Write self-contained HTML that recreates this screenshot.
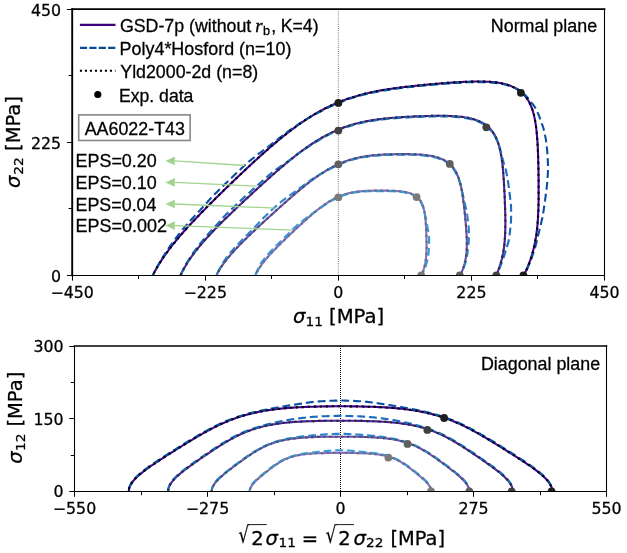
<!DOCTYPE html><html><head><meta charset="utf-8"><style>html,body{margin:0;padding:0;background:#fff}body{width:627px;height:553px;overflow:hidden}svg{display:block}</style></head><body><svg width="627" height="553" viewBox="0 0 627 553"><style>text{stroke:#000;stroke-width:0.28px;fill:#000}</style><defs><clipPath id="ct"><rect x="72.20" y="9.20" width="532.30" height="266.10"/></clipPath><clipPath id="cb"><rect x="74.50" y="346.00" width="532.00" height="145.50"/></clipPath></defs><rect width="627" height="553" fill="#fff"/><path d="M338.35 9.20V275.30" stroke="#333" stroke-width="0.8" stroke-dasharray="0.8 1.3" fill="none"/><g clip-path="url(#ct)"><path d="M521.0 280.8L521.5 280.0L521.9 279.1L522.4 278.3L522.8 277.5L523.2 276.6L523.7 275.8L524.1 274.9L524.5 274.1L524.9 273.2L525.3 272.3L525.7 271.5L526.1 270.6L526.5 269.7L526.9 268.9L527.3 268.0L527.6 267.1L528.0 266.2L528.4 265.3L528.7 264.4L529.1 263.5L529.4 262.6L529.7 261.7L530.0 260.8L530.4 259.9L530.7 259.0L531.0 258.1L531.3 257.2L531.6 256.3L531.8 255.3L532.1 254.4L532.4 253.5L532.6 252.6L532.9 251.6L533.1 250.7L533.4 249.7L533.6 248.8L533.8 247.9L534.1 246.9L534.3 246.0L534.5 245.0L534.7 244.1L534.9 243.1L535.1 242.2L535.3 241.2L535.4 240.2L535.6 239.3L535.8 238.3L535.9 237.3L536.1 236.4L536.2 235.4L536.4 234.4L536.5 233.5L536.6 232.5L536.7 231.5L536.9 230.5L537.0 229.5L537.1 228.6L537.2 227.6L537.3 226.6L537.4 225.6L537.5 224.6L537.6 223.6L537.6 222.6L537.7 221.6L537.8 220.6L537.9 219.6L537.9 218.6L538.0 217.6L538.0 216.6L538.1 215.6L538.1 214.6L538.2 213.5L538.2 212.5L538.3 211.5L538.3 210.5L538.4 209.5L538.4 208.4L538.4 207.4L538.5 206.4L538.5 205.3L538.5 204.3L538.5 203.2L538.5 202.2L538.6 201.2L538.6 200.1L538.6 199.0L538.6 198.0L538.6 196.9L538.6 195.9L538.6 194.8L538.6 193.7L538.6 192.7L538.6 191.6L538.6 190.5L538.6 189.4L538.6 188.3L538.6 187.2L538.6 186.1L538.6 185.0L538.6 183.9L538.6 182.8L538.6 181.7L538.6 180.6L538.6 179.5L538.6 178.4L538.6 177.2L538.5 176.1L538.5 175.0L538.5 173.8L538.5 172.7L538.5 171.5L538.5 170.4L538.4 169.2L538.4 168.1L538.4 166.9L538.4 165.7L538.3 164.5L538.3 163.3L538.3 162.2L538.2 161.0L538.2 159.8L538.2 158.6L538.1 157.4L538.1 156.1L538.1 154.9L538.0 153.7L538.0 152.5L537.9 151.2L537.9 150.0L537.8 148.8L537.8 147.5L537.7 146.3L537.6 145.0L537.6 143.7L537.5 142.5L537.4 141.2L537.3 139.9L537.2 138.7L537.1 137.4L537.0 136.1L536.9 134.8L536.8 133.5L536.7 132.2L536.6 130.9L536.4 129.7L536.3 128.4L536.1 127.1L535.9 125.8L535.7 124.5L535.5 123.2L535.3 121.9L535.1 120.7L534.9 119.4L534.6 118.1L534.3 116.9L534.1 115.6L533.8 114.4L533.4 113.1L533.1 111.9L532.7 110.7L532.3 109.5L531.9 108.3L531.5 107.1L531.0 106.0L530.5 104.8L530.0 103.7L529.4 102.6L528.9 101.6L528.3 100.5L527.6 99.5L527.0 98.5L526.3 97.5L525.5 96.6L524.8 95.6L524.0 94.8L523.2 93.9L522.3 93.1L521.5 92.3L520.5 91.5L519.6 90.8L518.6 90.1L517.6 89.4L516.6 88.8L515.5 88.2L514.5 87.6L513.3 87.1L512.2 86.6L511.1 86.1L509.9 85.6L508.7 85.2L507.5 84.8L506.2 84.5L505.0 84.1L503.7 83.8L502.4 83.5L501.1 83.3L499.8 83.0L498.5 82.8L497.2 82.6L495.9 82.4L494.5 82.3L493.2 82.1L491.8 82.0L490.5 81.9L489.1 81.8L487.8 81.7L486.4 81.7L485.0 81.6L483.7 81.6L482.3 81.5L481.0 81.5L479.6 81.5L478.3 81.5L476.9 81.5L475.6 81.5L474.2 81.5L472.9 81.6L471.5 81.6L470.2 81.6L468.9 81.7L467.6 81.7L466.3 81.8L465.0 81.8L463.7 81.9L462.4 82.0L461.1 82.0L459.8 82.1L458.5 82.2L457.2 82.3L456.0 82.3L454.7 82.4L453.5 82.5L452.2 82.6L451.0 82.7L449.8 82.8L448.5 82.8L447.3 82.9L446.1 83.0L444.9 83.1L443.7 83.2L442.5 83.3L441.3 83.4L440.1 83.5L439.0 83.6L437.8 83.7L436.6 83.8L435.5 83.9L434.3 84.0L433.2 84.1L432.0 84.2L430.9 84.3L429.8 84.4L428.7 84.5L427.5 84.6L426.4 84.7L425.3 84.8L424.2 84.9L423.1 85.0L422.0 85.1L421.0 85.2L419.9 85.3L418.8 85.4L417.7 85.6L416.7 85.7L415.6 85.8L414.6 85.9L413.5 86.0L412.5 86.1L411.4 86.2L410.4 86.3L409.3 86.5L408.3 86.6L407.3 86.7L406.3 86.8L405.3 86.9L404.2 87.0L403.2 87.2L402.2 87.3L401.2 87.4L400.2 87.5L399.2 87.7L398.3 87.8L397.3 87.9L396.3 88.1L395.3 88.2L394.3 88.3L393.4 88.5L392.4 88.6L391.4 88.7L390.5 88.9L389.5 89.0L388.5 89.2L387.6 89.3L386.6 89.5L385.7 89.6L384.8 89.8L383.8 89.9L382.9 90.1L381.9 90.3L381.0 90.4L380.1 90.6L379.2 90.8L378.2 90.9L377.3 91.1L376.4 91.3L375.5 91.5L374.6 91.6L373.7 91.8L372.8 92.0L371.8 92.2L370.9 92.4L370.1 92.6L369.2 92.8L368.3 93.0L367.4 93.2L366.5 93.4L365.6 93.6L364.7 93.8L363.8 94.0L363.0 94.3L362.1 94.5L361.2 94.7L360.4 95.0L359.5 95.2L358.6 95.4L357.8 95.7L356.9 95.9L356.1 96.2L355.2 96.4L354.4 96.7L353.5 96.9L352.7 97.2L351.8 97.5L351.0 97.7L350.1 98.0L349.3 98.3L348.5 98.6L347.7 98.8L346.8 99.1L346.0 99.4L345.2 99.7L344.4 100.0L343.6 100.3L342.8 100.6L341.9 100.9L341.1 101.2L340.3 101.5L339.5 101.9L338.7 102.2L338.0 102.5L337.2 102.8L336.4 103.2L335.6 103.5L334.8 103.8L334.0 104.2L333.3 104.5L332.5 104.9L331.7 105.2L331.0 105.6L330.2 105.9L329.4 106.3L328.7 106.7L327.9 107.0L327.2 107.4L326.4 107.8L325.7 108.1L325.0 108.5L324.2 108.9L323.5 109.3L322.7 109.7L322.0 110.1L321.3 110.4L320.6 110.8L319.9 111.2L319.1 111.6L318.4 112.0L317.7 112.4L317.0 112.8L316.3 113.2L315.6 113.6L314.9 114.1L314.2 114.5L313.5 114.9L312.8 115.3L312.2 115.7L311.5 116.1L310.8 116.5L310.1 117.0L309.5 117.4L308.8 117.8L308.1 118.2L307.5 118.7L306.8 119.1L306.1 119.5L305.5 120.0L304.8 120.4L304.2 120.8L303.5 121.3L302.9 121.7L302.3 122.1L301.6 122.6L301.0 123.0L300.4 123.4L299.7 123.9L299.1 124.3L298.5 124.8L297.9 125.2L297.3 125.6L296.6 126.1L296.0 126.5L295.4 127.0L294.8 127.4L294.2 127.9L293.6 128.3L293.0 128.8L292.4 129.2L291.8 129.7L291.2 130.1L290.6 130.5L290.1 131.0L289.5 131.4L288.9 131.9L288.3 132.3L287.7 132.8L287.2 133.2L286.6 133.7L286.0 134.1L285.4 134.6L284.9 135.0L284.3 135.5L283.8 135.9L283.2 136.4L282.6 136.8L282.1 137.3L281.5 137.7L281.0 138.2L280.4 138.6L279.9 139.1L279.3 139.5L278.8 140.0L278.3 140.4L277.7 140.9L277.2 141.3L276.6 141.8L276.1 142.2L275.6 142.7L275.0 143.1L274.5 143.6L274.0 144.0L273.5 144.5L272.9 144.9L272.4 145.4L271.9 145.8L271.4 146.2L270.9 146.7L270.3 147.1L269.8 147.6L269.3 148.0L268.8 148.5L268.3 148.9L267.8 149.4L267.3 149.8L266.8 150.3L266.3 150.7L265.8 151.1L265.3 151.6L264.8 152.0L264.3 152.5L263.8 152.9L263.3 153.4L262.8 153.8L262.3 154.3L261.8 154.7L261.3 155.1L260.8 155.6L260.3 156.0L259.8 156.5L259.3 156.9L258.8 157.4L258.3 157.8L257.8 158.2L257.4 158.7L256.9 159.1L256.4 159.6L255.9 160.0L255.4 160.4L254.9 160.9L254.5 161.3L254.0 161.8L253.5 162.2L253.0 162.6L252.5 163.1L252.1 163.5L251.6 164.0L251.1 164.4L250.6 164.8L250.2 165.3L249.7 165.7L249.2 166.2L248.7 166.6L248.3 167.0L247.8 167.5L247.3 167.9L246.9 168.4L246.4 168.8L245.9 169.2L245.4 169.7L245.0 170.1L244.5 170.6L244.0 171.0L243.6 171.5L243.1 171.9L242.6 172.3L242.2 172.8L241.7 173.2L241.2 173.7L240.8 174.1L240.3 174.5L239.8 175.0L239.4 175.4L238.9 175.9L238.4 176.3L237.9 176.8L237.5 177.2L237.0 177.7L236.5 178.1L236.1 178.5L235.6 179.0L235.1 179.4L234.7 179.9L234.2 180.3L233.7 180.8L233.3 181.2L232.8 181.7L232.3 182.1L231.9 182.6L231.4 183.0L230.9 183.5L230.5 183.9L230.0 184.4L229.5 184.8L229.1 185.3L228.6 185.7L228.1 186.2L227.6 186.6L227.2 187.1L226.7 187.6L226.2 188.0L225.8 188.5L225.3 188.9L224.8 189.4L224.3 189.8L223.9 190.3L223.4 190.8L222.9 191.2L222.4 191.7L222.0 192.2L221.5 192.6L221.0 193.1L220.5 193.6L220.1 194.0L219.6 194.5L219.1 195.0L218.6 195.4L218.1 195.9L217.7 196.4L217.2 196.9L216.7 197.3L216.2 197.8L215.7 198.3L215.2 198.8L214.8 199.3L214.3 199.7L213.8 200.2L213.3 200.7L212.8 201.2L212.3 201.7L211.8 202.2L211.3 202.7L210.9 203.1L210.4 203.6L209.9 204.1L209.4 204.6L208.9 205.1L208.4 205.6L207.9 206.1L207.4 206.6L206.9 207.1L206.4 207.6L205.9 208.1L205.4 208.7L204.9 209.2L204.4 209.7L203.9 210.2L203.4 210.7L202.9 211.2L202.3 211.8L201.8 212.3L201.3 212.8L200.8 213.3L200.3 213.9L199.8 214.4L199.3 214.9L198.8 215.5L198.2 216.0L197.7 216.5L197.2 217.1L196.7 217.6L196.2 218.2L195.7 218.7L195.1 219.3L194.6 219.8L194.1 220.4L193.6 220.9L193.0 221.5L192.5 222.0L192.0 222.6L191.4 223.2L190.9 223.7L190.4 224.3L189.9 224.9L189.3 225.5L188.8 226.1L188.3 226.6L187.7 227.2L187.2 227.8L186.6 228.4L186.1 229.0L185.6 229.6L185.0 230.2L184.5 230.8L183.9 231.4L183.4 232.0L182.9 232.7L182.3 233.3L181.8 233.9L181.2 234.5L180.7 235.2L180.1 235.8L179.6 236.4L179.1 237.1L178.5 237.7L178.0 238.3L177.4 239.0L176.9 239.7L176.3 240.3L175.8 241.0L175.2 241.6L174.7 242.3L174.2 243.0L173.6 243.6L173.1 244.3L172.5 245.0L172.0 245.7L171.4 246.4L170.9 247.1L170.4 247.8L169.8 248.5L169.3 249.2L168.8 249.9L168.2 250.6L167.7 251.3L167.2 252.1L166.6 252.8L166.1 253.5L165.6 254.3L165.0 255.0L164.5 255.8L164.0 256.5L163.5 257.3L163.0 258.0L162.5 258.8L162.0 259.5L161.4 260.3L160.9 261.1L160.4 261.9L159.9 262.7L159.5 263.4L159.0 264.2L158.5 265.0L158.0 265.8L157.5 266.6L157.0 267.4L156.6 268.3L156.1 269.1L155.7 269.9L155.2 270.7L154.7 271.6L154.3 272.4L153.9 273.2L153.4 274.1L153.0 274.9L152.6 275.8L152.2 276.6L151.7 277.5L151.3 278.3L150.9 279.2L150.5 280.1L150.1 280.9" stroke="#3f0090" stroke-width="2.1" fill="none"/><path d="M521.0 280.8L521.5 280.0L521.9 279.1L522.4 278.3L522.8 277.5L523.2 276.6L523.7 275.8L524.1 274.9L524.5 274.1L525.0 273.2L525.4 272.4L525.8 271.5L526.2 270.7L526.6 269.8L527.0 268.9L527.5 268.1L527.8 267.2L528.2 266.3L528.6 265.4L529.0 264.5L529.4 263.7L529.7 262.8L530.1 261.9L530.5 261.0L530.8 260.1L531.2 259.2L531.5 258.3L531.8 257.4L532.2 256.4L532.5 255.5L532.8 254.6L533.1 253.7L533.4 252.8L533.7 251.8L534.0 250.9L534.3 250.0L534.6 249.0L534.9 248.1L535.2 247.2L535.4 246.2L535.7 245.3L535.9 244.3L536.2 243.4L536.4 242.4L536.7 241.5L536.9 240.5L537.1 239.5L537.4 238.6L537.6 237.6L537.8 236.6L538.0 235.7L538.3 234.7L538.5 233.7L538.8 232.8L539.0 231.8L539.3 230.8L539.5 229.8L539.8 228.8L540.0 227.9L540.3 226.9L540.5 225.9L540.7 224.9L541.0 223.9L541.2 222.9L541.4 221.9L541.6 220.9L541.8 219.9L542.1 218.9L542.3 217.8L542.5 216.8L542.7 215.8L542.9 214.8L543.0 213.8L543.2 212.7L543.4 211.7L543.6 210.7L543.7 209.6L543.9 208.6L544.0 207.6L544.2 206.5L544.3 205.5L544.5 204.4L544.6 203.4L544.8 202.3L544.9 201.3L545.1 200.2L545.2 199.1L545.4 198.1L545.5 197.0L545.6 195.9L545.8 194.8L545.9 193.8L546.1 192.7L546.2 191.6L546.3 190.5L546.5 189.4L546.6 188.3L546.7 187.2L546.9 186.1L547.0 185.0L547.1 183.9L547.2 182.8L547.3 181.7L547.4 180.5L547.5 179.4L547.6 178.3L547.6 177.1L547.7 176.0L547.8 174.8L547.8 173.7L547.9 172.5L547.9 171.4L548.0 170.2L548.0 169.0L548.0 167.9L548.0 166.7L548.0 165.5L547.9 164.3L547.9 163.1L547.9 161.9L547.8 160.7L547.7 159.5L547.7 158.3L547.6 157.1L547.5 155.8L547.5 154.6L547.4 153.4L547.3 152.1L547.2 150.9L547.1 149.6L547.0 148.3L546.8 147.1L546.7 145.8L546.6 144.5L546.4 143.2L546.2 141.9L546.1 140.6L545.9 139.3L545.6 138.0L545.4 136.7L545.1 135.4L544.9 134.1L544.6 132.8L544.3 131.5L543.9 130.2L543.6 128.8L543.2 127.5L542.7 126.2L542.3 124.9L541.8 123.6L541.4 122.3L540.9 121.0L540.4 119.7L540.0 118.4L539.5 117.1L539.0 115.8L538.5 114.5L538.0 113.3L537.5 112.0L536.9 110.8L536.3 109.6L535.6 108.4L534.9 107.2L534.2 106.1L533.4 105.0L532.6 103.9L531.7 102.9L530.9 101.9L530.1 100.9L529.4 99.9L528.6 98.9L527.8 97.9L527.0 97.0L526.1 96.1L525.3 95.2L524.4 94.4L523.5 93.6L522.6 92.8L521.6 92.1L520.6 91.4L519.7 90.7L518.6 90.0L517.6 89.4L516.6 88.8L515.5 88.3L514.4 87.7L513.3 87.2L512.1 86.8L511.0 86.3L509.8 85.9L508.6 85.5L507.4 85.2L506.1 84.8L504.9 84.5L503.6 84.2L502.3 84.0L501.0 83.8L499.7 83.5L498.4 83.3L497.1 83.2L495.8 83.0L494.5 82.9L493.1 82.7L491.8 82.6L490.4 82.5L489.1 82.4L487.7 82.3L486.4 82.3L485.0 82.2L483.7 82.2L482.3 82.1L481.0 82.1L479.6 82.1L478.3 82.1L476.9 82.1L475.6 82.1L474.2 82.1L472.9 82.2L471.6 82.2L470.2 82.2L468.9 82.3L467.6 82.3L466.3 82.4L465.0 82.4L463.7 82.5L462.4 82.6L461.1 82.6L459.8 82.7L458.5 82.8L457.3 82.9L456.0 82.9L454.8 83.0L453.5 83.1L452.3 83.2L451.0 83.3L449.8 83.4L448.6 83.4L447.4 83.5L446.1 83.6L444.9 83.7L443.7 83.8L442.5 83.9L441.4 84.0L440.2 84.1L439.0 84.2L437.8 84.3L436.7 84.4L435.5 84.5L434.4 84.6L433.2 84.7L432.1 84.8L431.0 84.9L429.8 85.0L428.7 85.1L427.6 85.2L426.5 85.3L425.4 85.4L424.3 85.5L423.2 85.6L422.1 85.7L421.0 85.8L419.9 85.9L418.9 86.0L417.8 86.2L416.7 86.3L415.7 86.4L414.6 86.5L413.6 86.6L412.5 86.7L411.5 86.8L410.4 86.9L409.4 87.0L408.4 87.2L407.4 87.3L406.3 87.4L405.3 87.5L404.3 87.6L403.3 87.8L402.3 87.9L401.3 88.0L400.3 88.1L399.3 88.3L398.3 88.4L397.3 88.5L396.4 88.7L395.4 88.8L394.4 88.9L393.4 89.1L392.5 89.2L391.5 89.3L390.5 89.5L389.6 89.6L388.6 89.8L387.7 89.9L386.7 90.1L385.8 90.2L384.8 90.4L383.9 90.5L383.0 90.7L382.0 90.8L381.1 91.0L380.2 91.2L379.3 91.3L378.3 91.5L377.4 91.7L376.5 91.9L375.6 92.0L374.7 92.2L373.8 92.4L372.9 92.6L372.0 92.8L371.1 93.0L370.2 93.2L369.3 93.4L368.4 93.6L367.5 93.8L366.6 94.0L365.7 94.2L364.9 94.4L364.0 94.6L363.1 94.8L362.2 95.1L361.4 95.3L360.5 95.5L359.6 95.8L358.8 96.0L357.9 96.2L357.1 96.5L356.2 96.7L355.4 97.0L354.5 97.2L353.7 97.5L352.8 97.8L352.0 98.0L351.2 98.3L350.3 98.6L349.5 98.8L348.7 99.1L347.9 99.4L347.0 99.7L346.2 100.0L345.4 100.3L344.6 100.6L343.8 100.9L343.0 101.2L342.2 101.5L341.4 101.8L340.6 102.1L339.8 102.4L339.0 102.7L338.2 103.1L337.4 103.4L336.6 103.7L335.8 104.1L335.1 104.4L334.3 104.7L333.5 105.1L332.7 105.4L332.0 105.8L331.2 106.1L330.5 106.5L329.7 106.8L328.9 107.2L328.2 107.6L327.4 107.9L326.7 108.3L326.0 108.7L325.2 109.1L324.5 109.4L323.8 109.8L323.0 110.2L322.3 110.6L321.6 110.9L320.8 111.3L320.1 111.7L319.4 112.0L318.7 112.4L317.9 112.8L317.2 113.2L316.5 113.5L315.8 113.9L315.0 114.3L314.3 114.6L313.6 115.0L312.9 115.4L312.2 115.8L311.5 116.2L310.8 116.6L310.1 117.0L309.4 117.4L308.8 117.8L308.1 118.2L307.4 118.6L306.7 119.0L306.0 119.4L305.4 119.8L304.7 120.2L304.0 120.6L303.4 121.0L302.7 121.4L302.1 121.8L301.4 122.3L300.8 122.7L300.1 123.1L299.5 123.5L298.8 123.9L298.2 124.4L297.6 124.8L296.9 125.2L296.3 125.6L295.7 126.1L295.1 126.5L294.4 126.9L293.8 127.3L293.2 127.8L292.6 128.2L292.0 128.6L291.4 129.1L290.8 129.5L290.2 129.9L289.6 130.4L289.0 130.8L288.4 131.2L287.8 131.7L287.2 132.1L286.6 132.5L286.0 133.0L285.4 133.4L284.8 133.8L284.3 134.3L283.7 134.7L283.1 135.1L282.5 135.6L282.0 136.0L281.4 136.5L280.8 136.9L280.3 137.3L279.7 137.8L279.2 138.2L278.6 138.6L278.1 139.1L277.5 139.5L276.9 140.0L276.4 140.4L275.8 140.8L275.3 141.3L274.7 141.7L274.2 142.1L273.7 142.5L273.1 143.0L272.6 143.4L272.0 143.8L271.4 144.2L270.9 144.6L270.3 145.1L269.8 145.5L269.2 145.9L268.7 146.3L268.1 146.7L267.6 147.1L267.1 147.5L266.5 147.9L266.0 148.3L265.4 148.7L264.9 149.1L264.3 149.6L263.8 150.0L263.3 150.4L262.7 150.8L262.2 151.2L261.7 151.6L261.1 152.0L260.6 152.4L260.1 152.8L259.5 153.2L259.0 153.6L258.5 154.0L257.9 154.4L257.4 154.8L256.9 155.2L256.4 155.6L255.8 156.0L255.3 156.4L254.8 156.8L254.3 157.3L253.8 157.7L253.3 158.1L252.7 158.5L252.2 158.9L251.7 159.3L251.2 159.7L250.7 160.1L250.2 160.5L249.7 160.9L249.2 161.3L248.7 161.7L248.2 162.2L247.7 162.6L247.2 163.0L246.7 163.5L246.2 163.9L245.8 164.3L245.3 164.8L244.8 165.2L244.3 165.7L243.9 166.1L243.4 166.5L242.9 167.0L242.4 167.4L242.0 167.9L241.5 168.3L241.0 168.8L240.6 169.2L240.1 169.6L239.6 170.1L239.1 170.5L238.7 171.0L238.2 171.4L237.7 171.9L237.3 172.3L236.8 172.7L236.3 173.2L235.9 173.6L235.4 174.1L234.9 174.5L234.5 175.0L234.0 175.4L233.5 175.9L233.1 176.3L232.6 176.8L232.1 177.2L231.7 177.7L231.2 178.1L230.7 178.6L230.2 179.0L229.8 179.5L229.3 179.9L228.8 180.4L228.4 180.8L227.9 181.3L227.4 181.7L227.0 182.2L226.5 182.6L226.0 183.1L225.5 183.5L225.1 184.0L224.6 184.4L224.1 184.9L223.7 185.4L223.2 185.8L222.7 186.3L222.2 186.7L221.8 187.2L221.3 187.7L220.8 188.1L220.4 188.6L219.9 189.1L219.4 189.5L218.9 190.0L218.5 190.5L218.0 190.9L217.5 191.4L217.0 191.9L216.5 192.4L216.1 192.8L215.6 193.3L215.1 193.8L214.6 194.3L214.2 194.8L213.7 195.2L213.2 195.7L212.7 196.2L212.2 196.7L211.8 197.2L211.3 197.7L210.8 198.2L210.3 198.7L209.9 199.2L209.4 199.7L208.9 200.3L208.5 200.8L208.0 201.3L207.6 201.8L207.1 202.4L206.6 202.9L206.2 203.4L205.7 204.0L205.2 204.5L204.7 205.0L204.3 205.5L203.8 206.1L203.3 206.6L202.8 207.1L202.3 207.7L201.8 208.2L201.3 208.7L200.9 209.3L200.4 209.8L199.9 210.4L199.4 210.9L198.9 211.5L198.4 212.0L197.9 212.5L197.4 213.1L196.9 213.6L196.4 214.2L195.9 214.7L195.3 215.3L194.8 215.8L194.3 216.4L193.8 216.9L193.3 217.5L192.8 218.1L192.2 218.6L191.7 219.2L191.2 219.7L190.7 220.3L190.1 220.9L189.6 221.5L189.1 222.0L188.5 222.6L188.0 223.2L187.5 223.8L187.0 224.4L186.4 225.0L185.9 225.6L185.4 226.2L184.9 226.8L184.3 227.4L183.8 228.1L183.3 228.7L182.8 229.3L182.3 229.9L181.8 230.6L181.2 231.2L180.7 231.9L180.2 232.5L179.7 233.2L179.2 233.8L178.7 234.5L178.1 235.2L177.6 235.8L177.1 236.5L176.6 237.2L176.1 237.9L175.6 238.6L175.1 239.3L174.5 239.9L174.0 240.6L173.5 241.3L173.0 242.0L172.5 242.8L172.0 243.5L171.5 244.2L171.0 244.9L170.4 245.6L169.9 246.3L169.4 247.1L168.9 247.8L168.4 248.5L167.9 249.3L167.4 250.0L166.9 250.8L166.4 251.5L165.9 252.3L165.4 253.1L165.0 253.8L164.5 254.6L164.0 255.4L163.5 256.2L163.0 256.9L162.5 257.7L162.1 258.5L161.6 259.3L161.1 260.1L160.6 260.9L160.2 261.7L159.7 262.5L159.2 263.3L158.7 264.1L158.3 264.9L157.8 265.7L157.4 266.5L156.9 267.4L156.5 268.2L156.0 269.0L155.6 269.9L155.1 270.7L154.7 271.5L154.3 272.4L153.8 273.2L153.4 274.1L153.0 274.9L152.6 275.8L152.2 276.6L151.7 277.5L151.3 278.3L150.9 279.2L150.5 280.1L150.1 280.9" stroke="#0a50a0" stroke-width="2.1" fill="none" stroke-dasharray="7.9 4.0"/><path d="M521.0 280.8L521.5 280.0L521.9 279.1L522.4 278.3L522.8 277.5L523.2 276.6L523.7 275.8L524.1 274.9L524.5 274.1L524.9 273.2L525.3 272.3L525.7 271.5L526.1 270.6L526.5 269.7L526.9 268.9L527.3 268.0L527.6 267.1L528.0 266.2L528.4 265.3L528.7 264.4L529.1 263.5L529.4 262.6L529.7 261.7L530.0 260.8L530.4 259.9L530.7 259.0L531.0 258.1L531.3 257.2L531.6 256.3L531.8 255.3L532.1 254.4L532.4 253.5L532.6 252.6L532.9 251.6L533.1 250.7L533.4 249.7L533.6 248.8L533.8 247.9L534.1 246.9L534.3 246.0L534.5 245.0L534.7 244.1L534.9 243.1L535.1 242.2L535.3 241.2L535.4 240.2L535.6 239.3L535.8 238.3L535.9 237.3L536.1 236.4L536.2 235.4L536.4 234.4L536.5 233.5L536.6 232.5L536.7 231.5L536.9 230.5L537.0 229.5L537.1 228.6L537.2 227.6L537.3 226.6L537.4 225.6L537.5 224.6L537.6 223.6L537.6 222.6L537.7 221.6L537.8 220.6L537.9 219.6L537.9 218.6L538.0 217.6L538.0 216.6L538.1 215.6L538.1 214.6L538.2 213.5L538.2 212.5L538.3 211.5L538.3 210.5L538.4 209.5L538.4 208.4L538.4 207.4L538.5 206.4L538.5 205.3L538.5 204.3L538.5 203.2L538.5 202.2L538.6 201.2L538.6 200.1L538.6 199.0L538.6 198.0L538.6 196.9L538.6 195.9L538.6 194.8L538.6 193.7L538.6 192.7L538.6 191.6L538.6 190.5L538.6 189.4L538.6 188.3L538.6 187.2L538.6 186.1L538.6 185.0L538.6 183.9L538.6 182.8L538.6 181.7L538.6 180.6L538.6 179.5L538.6 178.4L538.6 177.2L538.5 176.1L538.5 175.0L538.5 173.8L538.5 172.7L538.5 171.5L538.5 170.4L538.4 169.2L538.4 168.1L538.4 166.9L538.4 165.7L538.3 164.5L538.3 163.3L538.3 162.2L538.2 161.0L538.2 159.8L538.2 158.6L538.1 157.4L538.1 156.1L538.1 154.9L538.0 153.7L538.0 152.5L537.9 151.2L537.9 150.0L537.8 148.8L537.8 147.5L537.7 146.3L537.6 145.0L537.6 143.7L537.5 142.5L537.4 141.2L537.3 139.9L537.2 138.7L537.1 137.4L537.0 136.1L536.9 134.8L536.8 133.5L536.7 132.2L536.6 130.9L536.4 129.7L536.3 128.4L536.1 127.1L535.9 125.8L535.7 124.5L535.5 123.2L535.3 121.9L535.1 120.7L534.9 119.4L534.6 118.1L534.3 116.9L534.1 115.6L533.8 114.4L533.4 113.1L533.1 111.9L532.7 110.7L532.3 109.5L531.9 108.3L531.5 107.1L531.0 106.0L530.5 104.8L530.0 103.7L529.4 102.6L528.9 101.6L528.3 100.5L527.6 99.5L527.0 98.5L526.3 97.5L525.5 96.6L524.8 95.6L524.0 94.8L523.2 93.9L522.3 93.1L521.5 92.3L520.5 91.5L519.6 90.8L518.6 90.1L517.6 89.4L516.6 88.8L515.5 88.2L514.5 87.6L513.3 87.1L512.2 86.6L511.1 86.1L509.9 85.6L508.7 85.2L507.5 84.8L506.2 84.5L505.0 84.1L503.7 83.8L502.4 83.5L501.1 83.3L499.8 83.0L498.5 82.8L497.2 82.6L495.9 82.4L494.5 82.3L493.2 82.1L491.8 82.0L490.5 81.9L489.1 81.8L487.8 81.7L486.4 81.7L485.0 81.6L483.7 81.6L482.3 81.5L481.0 81.5L479.6 81.5L478.3 81.5L476.9 81.5L475.6 81.5L474.2 81.5L472.9 81.6L471.5 81.6L470.2 81.6L468.9 81.7L467.6 81.7L466.3 81.8L465.0 81.8L463.7 81.9L462.4 82.0L461.1 82.0L459.8 82.1L458.5 82.2L457.2 82.3L456.0 82.3L454.7 82.4L453.5 82.5L452.2 82.6L451.0 82.7L449.8 82.8L448.5 82.8L447.3 82.9L446.1 83.0L444.9 83.1L443.7 83.2L442.5 83.3L441.3 83.4L440.1 83.5L439.0 83.6L437.8 83.7L436.6 83.8L435.5 83.9L434.3 84.0L433.2 84.1L432.0 84.2L430.9 84.3L429.8 84.4L428.7 84.5L427.5 84.6L426.4 84.7L425.3 84.8L424.2 84.9L423.1 85.0L422.0 85.1L421.0 85.2L419.9 85.3L418.8 85.4L417.7 85.6L416.7 85.7L415.6 85.8L414.6 85.9L413.5 86.0L412.5 86.1L411.4 86.2L410.4 86.3L409.3 86.5L408.3 86.6L407.3 86.7L406.3 86.8L405.3 86.9L404.2 87.0L403.2 87.2L402.2 87.3L401.2 87.4L400.2 87.5L399.2 87.7L398.3 87.8L397.3 87.9L396.3 88.1L395.3 88.2L394.3 88.3L393.4 88.5L392.4 88.6L391.4 88.7L390.5 88.9L389.5 89.0L388.5 89.2L387.6 89.3L386.6 89.5L385.7 89.6L384.8 89.8L383.8 89.9L382.9 90.1L381.9 90.3L381.0 90.4L380.1 90.6L379.2 90.8L378.2 90.9L377.3 91.1L376.4 91.3L375.5 91.5L374.6 91.6L373.7 91.8L372.8 92.0L371.8 92.2L370.9 92.4L370.1 92.6L369.2 92.8L368.3 93.0L367.4 93.2L366.5 93.4L365.6 93.6L364.7 93.8L363.8 94.0L363.0 94.3L362.1 94.5L361.2 94.7L360.4 95.0L359.5 95.2L358.6 95.4L357.8 95.7L356.9 95.9L356.1 96.2L355.2 96.4L354.4 96.7L353.5 96.9L352.7 97.2L351.8 97.5L351.0 97.7L350.1 98.0L349.3 98.3L348.5 98.6L347.7 98.8L346.8 99.1L346.0 99.4L345.2 99.7L344.4 100.0L343.6 100.3L342.8 100.6L341.9 100.9L341.1 101.2L340.3 101.5L339.5 101.9L338.7 102.2L338.0 102.5L337.2 102.8L336.4 103.2L335.6 103.5L334.8 103.8L334.0 104.2L333.3 104.5L332.5 104.9L331.7 105.2L331.0 105.6L330.2 105.9L329.4 106.3L328.7 106.7L327.9 107.0L327.2 107.4L326.4 107.8L325.7 108.1L325.0 108.5L324.2 108.9L323.5 109.3L322.7 109.7L322.0 110.1L321.3 110.4L320.6 110.8L319.9 111.2L319.1 111.6L318.4 112.0L317.7 112.4L317.0 112.8L316.3 113.2L315.6 113.6L314.9 114.1L314.2 114.5L313.5 114.9L312.8 115.3L312.2 115.7L311.5 116.1L310.8 116.5L310.1 117.0L309.5 117.4L308.8 117.8L308.1 118.2L307.5 118.7L306.8 119.1L306.1 119.5L305.5 120.0L304.8 120.4L304.2 120.8L303.5 121.3L302.9 121.7L302.3 122.1L301.6 122.6L301.0 123.0L300.4 123.4L299.7 123.9L299.1 124.3L298.5 124.8L297.9 125.2L297.3 125.6L296.6 126.1L296.0 126.5L295.4 127.0L294.8 127.4L294.2 127.9L293.6 128.3L293.0 128.8L292.4 129.2L291.8 129.7L291.2 130.1L290.6 130.5L290.1 131.0L289.5 131.4L288.9 131.9L288.3 132.3L287.7 132.8L287.2 133.2L286.6 133.7L286.0 134.1L285.4 134.6L284.9 135.0L284.3 135.5L283.8 135.9L283.2 136.4L282.6 136.8L282.1 137.3L281.5 137.7L281.0 138.2L280.4 138.6L279.9 139.1L279.3 139.5L278.8 140.0L278.3 140.4L277.7 140.9L277.2 141.3L276.6 141.8L276.1 142.2L275.6 142.7L275.0 143.1L274.5 143.6L274.0 144.0L273.5 144.5L272.9 144.9L272.4 145.4L271.9 145.8L271.4 146.2L270.9 146.7L270.3 147.1L269.8 147.6L269.3 148.0L268.8 148.5L268.3 148.9L267.8 149.4L267.3 149.8L266.8 150.3L266.3 150.7L265.8 151.1L265.3 151.6L264.8 152.0L264.3 152.5L263.8 152.9L263.3 153.4L262.8 153.8L262.3 154.3L261.8 154.7L261.3 155.1L260.8 155.6L260.3 156.0L259.8 156.5L259.3 156.9L258.8 157.4L258.3 157.8L257.8 158.2L257.4 158.7L256.9 159.1L256.4 159.6L255.9 160.0L255.4 160.4L254.9 160.9L254.5 161.3L254.0 161.8L253.5 162.2L253.0 162.6L252.5 163.1L252.1 163.5L251.6 164.0L251.1 164.4L250.6 164.8L250.2 165.3L249.7 165.7L249.2 166.2L248.7 166.6L248.3 167.0L247.8 167.5L247.3 167.9L246.9 168.4L246.4 168.8L245.9 169.2L245.4 169.7L245.0 170.1L244.5 170.6L244.0 171.0L243.6 171.5L243.1 171.9L242.6 172.3L242.2 172.8L241.7 173.2L241.2 173.7L240.8 174.1L240.3 174.5L239.8 175.0L239.4 175.4L238.9 175.9L238.4 176.3L237.9 176.8L237.5 177.2L237.0 177.7L236.5 178.1L236.1 178.5L235.6 179.0L235.1 179.4L234.7 179.9L234.2 180.3L233.7 180.8L233.3 181.2L232.8 181.7L232.3 182.1L231.9 182.6L231.4 183.0L230.9 183.5L230.5 183.9L230.0 184.4L229.5 184.8L229.1 185.3L228.6 185.7L228.1 186.2L227.6 186.6L227.2 187.1L226.7 187.6L226.2 188.0L225.8 188.5L225.3 188.9L224.8 189.4L224.3 189.8L223.9 190.3L223.4 190.8L222.9 191.2L222.4 191.7L222.0 192.2L221.5 192.6L221.0 193.1L220.5 193.6L220.1 194.0L219.6 194.5L219.1 195.0L218.6 195.4L218.1 195.9L217.7 196.4L217.2 196.9L216.7 197.3L216.2 197.8L215.7 198.3L215.2 198.8L214.8 199.3L214.3 199.7L213.8 200.2L213.3 200.7L212.8 201.2L212.3 201.7L211.8 202.2L211.3 202.7L210.9 203.1L210.4 203.6L209.9 204.1L209.4 204.6L208.9 205.1L208.4 205.6L207.9 206.1L207.4 206.6L206.9 207.1L206.4 207.6L205.9 208.1L205.4 208.7L204.9 209.2L204.4 209.7L203.9 210.2L203.4 210.7L202.9 211.2L202.3 211.8L201.8 212.3L201.3 212.8L200.8 213.3L200.3 213.9L199.8 214.4L199.3 214.9L198.8 215.5L198.2 216.0L197.7 216.5L197.2 217.1L196.7 217.6L196.2 218.2L195.7 218.7L195.1 219.3L194.6 219.8L194.1 220.4L193.6 220.9L193.0 221.5L192.5 222.0L192.0 222.6L191.4 223.2L190.9 223.7L190.4 224.3L189.9 224.9L189.3 225.5L188.8 226.1L188.3 226.6L187.7 227.2L187.2 227.8L186.6 228.4L186.1 229.0L185.6 229.6L185.0 230.2L184.5 230.8L183.9 231.4L183.4 232.0L182.9 232.7L182.3 233.3L181.8 233.9L181.2 234.5L180.7 235.2L180.1 235.8L179.6 236.4L179.1 237.1L178.5 237.7L178.0 238.3L177.4 239.0L176.9 239.7L176.3 240.3L175.8 241.0L175.2 241.6L174.7 242.3L174.2 243.0L173.6 243.6L173.1 244.3L172.5 245.0L172.0 245.7L171.4 246.4L170.9 247.1L170.4 247.8L169.8 248.5L169.3 249.2L168.8 249.9L168.2 250.6L167.7 251.3L167.2 252.1L166.6 252.8L166.1 253.5L165.6 254.3L165.0 255.0L164.5 255.8L164.0 256.5L163.5 257.3L163.0 258.0L162.5 258.8L162.0 259.5L161.4 260.3L160.9 261.1L160.4 261.9L159.9 262.7L159.5 263.4L159.0 264.2L158.5 265.0L158.0 265.8L157.5 266.6L157.0 267.4L156.6 268.3L156.1 269.1L155.7 269.9L155.2 270.7L154.7 271.6L154.3 272.4L153.9 273.2L153.4 274.1L153.0 274.9L152.6 275.8L152.2 276.6L151.7 277.5L151.3 278.3L150.9 279.2L150.5 280.1L150.1 280.9" stroke="#000000" stroke-width="2.1" fill="none" stroke-dasharray="2.1 3.9"/><path d="M493.8 280.0L494.2 279.3L494.6 278.6L494.9 277.8L495.3 277.1L495.6 276.4L495.9 275.7L496.3 275.0L496.6 274.2L496.9 273.5L497.2 272.8L497.5 272.1L497.8 271.3L498.1 270.6L498.4 269.8L498.7 269.1L499.0 268.3L499.2 267.6L499.5 266.8L499.7 266.1L500.0 265.3L500.2 264.6L500.5 263.8L500.7 263.0L500.9 262.3L501.1 261.5L501.4 260.7L501.6 260.0L501.8 259.2L502.0 258.4L502.1 257.6L502.3 256.9L502.5 256.1L502.7 255.3L502.8 254.5L503.0 253.7L503.1 252.9L503.3 252.2L503.4 251.4L503.5 250.6L503.7 249.8L503.8 249.0L503.9 248.2L504.0 247.4L504.1 246.6L504.2 245.8L504.3 245.0L504.4 244.2L504.5 243.4L504.5 242.6L504.6 241.8L504.7 241.0L504.8 240.2L504.8 239.3L504.9 238.5L504.9 237.7L505.0 236.9L505.0 236.1L505.1 235.3L505.1 234.5L505.2 233.6L505.2 232.8L505.2 232.0L505.2 231.2L505.3 230.3L505.3 229.5L505.3 228.7L505.3 227.9L505.3 227.0L505.3 226.2L505.3 225.4L505.4 224.5L505.4 223.7L505.4 222.8L505.4 222.0L505.4 221.2L505.3 220.3L505.3 219.5L505.3 218.6L505.3 217.8L505.3 216.9L505.3 216.1L505.3 215.2L505.3 214.4L505.2 213.5L505.2 212.6L505.2 211.8L505.2 210.9L505.1 210.0L505.1 209.2L505.1 208.3L505.1 207.4L505.0 206.5L505.0 205.6L505.0 204.8L504.9 203.9L504.9 203.0L504.9 202.1L504.8 201.2L504.8 200.3L504.8 199.4L504.7 198.5L504.7 197.6L504.7 196.7L504.6 195.7L504.6 194.8L504.5 193.9L504.5 193.0L504.4 192.1L504.4 191.1L504.3 190.2L504.3 189.3L504.2 188.3L504.2 187.4L504.1 186.4L504.1 185.5L504.0 184.5L504.0 183.6L503.9 182.6L503.9 181.6L503.8 180.7L503.7 179.7L503.7 178.7L503.6 177.7L503.5 176.8L503.5 175.8L503.4 174.8L503.3 173.8L503.2 172.8L503.2 171.8L503.1 170.8L503.0 169.8L502.9 168.8L502.8 167.8L502.7 166.8L502.6 165.8L502.5 164.7L502.4 163.7L502.2 162.7L502.1 161.7L502.0 160.7L501.8 159.6L501.7 158.6L501.5 157.6L501.4 156.6L501.2 155.6L501.0 154.5L500.8 153.5L500.6 152.5L500.4 151.5L500.2 150.5L500.0 149.5L499.7 148.5L499.5 147.5L499.2 146.5L498.9 145.5L498.6 144.5L498.3 143.5L498.0 142.6L497.7 141.6L497.3 140.7L496.9 139.7L496.5 138.8L496.1 137.9L495.7 137.0L495.2 136.1L494.8 135.3L494.3 134.4L493.8 133.6L493.2 132.8L492.7 132.0L492.1 131.2L491.5 130.4L490.9 129.7L490.2 129.0L489.5 128.3L488.9 127.6L488.1 126.9L487.4 126.3L486.7 125.7L485.9 125.1L485.1 124.5L484.3 124.0L483.4 123.5L482.6 123.0L481.7 122.5L480.8 122.0L479.9 121.6L479.0 121.2L478.1 120.8L477.1 120.4L476.2 120.1L475.2 119.7L474.2 119.4L473.2 119.1L472.2 118.9L471.2 118.6L470.2 118.3L469.1 118.1L468.1 117.9L467.1 117.7L466.0 117.5L464.9 117.4L463.9 117.2L462.8 117.0L461.8 116.9L460.7 116.8L459.6 116.7L458.6 116.6L457.5 116.5L456.4 116.4L455.4 116.3L454.3 116.2L453.2 116.2L452.2 116.1L451.1 116.1L450.0 116.0L449.0 116.0L447.9 115.9L446.9 115.9L445.8 115.9L444.8 115.9L443.7 115.9L442.7 115.9L441.7 115.8L440.6 115.8L439.6 115.8L438.6 115.8L437.6 115.8L436.5 115.9L435.5 115.9L434.5 115.9L433.5 115.9L432.5 115.9L431.5 115.9L430.6 115.9L429.6 116.0L428.6 116.0L427.6 116.0L426.6 116.0L425.7 116.1L424.7 116.1L423.8 116.1L422.8 116.2L421.9 116.2L420.9 116.2L420.0 116.3L419.0 116.3L418.1 116.3L417.2 116.4L416.2 116.4L415.3 116.4L414.4 116.5L413.5 116.5L412.6 116.6L411.7 116.6L410.8 116.7L409.9 116.7L409.0 116.7L408.1 116.8L407.2 116.8L406.3 116.9L405.5 116.9L404.6 117.0L403.7 117.0L402.8 117.1L402.0 117.1L401.1 117.2L400.3 117.3L399.4 117.3L398.5 117.4L397.7 117.4L396.9 117.5L396.0 117.6L395.2 117.6L394.3 117.7L393.5 117.8L392.7 117.8L391.8 117.9L391.0 118.0L390.2 118.0L389.4 118.1L388.5 118.2L387.7 118.3L386.9 118.4L386.1 118.4L385.3 118.5L384.5 118.6L383.7 118.7L382.9 118.8L382.1 118.9L381.3 119.0L380.5 119.1L379.7 119.2L378.9 119.3L378.1 119.4L377.3 119.5L376.5 119.6L375.8 119.7L375.0 119.8L374.2 119.9L373.4 120.0L372.7 120.2L371.9 120.3L371.1 120.4L370.3 120.5L369.6 120.7L368.8 120.8L368.1 121.0L367.3 121.1L366.5 121.2L365.8 121.4L365.0 121.5L364.3 121.7L363.5 121.8L362.8 122.0L362.0 122.2L361.3 122.3L360.6 122.5L359.8 122.7L359.1 122.9L358.3 123.0L357.6 123.2L356.9 123.4L356.2 123.6L355.4 123.8L354.7 124.0L354.0 124.2L353.3 124.4L352.5 124.6L351.8 124.8L351.1 125.0L350.4 125.2L349.7 125.5L349.0 125.7L348.3 125.9L347.6 126.1L346.9 126.4L346.2 126.6L345.5 126.9L344.8 127.1L344.1 127.3L343.4 127.6L342.7 127.9L342.1 128.1L341.4 128.4L340.7 128.6L340.0 128.9L339.4 129.2L338.7 129.4L338.0 129.7L337.4 130.0L336.7 130.3L336.0 130.6L335.4 130.9L334.7 131.2L334.1 131.5L333.4 131.8L332.8 132.1L332.1 132.4L331.5 132.7L330.8 133.0L330.2 133.3L329.6 133.6L328.9 133.9L328.3 134.2L327.7 134.6L327.1 134.9L326.4 135.2L325.8 135.5L325.2 135.9L324.6 136.2L324.0 136.5L323.4 136.9L322.8 137.2L322.2 137.5L321.6 137.9L321.0 138.2L320.4 138.6L319.8 138.9L319.2 139.3L318.6 139.6L318.1 140.0L317.5 140.3L316.9 140.7L316.3 141.0L315.7 141.4L315.2 141.7L314.6 142.1L314.0 142.5L313.5 142.8L312.9 143.2L312.4 143.6L311.8 143.9L311.3 144.3L310.7 144.7L310.2 145.0L309.6 145.4L309.1 145.8L308.5 146.1L308.0 146.5L307.5 146.9L306.9 147.2L306.4 147.6L305.9 148.0L305.4 148.4L304.8 148.7L304.3 149.1L303.8 149.5L303.3 149.9L302.8 150.2L302.3 150.6L301.8 151.0L301.2 151.4L300.7 151.7L300.2 152.1L299.7 152.5L299.2 152.9L298.7 153.2L298.2 153.6L297.8 154.0L297.3 154.4L296.8 154.7L296.3 155.1L295.8 155.5L295.3 155.9L294.8 156.3L294.4 156.6L293.9 157.0L293.4 157.4L292.9 157.8L292.5 158.1L292.0 158.5L291.5 158.9L291.0 159.3L290.6 159.6L290.1 160.0L289.7 160.4L289.2 160.8L288.7 161.2L288.3 161.5L287.8 161.9L287.4 162.3L286.9 162.7L286.5 163.0L286.0 163.4L285.6 163.8L285.1 164.2L284.7 164.5L284.2 164.9L283.8 165.3L283.3 165.6L282.9 166.0L282.5 166.4L282.0 166.8L281.6 167.1L281.1 167.5L280.7 167.9L280.3 168.2L279.8 168.6L279.4 169.0L279.0 169.4L278.6 169.7L278.1 170.1L277.7 170.5L277.3 170.8L276.8 171.2L276.4 171.6L276.0 171.9L275.6 172.3L275.2 172.7L274.7 173.1L274.3 173.4L273.9 173.8L273.5 174.2L273.1 174.5L272.6 174.9L272.2 175.3L271.8 175.6L271.4 176.0L271.0 176.4L270.6 176.7L270.2 177.1L269.7 177.5L269.3 177.8L268.9 178.2L268.5 178.6L268.1 178.9L267.7 179.3L267.3 179.7L266.9 180.0L266.5 180.4L266.1 180.8L265.7 181.1L265.2 181.5L264.8 181.8L264.4 182.2L264.0 182.6L263.6 182.9L263.2 183.3L262.8 183.7L262.4 184.0L262.0 184.4L261.6 184.8L261.2 185.1L260.8 185.5L260.4 185.9L260.0 186.2L259.6 186.6L259.2 187.0L258.8 187.3L258.4 187.7L258.0 188.1L257.6 188.4L257.2 188.8L256.8 189.2L256.4 189.5L256.0 189.9L255.6 190.3L255.2 190.6L254.8 191.0L254.4 191.4L254.0 191.7L253.6 192.1L253.2 192.5L252.8 192.8L252.4 193.2L252.0 193.6L251.6 194.0L251.2 194.3L250.8 194.7L250.4 195.1L250.0 195.4L249.6 195.8L249.2 196.2L248.8 196.6L248.4 196.9L248.0 197.3L247.6 197.7L247.2 198.1L246.8 198.4L246.3 198.8L245.9 199.2L245.5 199.6L245.1 199.9L244.7 200.3L244.3 200.7L243.9 201.1L243.5 201.5L243.1 201.8L242.7 202.2L242.3 202.6L241.9 203.0L241.5 203.4L241.1 203.8L240.7 204.1L240.2 204.5L239.8 204.9L239.4 205.3L239.0 205.7L238.6 206.1L238.2 206.5L237.8 206.9L237.4 207.3L236.9 207.7L236.5 208.1L236.1 208.4L235.7 208.8L235.3 209.2L234.9 209.6L234.4 210.0L234.0 210.4L233.6 210.8L233.2 211.2L232.7 211.6L232.3 212.1L231.9 212.5L231.5 212.9L231.1 213.3L230.6 213.7L230.2 214.1L229.8 214.5L229.3 214.9L228.9 215.3L228.5 215.8L228.1 216.2L227.6 216.6L227.2 217.0L226.8 217.4L226.3 217.9L225.9 218.3L225.4 218.7L225.0 219.1L224.6 219.6L224.1 220.0L223.7 220.4L223.2 220.9L222.8 221.3L222.4 221.8L221.9 222.2L221.5 222.6L221.0 223.1L220.6 223.5L220.1 224.0L219.7 224.4L219.2 224.9L218.8 225.3L218.3 225.8L217.9 226.2L217.4 226.7L217.0 227.2L216.5 227.6L216.1 228.1L215.6 228.6L215.1 229.0L214.7 229.5L214.2 230.0L213.8 230.5L213.3 230.9L212.8 231.4L212.4 231.9L211.9 232.4L211.5 232.9L211.0 233.4L210.5 233.9L210.1 234.4L209.6 234.9L209.1 235.4L208.7 235.9L208.2 236.4L207.7 236.9L207.2 237.4L206.8 237.9L206.3 238.4L205.8 239.0L205.4 239.5L204.9 240.0L204.4 240.5L204.0 241.1L203.5 241.6L203.0 242.2L202.5 242.7L202.1 243.2L201.6 243.8L201.1 244.3L200.7 244.9L200.2 245.5L199.7 246.0L199.2 246.6L198.8 247.2L198.3 247.7L197.8 248.3L197.4 248.9L196.9 249.5L196.4 250.1L196.0 250.6L195.5 251.2L195.1 251.8L194.6 252.4L194.1 253.0L193.7 253.6L193.2 254.3L192.8 254.9L192.3 255.5L191.9 256.1L191.4 256.7L191.0 257.4L190.5 258.0L190.1 258.6L189.7 259.3L189.2 259.9L188.8 260.6L188.4 261.2L188.0 261.9L187.5 262.5L187.1 263.2L186.7 263.9L186.3 264.5L185.9 265.2L185.5 265.9L185.1 266.6L184.7 267.2L184.3 267.9L183.9 268.6L183.6 269.3L183.2 270.0L182.8 270.7L182.5 271.4L182.1 272.1L181.8 272.8L181.4 273.5L181.1 274.3L180.7 275.0L180.4 275.7L180.1 276.4L179.8 277.2L179.4 277.9L179.1 278.6L178.8 279.4L178.6 280.1" stroke="#4b1ea0" stroke-width="2.1" fill="none"/><path d="M493.8 280.0L494.2 279.3L494.6 278.6L494.9 277.8L495.3 277.1L495.6 276.4L495.9 275.7L496.3 275.0L496.6 274.3L497.0 273.6L497.3 272.8L497.7 272.1L498.0 271.4L498.4 270.7L498.7 269.9L499.0 269.2L499.4 268.5L499.7 267.8L500.0 267.0L500.3 266.3L500.6 265.5L500.9 264.8L501.2 264.0L501.5 263.3L501.8 262.5L502.1 261.8L502.3 261.0L502.6 260.2L502.9 259.5L503.2 258.7L503.4 257.9L503.7 257.2L503.9 256.4L504.2 255.6L504.4 254.8L504.7 254.1L504.9 253.3L505.2 252.5L505.4 251.7L505.6 250.9L505.9 250.1L506.1 249.3L506.3 248.5L506.6 247.7L506.8 246.9L507.1 246.1L507.4 245.3L507.6 244.5L507.9 243.7L508.1 242.9L508.4 242.1L508.5 241.3L508.7 240.5L508.9 239.6L509.0 238.8L509.1 238.0L509.3 237.2L509.4 236.3L509.5 235.5L509.6 234.7L509.7 233.8L509.8 233.0L509.9 232.2L510.0 231.3L510.1 230.5L510.2 229.6L510.3 228.8L510.3 227.9L510.4 227.1L510.5 226.2L510.6 225.4L510.7 224.6L510.8 223.7L510.9 222.8L510.9 222.0L511.0 221.1L511.0 220.3L511.1 219.4L511.1 218.6L511.1 217.7L511.1 216.8L511.1 216.0L511.1 215.1L511.2 214.2L511.2 213.4L511.2 212.5L511.2 211.6L511.1 210.7L511.1 209.9L511.1 209.0L511.1 208.1L511.1 207.2L511.0 206.3L511.0 205.4L510.9 204.5L510.8 203.7L510.7 202.8L510.6 201.9L510.5 201.0L510.4 200.1L510.3 199.2L510.2 198.3L510.1 197.3L510.0 196.4L509.8 195.5L509.7 194.6L509.6 193.7L509.5 192.7L509.4 191.8L509.3 190.9L509.2 189.9L509.0 189.0L508.9 188.1L508.8 187.1L508.7 186.2L508.5 185.2L508.4 184.3L508.3 183.3L508.1 182.3L508.0 181.4L507.8 180.4L507.7 179.4L507.5 178.5L507.4 177.5L507.2 176.5L507.0 175.5L506.8 174.5L506.6 173.5L506.4 172.5L506.2 171.5L506.0 170.5L505.7 169.5L505.4 168.5L505.2 167.5L504.9 166.5L504.6 165.5L504.2 164.5L503.9 163.5L503.6 162.5L503.4 161.5L503.1 160.5L502.8 159.5L502.6 158.5L502.3 157.5L502.1 156.5L501.8 155.4L501.6 154.4L501.3 153.4L501.0 152.4L500.7 151.4L500.5 150.4L500.2 149.4L499.9 148.4L499.6 147.4L499.3 146.5L498.9 145.5L498.6 144.5L498.3 143.6L497.9 142.6L497.5 141.7L497.1 140.7L496.7 139.8L496.3 138.9L495.9 138.0L495.4 137.1L494.9 136.3L494.5 135.4L493.9 134.6L493.4 133.8L492.9 133.0L492.3 132.2L491.7 131.5L491.1 130.7L490.5 130.0L489.8 129.3L489.2 128.6L488.5 128.0L487.8 127.4L487.0 126.7L486.3 126.1L485.5 125.6L484.8 125.0L484.0 124.5L483.1 124.0L482.3 123.5L481.4 123.0L480.6 122.6L479.7 122.1L478.8 121.7L477.9 121.3L476.9 121.0L476.0 120.6L475.0 120.3L474.0 120.0L473.0 119.7L472.1 119.4L471.0 119.2L470.0 118.9L469.0 118.7L468.0 118.5L466.9 118.3L465.9 118.1L464.9 117.9L463.8 117.8L462.8 117.6L461.7 117.5L460.6 117.4L459.6 117.3L458.5 117.2L457.4 117.1L456.4 117.0L455.3 116.9L454.3 116.8L453.2 116.8L452.1 116.7L451.1 116.7L450.0 116.6L449.0 116.6L447.9 116.5L446.9 116.5L445.8 116.5L444.8 116.5L443.7 116.5L442.7 116.5L441.7 116.4L440.6 116.4L439.6 116.4L438.6 116.4L437.6 116.4L436.6 116.5L435.5 116.5L434.5 116.5L433.5 116.5L432.5 116.5L431.6 116.5L430.6 116.5L429.6 116.6L428.6 116.6L427.6 116.6L426.7 116.6L425.7 116.7L424.7 116.7L423.8 116.7L422.8 116.8L421.9 116.8L420.9 116.8L420.0 116.9L419.1 116.9L418.1 116.9L417.2 117.0L416.3 117.0L415.4 117.0L414.4 117.1L413.5 117.1L412.6 117.2L411.7 117.2L410.8 117.2L409.9 117.3L409.0 117.3L408.1 117.4L407.3 117.4L406.4 117.5L405.5 117.5L404.6 117.6L403.8 117.6L402.9 117.7L402.0 117.7L401.2 117.8L400.3 117.9L399.4 117.9L398.6 118.0L397.7 118.0L396.9 118.1L396.1 118.2L395.2 118.2L394.4 118.3L393.5 118.4L392.7 118.4L391.9 118.5L391.1 118.6L390.2 118.6L389.4 118.7L388.6 118.8L387.8 118.9L387.0 119.0L386.2 119.0L385.4 119.1L384.5 119.2L383.7 119.3L382.9 119.4L382.1 119.5L381.3 119.6L380.6 119.7L379.8 119.8L379.0 119.9L378.2 120.0L377.4 120.1L376.6 120.2L375.8 120.3L375.1 120.4L374.3 120.5L373.5 120.6L372.7 120.8L372.0 120.9L371.2 121.0L370.4 121.1L369.7 121.3L368.9 121.4L368.2 121.5L367.4 121.7L366.6 121.8L365.9 122.0L365.1 122.1L364.4 122.3L363.7 122.4L362.9 122.6L362.2 122.8L361.4 122.9L360.7 123.1L360.0 123.3L359.2 123.4L358.5 123.6L357.8 123.8L357.0 124.0L356.3 124.2L355.6 124.4L354.9 124.6L354.1 124.8L353.4 125.0L352.7 125.2L352.0 125.4L351.3 125.6L350.6 125.8L349.9 126.0L349.2 126.3L348.5 126.5L347.8 126.7L347.1 126.9L346.4 127.2L345.7 127.4L345.0 127.7L344.3 127.9L343.6 128.2L343.0 128.4L342.3 128.7L341.6 128.9L340.9 129.2L340.2 129.5L339.6 129.7L338.9 130.0L338.2 130.3L337.6 130.6L336.9 130.8L336.3 131.1L335.6 131.4L335.0 131.7L334.3 132.0L333.7 132.3L333.0 132.6L332.4 132.9L331.7 133.2L331.1 133.5L330.5 133.8L329.8 134.1L329.2 134.4L328.6 134.8L328.0 135.1L327.3 135.4L326.7 135.7L326.1 136.1L325.5 136.4L324.9 136.7L324.3 137.1L323.7 137.4L323.1 137.7L322.5 138.1L321.9 138.4L321.3 138.7L320.7 139.1L320.1 139.4L319.5 139.8L318.9 140.1L318.4 140.5L317.8 140.8L317.2 141.2L316.6 141.5L316.1 141.9L315.5 142.3L314.9 142.6L314.4 143.0L313.8 143.3L313.2 143.7L312.7 144.0L312.1 144.4L311.6 144.7L311.0 145.1L310.5 145.4L309.9 145.8L309.4 146.2L308.8 146.5L308.3 146.9L307.7 147.2L307.2 147.6L306.6 147.9L306.1 148.3L305.5 148.6L305.0 149.0L304.5 149.3L303.9 149.7L303.4 150.0L302.9 150.4L302.3 150.7L301.8 151.1L301.3 151.4L300.8 151.8L300.3 152.2L299.8 152.5L299.2 152.9L298.7 153.2L298.2 153.6L297.7 154.0L297.2 154.3L296.7 154.7L296.2 155.1L295.8 155.4L295.3 155.8L294.8 156.2L294.3 156.5L293.8 156.9L293.3 157.3L292.8 157.7L292.4 158.0L291.9 158.4L291.4 158.8L290.9 159.1L290.5 159.5L290.0 159.9L289.5 160.2L289.0 160.6L288.6 160.9L288.1 161.3L287.6 161.7L287.1 162.0L286.7 162.3L286.2 162.7L285.7 163.0L285.2 163.3L284.7 163.7L284.2 164.0L283.7 164.3L283.2 164.6L282.8 164.9L282.3 165.3L281.8 165.6L281.3 165.9L280.8 166.2L280.3 166.5L279.8 166.9L279.4 167.2L278.9 167.5L278.4 167.9L278.0 168.2L277.5 168.5L277.1 168.9L276.6 169.2L276.2 169.6L275.7 169.9L275.2 170.2L274.8 170.6L274.3 170.9L273.9 171.2L273.4 171.6L273.0 171.9L272.6 172.3L272.1 172.6L271.7 173.0L271.2 173.3L270.8 173.7L270.4 174.0L269.9 174.4L269.5 174.7L269.1 175.1L268.7 175.4L268.3 175.8L267.8 176.2L267.4 176.5L267.0 176.9L266.6 177.2L266.2 177.6L265.8 178.0L265.4 178.3L264.9 178.7L264.5 179.1L264.1 179.4L263.7 179.8L263.3 180.2L262.9 180.5L262.5 180.9L262.1 181.2L261.7 181.6L261.3 182.0L260.9 182.3L260.5 182.7L260.0 183.1L259.6 183.4L259.2 183.8L258.8 184.1L258.4 184.5L258.0 184.9L257.6 185.2L257.2 185.6L256.8 185.9L256.4 186.3L256.0 186.7L255.6 187.0L255.2 187.4L254.7 187.7L254.3 188.1L253.9 188.5L253.5 188.8L253.1 189.2L252.7 189.5L252.3 189.9L251.9 190.3L251.5 190.6L251.1 191.0L250.7 191.4L250.3 191.7L249.9 192.1L249.5 192.5L249.1 192.8L248.7 193.2L248.2 193.6L247.8 193.9L247.4 194.3L247.0 194.7L246.6 195.1L246.2 195.4L245.8 195.8L245.4 196.2L245.0 196.5L244.6 196.9L244.2 197.3L243.8 197.7L243.4 198.0L243.0 198.4L242.6 198.8L242.1 199.2L241.7 199.6L241.3 199.9L240.9 200.3L240.5 200.7L240.1 201.1L239.7 201.5L239.3 201.9L238.9 202.3L238.5 202.6L238.0 203.0L237.6 203.4L237.2 203.8L236.8 204.2L236.4 204.6L236.0 205.0L235.6 205.4L235.1 205.8L234.7 206.2L234.3 206.6L233.9 207.0L233.5 207.4L233.1 207.8L232.6 208.2L232.2 208.6L231.8 209.0L231.4 209.4L231.0 209.8L230.5 210.2L230.1 210.6L229.7 211.0L229.3 211.4L228.8 211.8L228.4 212.2L228.0 212.6L227.5 213.1L227.1 213.5L226.7 213.9L226.2 214.3L225.8 214.7L225.4 215.2L225.0 215.6L224.6 216.1L224.1 216.5L223.7 217.0L223.3 217.4L222.9 217.9L222.5 218.3L222.1 218.8L221.7 219.3L221.3 219.8L220.9 220.2L220.4 220.7L220.0 221.2L219.6 221.6L219.2 222.1L218.8 222.6L218.3 223.1L217.9 223.5L217.5 224.0L217.0 224.5L216.6 224.9L216.1 225.4L215.7 225.9L215.2 226.4L214.8 226.9L214.3 227.3L213.9 227.8L213.4 228.3L213.0 228.8L212.5 229.3L212.1 229.8L211.6 230.3L211.2 230.8L210.7 231.3L210.3 231.8L209.8 232.3L209.4 232.8L208.9 233.3L208.4 233.8L208.0 234.3L207.5 234.8L207.1 235.4L206.6 235.9L206.2 236.4L205.7 236.9L205.2 237.5L204.8 238.0L204.3 238.6L203.9 239.1L203.4 239.6L202.9 240.2L202.5 240.7L202.0 241.3L201.6 241.9L201.1 242.4L200.7 243.0L200.2 243.6L199.7 244.1L199.3 244.7L198.8 245.3L198.4 245.9L197.9 246.5L197.5 247.0L197.0 247.6L196.6 248.2L196.1 248.8L195.7 249.4L195.2 250.0L194.8 250.7L194.3 251.3L193.9 251.9L193.4 252.5L193.0 253.1L192.6 253.8L192.1 254.4L191.7 255.0L191.3 255.7L190.8 256.3L190.4 257.0L190.0 257.6L189.6 258.3L189.2 258.9L188.7 259.6L188.3 260.2L187.9 260.9L187.5 261.6L187.1 262.3L186.7 262.9L186.3 263.6L185.9 264.3L185.6 265.0L185.2 265.7L184.8 266.4L184.4 267.1L184.1 267.8L183.7 268.5L183.4 269.2L183.0 269.9L182.7 270.6L182.3 271.3L182.0 272.1L181.7 272.8L181.3 273.5L181.0 274.2L180.7 275.0L180.4 275.7L180.1 276.4L179.8 277.2L179.4 277.9L179.1 278.6L178.8 279.4L178.6 280.1" stroke="#1a6cbd" stroke-width="2.1" fill="none" stroke-dasharray="7.9 4.0"/><path d="M493.8 280.0L494.2 279.3L494.6 278.6L494.9 277.8L495.3 277.1L495.6 276.4L495.9 275.7L496.3 275.0L496.6 274.2L496.9 273.5L497.2 272.8L497.5 272.1L497.8 271.3L498.1 270.6L498.4 269.8L498.7 269.1L499.0 268.3L499.2 267.6L499.5 266.8L499.7 266.1L500.0 265.3L500.2 264.6L500.5 263.8L500.7 263.0L500.9 262.3L501.1 261.5L501.4 260.7L501.6 260.0L501.8 259.2L502.0 258.4L502.1 257.6L502.3 256.9L502.5 256.1L502.7 255.3L502.8 254.5L503.0 253.7L503.1 252.9L503.3 252.2L503.4 251.4L503.5 250.6L503.7 249.8L503.8 249.0L503.9 248.2L504.0 247.4L504.1 246.6L504.2 245.8L504.3 245.0L504.4 244.2L504.5 243.4L504.5 242.6L504.6 241.8L504.7 241.0L504.8 240.2L504.8 239.3L504.9 238.5L504.9 237.7L505.0 236.9L505.0 236.1L505.1 235.3L505.1 234.5L505.2 233.6L505.2 232.8L505.2 232.0L505.2 231.2L505.3 230.3L505.3 229.5L505.3 228.7L505.3 227.9L505.3 227.0L505.3 226.2L505.3 225.4L505.4 224.5L505.4 223.7L505.4 222.8L505.4 222.0L505.4 221.2L505.3 220.3L505.3 219.5L505.3 218.6L505.3 217.8L505.3 216.9L505.3 216.1L505.3 215.2L505.3 214.4L505.2 213.5L505.2 212.6L505.2 211.8L505.2 210.9L505.1 210.0L505.1 209.2L505.1 208.3L505.1 207.4L505.0 206.5L505.0 205.6L505.0 204.8L504.9 203.9L504.9 203.0L504.9 202.1L504.8 201.2L504.8 200.3L504.8 199.4L504.7 198.5L504.7 197.6L504.7 196.7L504.6 195.7L504.6 194.8L504.5 193.9L504.5 193.0L504.4 192.1L504.4 191.1L504.3 190.2L504.3 189.3L504.2 188.3L504.2 187.4L504.1 186.4L504.1 185.5L504.0 184.5L504.0 183.6L503.9 182.6L503.9 181.6L503.8 180.7L503.7 179.7L503.7 178.7L503.6 177.7L503.5 176.8L503.5 175.8L503.4 174.8L503.3 173.8L503.2 172.8L503.2 171.8L503.1 170.8L503.0 169.8L502.9 168.8L502.8 167.8L502.7 166.8L502.6 165.8L502.5 164.7L502.4 163.7L502.2 162.7L502.1 161.7L502.0 160.7L501.8 159.6L501.7 158.6L501.5 157.6L501.4 156.6L501.2 155.6L501.0 154.5L500.8 153.5L500.6 152.5L500.4 151.5L500.2 150.5L500.0 149.5L499.7 148.5L499.5 147.5L499.2 146.5L498.9 145.5L498.6 144.5L498.3 143.5L498.0 142.6L497.7 141.6L497.3 140.7L496.9 139.7L496.5 138.8L496.1 137.9L495.7 137.0L495.2 136.1L494.8 135.3L494.3 134.4L493.8 133.6L493.2 132.8L492.7 132.0L492.1 131.2L491.5 130.4L490.9 129.7L490.2 129.0L489.5 128.3L488.9 127.6L488.1 126.9L487.4 126.3L486.7 125.7L485.9 125.1L485.1 124.5L484.3 124.0L483.4 123.5L482.6 123.0L481.7 122.5L480.8 122.0L479.9 121.6L479.0 121.2L478.1 120.8L477.1 120.4L476.2 120.1L475.2 119.7L474.2 119.4L473.2 119.1L472.2 118.9L471.2 118.6L470.2 118.3L469.1 118.1L468.1 117.9L467.1 117.7L466.0 117.5L464.9 117.4L463.9 117.2L462.8 117.0L461.8 116.9L460.7 116.8L459.6 116.7L458.6 116.6L457.5 116.5L456.4 116.4L455.4 116.3L454.3 116.2L453.2 116.2L452.2 116.1L451.1 116.1L450.0 116.0L449.0 116.0L447.9 115.9L446.9 115.9L445.8 115.9L444.8 115.9L443.7 115.9L442.7 115.9L441.7 115.8L440.6 115.8L439.6 115.8L438.6 115.8L437.6 115.8L436.5 115.9L435.5 115.9L434.5 115.9L433.5 115.9L432.5 115.9L431.5 115.9L430.6 115.9L429.6 116.0L428.6 116.0L427.6 116.0L426.6 116.0L425.7 116.1L424.7 116.1L423.8 116.1L422.8 116.2L421.9 116.2L420.9 116.2L420.0 116.3L419.0 116.3L418.1 116.3L417.2 116.4L416.2 116.4L415.3 116.4L414.4 116.5L413.5 116.5L412.6 116.6L411.7 116.6L410.8 116.7L409.9 116.7L409.0 116.7L408.1 116.8L407.2 116.8L406.3 116.9L405.5 116.9L404.6 117.0L403.7 117.0L402.8 117.1L402.0 117.1L401.1 117.2L400.3 117.3L399.4 117.3L398.5 117.4L397.7 117.4L396.9 117.5L396.0 117.6L395.2 117.6L394.3 117.7L393.5 117.8L392.7 117.8L391.8 117.9L391.0 118.0L390.2 118.0L389.4 118.1L388.5 118.2L387.7 118.3L386.9 118.4L386.1 118.4L385.3 118.5L384.5 118.6L383.7 118.7L382.9 118.8L382.1 118.9L381.3 119.0L380.5 119.1L379.7 119.2L378.9 119.3L378.1 119.4L377.3 119.5L376.5 119.6L375.8 119.7L375.0 119.8L374.2 119.9L373.4 120.0L372.7 120.2L371.9 120.3L371.1 120.4L370.3 120.5L369.6 120.7L368.8 120.8L368.1 121.0L367.3 121.1L366.5 121.2L365.8 121.4L365.0 121.5L364.3 121.7L363.5 121.8L362.8 122.0L362.0 122.2L361.3 122.3L360.6 122.5L359.8 122.7L359.1 122.9L358.3 123.0L357.6 123.2L356.9 123.4L356.2 123.6L355.4 123.8L354.7 124.0L354.0 124.2L353.3 124.4L352.5 124.6L351.8 124.8L351.1 125.0L350.4 125.2L349.7 125.5L349.0 125.7L348.3 125.9L347.6 126.1L346.9 126.4L346.2 126.6L345.5 126.9L344.8 127.1L344.1 127.3L343.4 127.6L342.7 127.9L342.1 128.1L341.4 128.4L340.7 128.6L340.0 128.9L339.4 129.2L338.7 129.4L338.0 129.7L337.4 130.0L336.7 130.3L336.0 130.6L335.4 130.9L334.7 131.2L334.1 131.5L333.4 131.8L332.8 132.1L332.1 132.4L331.5 132.7L330.8 133.0L330.2 133.3L329.6 133.6L328.9 133.9L328.3 134.2L327.7 134.6L327.1 134.9L326.4 135.2L325.8 135.5L325.2 135.9L324.6 136.2L324.0 136.5L323.4 136.9L322.8 137.2L322.2 137.5L321.6 137.9L321.0 138.2L320.4 138.6L319.8 138.9L319.2 139.3L318.6 139.6L318.1 140.0L317.5 140.3L316.9 140.7L316.3 141.0L315.7 141.4L315.2 141.7L314.6 142.1L314.0 142.5L313.5 142.8L312.9 143.2L312.4 143.6L311.8 143.9L311.3 144.3L310.7 144.7L310.2 145.0L309.6 145.4L309.1 145.8L308.5 146.1L308.0 146.5L307.5 146.9L306.9 147.2L306.4 147.6L305.9 148.0L305.4 148.4L304.8 148.7L304.3 149.1L303.8 149.5L303.3 149.9L302.8 150.2L302.3 150.6L301.8 151.0L301.2 151.4L300.7 151.7L300.2 152.1L299.7 152.5L299.2 152.9L298.7 153.2L298.2 153.6L297.8 154.0L297.3 154.4L296.8 154.7L296.3 155.1L295.8 155.5L295.3 155.9L294.8 156.3L294.4 156.6L293.9 157.0L293.4 157.4L292.9 157.8L292.5 158.1L292.0 158.5L291.5 158.9L291.0 159.3L290.6 159.6L290.1 160.0L289.7 160.4L289.2 160.8L288.7 161.2L288.3 161.5L287.8 161.9L287.4 162.3L286.9 162.7L286.5 163.0L286.0 163.4L285.6 163.8L285.1 164.2L284.7 164.5L284.2 164.9L283.8 165.3L283.3 165.6L282.9 166.0L282.5 166.4L282.0 166.8L281.6 167.1L281.1 167.5L280.7 167.9L280.3 168.2L279.8 168.6L279.4 169.0L279.0 169.4L278.6 169.7L278.1 170.1L277.7 170.5L277.3 170.8L276.8 171.2L276.4 171.6L276.0 171.9L275.6 172.3L275.2 172.7L274.7 173.1L274.3 173.4L273.9 173.8L273.5 174.2L273.1 174.5L272.6 174.9L272.2 175.3L271.8 175.6L271.4 176.0L271.0 176.4L270.6 176.7L270.2 177.1L269.7 177.5L269.3 177.8L268.9 178.2L268.5 178.6L268.1 178.9L267.7 179.3L267.3 179.7L266.9 180.0L266.5 180.4L266.1 180.8L265.7 181.1L265.2 181.5L264.8 181.8L264.4 182.2L264.0 182.6L263.6 182.9L263.2 183.3L262.8 183.7L262.4 184.0L262.0 184.4L261.6 184.8L261.2 185.1L260.8 185.5L260.4 185.9L260.0 186.2L259.6 186.6L259.2 187.0L258.8 187.3L258.4 187.7L258.0 188.1L257.6 188.4L257.2 188.8L256.8 189.2L256.4 189.5L256.0 189.9L255.6 190.3L255.2 190.6L254.8 191.0L254.4 191.4L254.0 191.7L253.6 192.1L253.2 192.5L252.8 192.8L252.4 193.2L252.0 193.6L251.6 194.0L251.2 194.3L250.8 194.7L250.4 195.1L250.0 195.4L249.6 195.8L249.2 196.2L248.8 196.6L248.4 196.9L248.0 197.3L247.6 197.7L247.2 198.1L246.8 198.4L246.3 198.8L245.9 199.2L245.5 199.6L245.1 199.9L244.7 200.3L244.3 200.7L243.9 201.1L243.5 201.5L243.1 201.8L242.7 202.2L242.3 202.6L241.9 203.0L241.5 203.4L241.1 203.8L240.7 204.1L240.2 204.5L239.8 204.9L239.4 205.3L239.0 205.7L238.6 206.1L238.2 206.5L237.8 206.9L237.4 207.3L236.9 207.7L236.5 208.1L236.1 208.4L235.7 208.8L235.3 209.2L234.9 209.6L234.4 210.0L234.0 210.4L233.6 210.8L233.2 211.2L232.7 211.6L232.3 212.1L231.9 212.5L231.5 212.9L231.1 213.3L230.6 213.7L230.2 214.1L229.8 214.5L229.3 214.9L228.9 215.3L228.5 215.8L228.1 216.2L227.6 216.6L227.2 217.0L226.8 217.4L226.3 217.9L225.9 218.3L225.4 218.7L225.0 219.1L224.6 219.6L224.1 220.0L223.7 220.4L223.2 220.9L222.8 221.3L222.4 221.8L221.9 222.2L221.5 222.6L221.0 223.1L220.6 223.5L220.1 224.0L219.7 224.4L219.2 224.9L218.8 225.3L218.3 225.8L217.9 226.2L217.4 226.7L217.0 227.2L216.5 227.6L216.1 228.1L215.6 228.6L215.1 229.0L214.7 229.5L214.2 230.0L213.8 230.5L213.3 230.9L212.8 231.4L212.4 231.9L211.9 232.4L211.5 232.9L211.0 233.4L210.5 233.9L210.1 234.4L209.6 234.9L209.1 235.4L208.7 235.9L208.2 236.4L207.7 236.9L207.2 237.4L206.8 237.9L206.3 238.4L205.8 239.0L205.4 239.5L204.9 240.0L204.4 240.5L204.0 241.1L203.5 241.6L203.0 242.2L202.5 242.7L202.1 243.2L201.6 243.8L201.1 244.3L200.7 244.9L200.2 245.5L199.7 246.0L199.2 246.6L198.8 247.2L198.3 247.7L197.8 248.3L197.4 248.9L196.9 249.5L196.4 250.1L196.0 250.6L195.5 251.2L195.1 251.8L194.6 252.4L194.1 253.0L193.7 253.6L193.2 254.3L192.8 254.9L192.3 255.5L191.9 256.1L191.4 256.7L191.0 257.4L190.5 258.0L190.1 258.6L189.7 259.3L189.2 259.9L188.8 260.6L188.4 261.2L188.0 261.9L187.5 262.5L187.1 263.2L186.7 263.9L186.3 264.5L185.9 265.2L185.5 265.9L185.1 266.6L184.7 267.2L184.3 267.9L183.9 268.6L183.6 269.3L183.2 270.0L182.8 270.7L182.5 271.4L182.1 272.1L181.8 272.8L181.4 273.5L181.1 274.3L180.7 275.0L180.4 275.7L180.1 276.4L179.8 277.2L179.4 277.9L179.1 278.6L178.8 279.4L178.6 280.1" stroke="#2a2a2a" stroke-width="2.1" fill="none" stroke-dasharray="2.1 3.9"/><path d="M458.3 278.9L458.6 278.4L458.9 277.8L459.2 277.3L459.5 276.7L459.8 276.2L460.1 275.6L460.4 275.0L460.6 274.5L460.9 273.9L461.1 273.4L461.4 272.8L461.6 272.2L461.9 271.7L462.1 271.1L462.3 270.5L462.6 269.9L462.8 269.3L463.0 268.8L463.2 268.2L463.4 267.6L463.6 267.0L463.8 266.4L464.0 265.8L464.1 265.2L464.3 264.6L464.5 264.0L464.6 263.4L464.8 262.8L464.9 262.2L465.0 261.6L465.2 261.0L465.3 260.4L465.4 259.8L465.5 259.2L465.7 258.6L465.8 258.0L465.9 257.4L465.9 256.8L466.0 256.2L466.1 255.6L466.2 255.0L466.3 254.3L466.3 253.7L466.4 253.1L466.5 252.5L466.5 251.9L466.6 251.3L466.6 250.7L466.6 250.0L466.7 249.4L466.7 248.8L466.7 248.2L466.8 247.6L466.8 246.9L466.8 246.3L466.8 245.7L466.8 245.1L466.8 244.5L466.8 243.8L466.8 243.2L466.8 242.6L466.8 242.0L466.8 241.3L466.8 240.7L466.8 240.1L466.8 239.4L466.8 238.8L466.7 238.2L466.7 237.6L466.7 236.9L466.7 236.3L466.6 235.7L466.6 235.0L466.6 234.4L466.5 233.8L466.5 233.1L466.4 232.5L466.4 231.8L466.4 231.2L466.3 230.6L466.3 229.9L466.2 229.3L466.2 228.6L466.1 228.0L466.1 227.3L466.0 226.7L466.0 226.0L465.9 225.4L465.9 224.7L465.8 224.1L465.8 223.4L465.7 222.8L465.6 222.1L465.6 221.4L465.5 220.8L465.5 220.1L465.4 219.4L465.3 218.8L465.3 218.1L465.2 217.4L465.1 216.8L465.1 216.1L465.0 215.4L464.9 214.7L464.9 214.0L464.8 213.4L464.7 212.7L464.7 212.0L464.6 211.3L464.5 210.6L464.4 209.9L464.4 209.2L464.3 208.5L464.2 207.8L464.1 207.1L464.1 206.4L464.0 205.7L463.9 205.0L463.8 204.3L463.7 203.6L463.6 202.9L463.5 202.2L463.4 201.5L463.4 200.7L463.3 200.0L463.2 199.3L463.1 198.6L463.0 197.8L462.9 197.1L462.7 196.4L462.6 195.7L462.5 194.9L462.4 194.2L462.3 193.5L462.2 192.7L462.0 192.0L461.9 191.2L461.8 190.5L461.6 189.8L461.5 189.0L461.3 188.3L461.2 187.5L461.0 186.8L460.9 186.1L460.7 185.3L460.5 184.6L460.3 183.9L460.1 183.1L460.0 182.4L459.7 181.7L459.5 180.9L459.3 180.2L459.1 179.5L458.9 178.8L458.6 178.1L458.4 177.4L458.1 176.7L457.8 176.0L457.5 175.3L457.2 174.6L456.9 173.9L456.6 173.3L456.3 172.6L455.9 172.0L455.6 171.3L455.2 170.7L454.8 170.1L454.4 169.4L454.0 168.8L453.6 168.3L453.2 167.7L452.7 167.1L452.2 166.6L451.8 166.0L451.3 165.5L450.8 165.0L450.2 164.5L449.7 164.0L449.2 163.5L448.6 163.1L448.0 162.6L447.4 162.2L446.8 161.8L446.2 161.4L445.6 161.0L445.0 160.6L444.3 160.3L443.7 159.9L443.0 159.6L442.3 159.3L441.6 159.0L440.9 158.7L440.2 158.4L439.5 158.1L438.8 157.9L438.1 157.6L437.4 157.4L436.6 157.2L435.9 157.0L435.1 156.8L434.4 156.6L433.6 156.4L432.9 156.3L432.1 156.1L431.3 156.0L430.6 155.8L429.8 155.7L429.0 155.6L428.2 155.5L427.5 155.4L426.7 155.3L425.9 155.2L425.1 155.1L424.4 155.0L423.6 154.9L422.8 154.8L422.0 154.8L421.3 154.7L420.5 154.6L419.7 154.6L419.0 154.5L418.2 154.5L417.4 154.5L416.7 154.4L415.9 154.4L415.2 154.3L414.4 154.3L413.6 154.3L412.9 154.3L412.1 154.2L411.4 154.2L410.7 154.2L409.9 154.2L409.2 154.2L408.4 154.1L407.7 154.1L407.0 154.1L406.3 154.1L405.5 154.1L404.8 154.1L404.1 154.1L403.4 154.1L402.7 154.1L402.0 154.1L401.2 154.1L400.5 154.1L399.8 154.1L399.1 154.1L398.4 154.1L397.8 154.1L397.1 154.1L396.4 154.2L395.7 154.2L395.0 154.2L394.3 154.2L393.6 154.2L393.0 154.2L392.3 154.2L391.6 154.3L391.0 154.3L390.3 154.3L389.6 154.3L389.0 154.3L388.3 154.4L387.6 154.4L387.0 154.4L386.3 154.4L385.7 154.5L385.0 154.5L384.4 154.5L383.7 154.6L383.1 154.6L382.5 154.6L381.8 154.7L381.2 154.7L380.5 154.8L379.9 154.8L379.3 154.8L378.7 154.9L378.0 154.9L377.4 155.0L376.8 155.0L376.2 155.1L375.5 155.1L374.9 155.2L374.3 155.2L373.7 155.3L373.1 155.4L372.5 155.4L371.8 155.5L371.2 155.6L370.6 155.6L370.0 155.7L369.4 155.8L368.8 155.9L368.2 155.9L367.6 156.0L367.0 156.1L366.4 156.2L365.8 156.3L365.2 156.4L364.6 156.5L364.0 156.5L363.4 156.6L362.9 156.7L362.3 156.8L361.7 157.0L361.1 157.1L360.5 157.2L359.9 157.3L359.4 157.4L358.8 157.5L358.2 157.7L357.6 157.8L357.1 157.9L356.5 158.0L355.9 158.2L355.4 158.3L354.8 158.5L354.2 158.6L353.7 158.7L353.1 158.9L352.5 159.0L352.0 159.2L351.4 159.4L350.9 159.5L350.3 159.7L349.8 159.9L349.2 160.0L348.7 160.2L348.1 160.4L347.6 160.6L347.0 160.7L346.5 160.9L345.9 161.1L345.4 161.3L344.9 161.5L344.3 161.7L343.8 161.9L343.3 162.1L342.8 162.3L342.2 162.5L341.7 162.7L341.2 162.9L340.7 163.1L340.1 163.4L339.6 163.6L339.1 163.8L338.6 164.0L338.1 164.3L337.6 164.5L337.1 164.7L336.6 165.0L336.1 165.2L335.6 165.4L335.1 165.7L334.6 165.9L334.1 166.2L333.6 166.4L333.1 166.7L332.6 166.9L332.2 167.2L331.7 167.4L331.2 167.7L330.7 167.9L330.2 168.2L329.8 168.5L329.3 168.7L328.8 169.0L328.4 169.3L327.9 169.5L327.4 169.8L327.0 170.1L326.5 170.3L326.1 170.6L325.6 170.9L325.2 171.2L324.7 171.4L324.3 171.7L323.8 172.0L323.4 172.3L322.9 172.6L322.5 172.8L322.1 173.1L321.6 173.4L321.2 173.7L320.8 174.0L320.3 174.3L319.9 174.5L319.5 174.8L319.1 175.1L318.6 175.4L318.2 175.7L317.8 176.0L317.4 176.3L317.0 176.5L316.6 176.8L316.2 177.1L315.8 177.4L315.4 177.7L315.0 178.0L314.6 178.3L314.2 178.6L313.8 178.9L313.4 179.2L313.0 179.4L312.6 179.7L312.2 180.0L311.8 180.3L311.4 180.6L311.0 180.9L310.6 181.2L310.3 181.5L309.9 181.8L309.5 182.1L309.1 182.4L308.7 182.6L308.4 182.9L308.0 183.2L307.6 183.5L307.3 183.8L306.9 184.1L306.5 184.4L306.2 184.7L305.8 185.0L305.4 185.3L305.1 185.5L304.7 185.8L304.4 186.1L304.0 186.4L303.6 186.7L303.3 187.0L302.9 187.3L302.6 187.6L302.2 187.8L301.9 188.1L301.5 188.4L301.2 188.7L300.8 189.0L300.5 189.3L300.1 189.6L299.8 189.8L299.5 190.1L299.1 190.4L298.8 190.7L298.4 191.0L298.1 191.3L297.8 191.6L297.4 191.8L297.1 192.1L296.8 192.4L296.4 192.7L296.1 193.0L295.8 193.3L295.4 193.5L295.1 193.8L294.8 194.1L294.5 194.4L294.1 194.7L293.8 194.9L293.5 195.2L293.1 195.5L292.8 195.8L292.5 196.1L292.2 196.3L291.9 196.6L291.5 196.9L291.2 197.2L290.9 197.5L290.6 197.7L290.3 198.0L289.9 198.3L289.6 198.6L289.3 198.8L289.0 199.1L288.7 199.4L288.4 199.7L288.0 199.9L287.7 200.2L287.4 200.5L287.1 200.8L286.8 201.1L286.5 201.3L286.2 201.6L285.9 201.9L285.5 202.2L285.2 202.4L284.9 202.7L284.6 203.0L284.3 203.3L284.0 203.5L283.7 203.8L283.4 204.1L283.1 204.4L282.8 204.6L282.5 204.9L282.1 205.2L281.8 205.5L281.5 205.7L281.2 206.0L280.9 206.3L280.6 206.5L280.3 206.8L280.0 207.1L279.7 207.4L279.4 207.6L279.1 207.9L278.8 208.2L278.5 208.5L278.2 208.7L277.9 209.0L277.6 209.3L277.2 209.6L276.9 209.8L276.6 210.1L276.3 210.4L276.0 210.7L275.7 211.0L275.4 211.2L275.1 211.5L274.8 211.8L274.5 212.1L274.2 212.3L273.9 212.6L273.6 212.9L273.3 213.2L273.0 213.4L272.7 213.7L272.4 214.0L272.1 214.3L271.7 214.6L271.4 214.8L271.1 215.1L270.8 215.4L270.5 215.7L270.2 216.0L269.9 216.2L269.6 216.5L269.3 216.8L269.0 217.1L268.7 217.4L268.4 217.6L268.0 217.9L267.7 218.2L267.4 218.5L267.1 218.8L266.8 219.1L266.5 219.4L266.2 219.6L265.9 219.9L265.6 220.2L265.2 220.5L264.9 220.8L264.6 221.1L264.3 221.4L264.0 221.7L263.7 221.9L263.4 222.2L263.0 222.5L262.7 222.8L262.4 223.1L262.1 223.4L261.8 223.7L261.4 224.0L261.1 224.3L260.8 224.6L260.5 224.9L260.2 225.2L259.8 225.5L259.5 225.8L259.2 226.1L258.9 226.4L258.5 226.7L258.2 227.0L257.9 227.3L257.6 227.6L257.2 227.9L256.9 228.2L256.6 228.5L256.2 228.8L255.9 229.1L255.6 229.5L255.2 229.8L254.9 230.1L254.6 230.4L254.2 230.7L253.9 231.0L253.6 231.3L253.2 231.7L252.9 232.0L252.6 232.3L252.2 232.6L251.9 232.9L251.5 233.3L251.2 233.6L250.9 233.9L250.5 234.3L250.2 234.6L249.8 234.9L249.5 235.2L249.1 235.6L248.8 235.9L248.4 236.3L248.1 236.6L247.7 236.9L247.4 237.3L247.0 237.6L246.7 238.0L246.3 238.3L245.9 238.7L245.6 239.0L245.2 239.4L244.9 239.7L244.5 240.1L244.2 240.4L243.8 240.8L243.4 241.1L243.1 241.5L242.7 241.9L242.3 242.2L242.0 242.6L241.6 243.0L241.2 243.3L240.9 243.7L240.5 244.1L240.1 244.5L239.8 244.8L239.4 245.2L239.0 245.6L238.6 246.0L238.3 246.4L237.9 246.8L237.5 247.1L237.1 247.5L236.8 247.9L236.4 248.3L236.0 248.7L235.6 249.1L235.2 249.5L234.9 250.0L234.5 250.4L234.1 250.8L233.7 251.2L233.4 251.6L233.0 252.0L232.6 252.5L232.2 252.9L231.8 253.3L231.5 253.7L231.1 254.2L230.7 254.6L230.3 255.1L229.9 255.5L229.6 255.9L229.2 256.4L228.8 256.8L228.4 257.3L228.1 257.8L227.7 258.2L227.3 258.7L226.9 259.1L226.6 259.6L226.2 260.1L225.8 260.6L225.5 261.0L225.1 261.5L224.7 262.0L224.4 262.5L224.0 263.0L223.6 263.5L223.3 264.0L222.9 264.5L222.6 265.0L222.2 265.5L221.9 266.0L221.6 266.5L221.2 267.0L220.9 267.5L220.5 268.0L220.2 268.6L219.9 269.1L219.6 269.6L219.3 270.1L218.9 270.7L218.6 271.2L218.3 271.8L218.0 272.3L217.7 272.8L217.4 273.4L217.2 273.9L216.9 274.5L216.6 275.0L216.3 275.6L216.1 276.2L215.8 276.7L215.5 277.3L215.3 277.9L215.0 278.4L214.8 279.0" stroke="#6a4cb8" stroke-width="2.1" fill="none"/><path d="M458.3 278.9L458.6 278.4L458.9 277.8L459.2 277.3L459.5 276.7L459.8 276.2L460.1 275.6L460.4 275.1L460.7 274.5L461.0 274.0L461.2 273.4L461.5 272.8L461.8 272.3L462.1 271.7L462.3 271.2L462.6 270.6L462.8 270.0L463.1 269.5L463.3 268.9L463.6 268.3L463.8 267.7L464.0 267.1L464.2 266.6L464.4 266.0L464.6 265.4L464.8 264.8L465.0 264.2L465.2 263.6L465.4 263.0L465.6 262.4L465.7 261.8L465.9 261.2L466.1 260.6L466.2 260.0L466.3 259.4L466.5 258.8L466.6 258.2L466.7 257.5L466.9 256.9L467.0 256.3L467.1 255.7L467.2 255.1L467.3 254.5L467.4 253.8L467.5 253.2L467.5 252.6L467.6 252.0L467.7 251.4L467.8 250.7L467.8 250.1L467.9 249.5L468.0 248.9L468.0 248.2L468.1 247.6L468.2 247.0L468.2 246.4L468.3 245.7L468.4 245.1L468.4 244.5L468.5 243.8L468.6 243.2L468.6 242.6L468.7 241.9L468.7 241.3L468.8 240.7L468.8 240.0L468.8 239.4L468.9 238.7L468.9 238.1L468.9 237.5L468.9 236.8L468.9 236.2L468.9 235.5L468.9 234.9L468.9 234.3L468.9 233.6L468.9 233.0L468.9 232.3L468.9 231.7L468.9 231.0L468.8 230.4L468.8 229.7L468.8 229.1L468.8 228.4L468.7 227.8L468.7 227.1L468.6 226.5L468.6 225.8L468.5 225.2L468.5 224.5L468.4 223.8L468.3 223.2L468.2 222.5L468.2 221.9L468.1 221.2L468.0 220.5L467.9 219.9L467.8 219.2L467.7 218.5L467.6 217.9L467.5 217.2L467.5 216.5L467.4 215.9L467.3 215.2L467.2 214.5L467.0 213.8L466.9 213.1L466.8 212.5L466.7 211.8L466.6 211.1L466.4 210.4L466.3 209.7L466.1 209.0L466.0 208.3L465.8 207.7L465.6 207.0L465.5 206.3L465.3 205.6L465.1 204.9L465.0 204.2L464.8 203.5L464.7 202.8L464.5 202.0L464.3 201.3L464.2 200.6L464.0 199.9L463.9 199.2L463.7 198.5L463.6 197.7L463.4 197.0L463.3 196.3L463.1 195.6L463.0 194.9L462.8 194.1L462.6 193.4L462.5 192.7L462.3 191.9L462.1 191.2L462.0 190.5L461.8 189.7L461.6 189.0L461.4 188.3L461.2 187.5L461.1 186.8L460.9 186.1L460.7 185.3L460.5 184.6L460.3 183.9L460.0 183.2L459.8 182.4L459.6 181.7L459.3 181.0L459.1 180.3L458.8 179.6L458.6 178.9L458.3 178.2L458.0 177.5L457.8 176.8L457.5 176.1L457.2 175.5L456.8 174.8L456.5 174.1L456.2 173.5L455.8 172.8L455.5 172.2L455.1 171.6L454.7 171.0L454.4 170.4L454.0 169.8L453.5 169.2L453.1 168.6L452.7 168.0L452.2 167.5L451.8 166.9L451.3 166.4L450.8 165.9L450.3 165.4L449.8 164.9L449.3 164.4L448.8 164.0L448.2 163.5L447.7 163.1L447.1 162.7L446.5 162.3L445.9 161.9L445.3 161.5L444.7 161.1L444.0 160.8L443.4 160.4L442.7 160.1L442.1 159.8L441.4 159.5L440.7 159.2L440.0 159.0L439.3 158.7L438.6 158.5L437.9 158.2L437.2 158.0L436.5 157.8L435.7 157.6L435.0 157.4L434.2 157.2L433.5 157.0L432.7 156.9L432.0 156.7L431.2 156.6L430.5 156.4L429.7 156.3L428.9 156.2L428.2 156.1L427.4 156.0L426.6 155.9L425.8 155.8L425.1 155.7L424.3 155.6L423.5 155.5L422.8 155.4L422.0 155.4L421.2 155.3L420.5 155.2L419.7 155.2L418.9 155.1L418.2 155.1L417.4 155.1L416.6 155.0L415.9 155.0L415.1 154.9L414.4 154.9L413.6 154.9L412.9 154.9L412.1 154.8L411.4 154.8L410.6 154.8L409.9 154.8L409.2 154.8L408.4 154.7L407.7 154.7L407.0 154.7L406.3 154.7L405.5 154.7L404.8 154.7L404.1 154.7L403.4 154.7L402.7 154.7L402.0 154.7L401.2 154.7L400.5 154.7L399.8 154.7L399.1 154.7L398.5 154.7L397.8 154.7L397.1 154.7L396.4 154.8L395.7 154.8L395.0 154.8L394.3 154.8L393.7 154.8L393.0 154.8L392.3 154.8L391.6 154.9L391.0 154.9L390.3 154.9L389.6 154.9L389.0 154.9L388.3 155.0L387.7 155.0L387.0 155.0L386.4 155.0L385.7 155.1L385.1 155.1L384.4 155.1L383.8 155.2L383.1 155.2L382.5 155.2L381.9 155.3L381.2 155.3L380.6 155.4L380.0 155.4L379.3 155.4L378.7 155.5L378.1 155.5L377.4 155.6L376.8 155.6L376.2 155.7L375.6 155.7L375.0 155.8L374.3 155.8L373.7 155.9L373.1 156.0L372.5 156.0L371.9 156.1L371.3 156.2L370.7 156.2L370.1 156.3L369.5 156.4L368.9 156.4L368.3 156.5L367.7 156.6L367.1 156.7L366.5 156.8L365.9 156.9L365.3 157.0L364.7 157.0L364.1 157.1L363.5 157.2L363.0 157.3L362.4 157.4L361.8 157.5L361.2 157.7L360.6 157.8L360.1 157.9L359.5 158.0L358.9 158.1L358.3 158.2L357.8 158.4L357.2 158.5L356.6 158.6L356.1 158.8L355.5 158.9L354.9 159.0L354.4 159.2L353.8 159.3L353.2 159.5L352.7 159.6L352.1 159.8L351.6 159.9L351.0 160.1L350.5 160.3L349.9 160.4L349.4 160.6L348.8 160.8L348.3 160.9L347.8 161.1L347.2 161.3L346.7 161.5L346.1 161.7L345.6 161.9L345.1 162.1L344.6 162.3L344.0 162.5L343.5 162.7L343.0 162.9L342.4 163.1L341.9 163.3L341.4 163.5L340.9 163.7L340.4 163.9L339.9 164.1L339.4 164.4L338.8 164.6L338.3 164.8L337.8 165.0L337.3 165.3L336.8 165.5L336.3 165.7L335.8 166.0L335.3 166.2L334.9 166.5L334.4 166.7L333.9 167.0L333.4 167.2L332.9 167.5L332.4 167.7L332.0 168.0L331.5 168.2L331.0 168.5L330.5 168.7L330.1 169.0L329.6 169.2L329.1 169.5L328.6 169.7L328.2 170.0L327.7 170.2L327.2 170.5L326.8 170.7L326.3 171.0L325.8 171.2L325.3 171.5L324.9 171.7L324.4 172.0L324.0 172.2L323.5 172.5L323.0 172.7L322.6 173.0L322.1 173.2L321.7 173.5L321.2 173.7L320.8 174.0L320.3 174.2L319.9 174.5L319.4 174.8L319.0 175.0L318.6 175.3L318.1 175.5L317.7 175.8L317.3 176.1L316.8 176.3L316.4 176.6L316.0 176.8L315.5 177.1L315.1 177.3L314.7 177.6L314.3 177.9L313.8 178.1L313.4 178.4L313.0 178.7L312.6 178.9L312.2 179.2L311.8 179.4L311.3 179.7L310.9 180.0L310.5 180.2L310.1 180.5L309.7 180.8L309.3 181.1L308.9 181.3L308.6 181.6L308.2 181.9L307.8 182.2L307.4 182.4L307.0 182.7L306.6 183.0L306.2 183.3L305.9 183.6L305.5 183.8L305.1 184.1L304.7 184.4L304.4 184.7L304.0 184.9L303.6 185.2L303.3 185.5L302.9 185.8L302.5 186.1L302.2 186.3L301.8 186.6L301.4 186.9L301.1 187.2L300.7 187.4L300.3 187.7L300.0 188.0L299.6 188.2L299.3 188.5L298.9 188.8L298.5 189.0L298.2 189.3L297.8 189.5L297.5 189.8L297.1 190.1L296.7 190.3L296.4 190.6L296.0 190.8L295.7 191.1L295.3 191.4L294.9 191.6L294.6 191.9L294.2 192.1L293.9 192.4L293.5 192.6L293.2 192.9L292.8 193.1L292.5 193.4L292.1 193.6L291.8 193.9L291.4 194.2L291.1 194.4L290.7 194.7L290.4 194.9L290.0 195.2L289.7 195.4L289.3 195.7L289.0 195.9L288.7 196.2L288.3 196.4L288.0 196.7L287.6 196.9L287.3 197.2L286.9 197.4L286.6 197.6L286.2 197.9L285.9 198.1L285.6 198.4L285.2 198.6L284.9 198.9L284.5 199.1L284.2 199.4L283.9 199.6L283.5 199.9L283.2 200.1L282.9 200.4L282.5 200.6L282.2 200.9L281.9 201.2L281.6 201.4L281.3 201.7L280.9 202.0L280.6 202.2L280.3 202.5L280.0 202.8L279.7 203.0L279.4 203.3L279.0 203.6L278.7 203.8L278.4 204.1L278.1 204.4L277.8 204.6L277.5 204.9L277.2 205.2L276.8 205.4L276.5 205.7L276.2 206.0L275.9 206.3L275.6 206.5L275.3 206.8L275.0 207.1L274.7 207.3L274.4 207.6L274.1 207.9L273.7 208.2L273.4 208.4L273.1 208.7L272.8 209.0L272.5 209.3L272.2 209.5L271.9 209.8L271.6 210.1L271.3 210.4L271.0 210.7L270.7 210.9L270.4 211.2L270.1 211.5L269.8 211.8L269.5 212.1L269.2 212.4L268.9 212.6L268.6 212.9L268.3 213.2L268.0 213.5L267.7 213.8L267.4 214.1L267.1 214.4L266.8 214.7L266.5 215.0L266.2 215.3L265.9 215.6L265.6 215.9L265.3 216.2L265.0 216.5L264.7 216.7L264.4 217.0L264.1 217.3L263.8 217.6L263.5 217.9L263.2 218.2L262.9 218.6L262.6 218.9L262.3 219.2L262.0 219.5L261.7 219.8L261.4 220.1L261.1 220.4L260.8 220.7L260.5 221.1L260.2 221.4L259.9 221.7L259.6 222.0L259.3 222.3L259.0 222.7L258.7 223.0L258.4 223.3L258.1 223.6L257.8 224.0L257.5 224.3L257.2 224.6L256.9 224.9L256.6 225.2L256.3 225.6L256.0 225.9L255.6 226.2L255.3 226.5L255.0 226.9L254.7 227.2L254.4 227.5L254.1 227.8L253.7 228.2L253.4 228.5L253.1 228.8L252.8 229.2L252.5 229.5L252.1 229.8L251.8 230.2L251.5 230.5L251.2 230.8L250.8 231.2L250.5 231.5L250.2 231.8L249.8 232.2L249.5 232.5L249.2 232.8L248.8 233.2L248.5 233.5L248.1 233.9L247.8 234.2L247.5 234.6L247.1 234.9L246.8 235.2L246.4 235.6L246.1 235.9L245.7 236.3L245.4 236.6L245.0 237.0L244.7 237.4L244.3 237.7L244.0 238.1L243.6 238.4L243.3 238.8L242.9 239.2L242.5 239.5L242.2 239.9L241.8 240.2L241.5 240.6L241.1 241.0L240.7 241.4L240.4 241.7L240.0 242.1L239.6 242.5L239.3 242.9L238.9 243.3L238.5 243.6L238.2 244.0L237.8 244.4L237.4 244.8L237.1 245.2L236.7 245.6L236.3 246.0L235.9 246.4L235.6 246.8L235.2 247.2L234.8 247.6L234.4 248.0L234.0 248.4L233.7 248.8L233.3 249.3L232.9 249.7L232.5 250.1L232.2 250.5L231.8 251.0L231.4 251.4L231.0 251.8L230.6 252.3L230.3 252.7L229.9 253.2L229.5 253.6L229.2 254.1L228.8 254.5L228.4 255.0L228.1 255.5L227.7 255.9L227.4 256.4L227.0 256.9L226.6 257.4L226.3 257.9L225.9 258.4L225.6 258.9L225.3 259.4L224.9 259.9L224.6 260.4L224.2 260.9L223.9 261.4L223.6 261.9L223.2 262.4L222.9 262.9L222.6 263.4L222.2 264.0L221.9 264.5L221.6 265.0L221.3 265.6L221.0 266.1L220.7 266.6L220.4 267.2L220.1 267.7L219.8 268.3L219.5 268.8L219.2 269.4L218.9 269.9L218.6 270.5L218.3 271.0L218.1 271.6L217.8 272.2L217.5 272.7L217.3 273.3L217.1 273.9L216.8 274.5L216.6 275.0L216.3 275.6L216.1 276.2L215.8 276.7L215.5 277.3L215.3 277.9L215.0 278.4L214.8 279.0" stroke="#2a84cc" stroke-width="2.1" fill="none" stroke-dasharray="7.9 4.0"/><path d="M458.3 278.9L458.6 278.4L458.9 277.8L459.2 277.3L459.5 276.7L459.8 276.2L460.1 275.6L460.4 275.0L460.6 274.5L460.9 273.9L461.1 273.4L461.4 272.8L461.6 272.2L461.9 271.7L462.1 271.1L462.3 270.5L462.6 269.9L462.8 269.3L463.0 268.8L463.2 268.2L463.4 267.6L463.6 267.0L463.8 266.4L464.0 265.8L464.1 265.2L464.3 264.6L464.5 264.0L464.6 263.4L464.8 262.8L464.9 262.2L465.0 261.6L465.2 261.0L465.3 260.4L465.4 259.8L465.5 259.2L465.7 258.6L465.8 258.0L465.9 257.4L465.9 256.8L466.0 256.2L466.1 255.6L466.2 255.0L466.3 254.3L466.3 253.7L466.4 253.1L466.5 252.5L466.5 251.9L466.6 251.3L466.6 250.7L466.6 250.0L466.7 249.4L466.7 248.8L466.7 248.2L466.8 247.6L466.8 246.9L466.8 246.3L466.8 245.7L466.8 245.1L466.8 244.5L466.8 243.8L466.8 243.2L466.8 242.6L466.8 242.0L466.8 241.3L466.8 240.7L466.8 240.1L466.8 239.4L466.8 238.8L466.7 238.2L466.7 237.6L466.7 236.9L466.7 236.3L466.6 235.7L466.6 235.0L466.6 234.4L466.5 233.8L466.5 233.1L466.4 232.5L466.4 231.8L466.4 231.2L466.3 230.6L466.3 229.9L466.2 229.3L466.2 228.6L466.1 228.0L466.1 227.3L466.0 226.7L466.0 226.0L465.9 225.4L465.9 224.7L465.8 224.1L465.8 223.4L465.7 222.8L465.6 222.1L465.6 221.4L465.5 220.8L465.5 220.1L465.4 219.4L465.3 218.8L465.3 218.1L465.2 217.4L465.1 216.8L465.1 216.1L465.0 215.4L464.9 214.7L464.9 214.0L464.8 213.4L464.7 212.7L464.7 212.0L464.6 211.3L464.5 210.6L464.4 209.9L464.4 209.2L464.3 208.5L464.2 207.8L464.1 207.1L464.1 206.4L464.0 205.7L463.9 205.0L463.8 204.3L463.7 203.6L463.6 202.9L463.5 202.2L463.4 201.5L463.4 200.7L463.3 200.0L463.2 199.3L463.1 198.6L463.0 197.8L462.9 197.1L462.7 196.4L462.6 195.7L462.5 194.9L462.4 194.2L462.3 193.5L462.2 192.7L462.0 192.0L461.9 191.2L461.8 190.5L461.6 189.8L461.5 189.0L461.3 188.3L461.2 187.5L461.0 186.8L460.9 186.1L460.7 185.3L460.5 184.6L460.3 183.9L460.1 183.1L460.0 182.4L459.7 181.7L459.5 180.9L459.3 180.2L459.1 179.5L458.9 178.8L458.6 178.1L458.4 177.4L458.1 176.7L457.8 176.0L457.5 175.3L457.2 174.6L456.9 173.9L456.6 173.3L456.3 172.6L455.9 172.0L455.6 171.3L455.2 170.7L454.8 170.1L454.4 169.4L454.0 168.8L453.6 168.3L453.2 167.7L452.7 167.1L452.2 166.6L451.8 166.0L451.3 165.5L450.8 165.0L450.2 164.5L449.7 164.0L449.2 163.5L448.6 163.1L448.0 162.6L447.4 162.2L446.8 161.8L446.2 161.4L445.6 161.0L445.0 160.6L444.3 160.3L443.7 159.9L443.0 159.6L442.3 159.3L441.6 159.0L440.9 158.7L440.2 158.4L439.5 158.1L438.8 157.9L438.1 157.6L437.4 157.4L436.6 157.2L435.9 157.0L435.1 156.8L434.4 156.6L433.6 156.4L432.9 156.3L432.1 156.1L431.3 156.0L430.6 155.8L429.8 155.7L429.0 155.6L428.2 155.5L427.5 155.4L426.7 155.3L425.9 155.2L425.1 155.1L424.4 155.0L423.6 154.9L422.8 154.8L422.0 154.8L421.3 154.7L420.5 154.6L419.7 154.6L419.0 154.5L418.2 154.5L417.4 154.5L416.7 154.4L415.9 154.4L415.2 154.3L414.4 154.3L413.6 154.3L412.9 154.3L412.1 154.2L411.4 154.2L410.7 154.2L409.9 154.2L409.2 154.2L408.4 154.1L407.7 154.1L407.0 154.1L406.3 154.1L405.5 154.1L404.8 154.1L404.1 154.1L403.4 154.1L402.7 154.1L402.0 154.1L401.2 154.1L400.5 154.1L399.8 154.1L399.1 154.1L398.4 154.1L397.8 154.1L397.1 154.1L396.4 154.2L395.7 154.2L395.0 154.2L394.3 154.2L393.6 154.2L393.0 154.2L392.3 154.2L391.6 154.3L391.0 154.3L390.3 154.3L389.6 154.3L389.0 154.3L388.3 154.4L387.6 154.4L387.0 154.4L386.3 154.4L385.7 154.5L385.0 154.5L384.4 154.5L383.7 154.6L383.1 154.6L382.5 154.6L381.8 154.7L381.2 154.7L380.5 154.8L379.9 154.8L379.3 154.8L378.7 154.9L378.0 154.9L377.4 155.0L376.8 155.0L376.2 155.1L375.5 155.1L374.9 155.2L374.3 155.2L373.7 155.3L373.1 155.4L372.5 155.4L371.8 155.5L371.2 155.6L370.6 155.6L370.0 155.7L369.4 155.8L368.8 155.9L368.2 155.9L367.6 156.0L367.0 156.1L366.4 156.2L365.8 156.3L365.2 156.4L364.6 156.5L364.0 156.5L363.4 156.6L362.9 156.7L362.3 156.8L361.7 157.0L361.1 157.1L360.5 157.2L359.9 157.3L359.4 157.4L358.8 157.5L358.2 157.7L357.6 157.8L357.1 157.9L356.5 158.0L355.9 158.2L355.4 158.3L354.8 158.5L354.2 158.6L353.7 158.7L353.1 158.9L352.5 159.0L352.0 159.2L351.4 159.4L350.9 159.5L350.3 159.7L349.8 159.9L349.2 160.0L348.7 160.2L348.1 160.4L347.6 160.6L347.0 160.7L346.5 160.9L345.9 161.1L345.4 161.3L344.9 161.5L344.3 161.7L343.8 161.9L343.3 162.1L342.8 162.3L342.2 162.5L341.7 162.7L341.2 162.9L340.7 163.1L340.1 163.4L339.6 163.6L339.1 163.8L338.6 164.0L338.1 164.3L337.6 164.5L337.1 164.7L336.6 165.0L336.1 165.2L335.6 165.4L335.1 165.7L334.6 165.9L334.1 166.2L333.6 166.4L333.1 166.7L332.6 166.9L332.2 167.2L331.7 167.4L331.2 167.7L330.7 167.9L330.2 168.2L329.8 168.5L329.3 168.7L328.8 169.0L328.4 169.3L327.9 169.5L327.4 169.8L327.0 170.1L326.5 170.3L326.1 170.6L325.6 170.9L325.2 171.2L324.7 171.4L324.3 171.7L323.8 172.0L323.4 172.3L322.9 172.6L322.5 172.8L322.1 173.1L321.6 173.4L321.2 173.7L320.8 174.0L320.3 174.3L319.9 174.5L319.5 174.8L319.1 175.1L318.6 175.4L318.2 175.7L317.8 176.0L317.4 176.3L317.0 176.5L316.6 176.8L316.2 177.1L315.8 177.4L315.4 177.7L315.0 178.0L314.6 178.3L314.2 178.6L313.8 178.9L313.4 179.2L313.0 179.4L312.6 179.7L312.2 180.0L311.8 180.3L311.4 180.6L311.0 180.9L310.6 181.2L310.3 181.5L309.9 181.8L309.5 182.1L309.1 182.4L308.7 182.6L308.4 182.9L308.0 183.2L307.6 183.5L307.3 183.8L306.9 184.1L306.5 184.4L306.2 184.7L305.8 185.0L305.4 185.3L305.1 185.5L304.7 185.8L304.4 186.1L304.0 186.4L303.6 186.7L303.3 187.0L302.9 187.3L302.6 187.6L302.2 187.8L301.9 188.1L301.5 188.4L301.2 188.7L300.8 189.0L300.5 189.3L300.1 189.6L299.8 189.8L299.5 190.1L299.1 190.4L298.8 190.7L298.4 191.0L298.1 191.3L297.8 191.6L297.4 191.8L297.1 192.1L296.8 192.4L296.4 192.7L296.1 193.0L295.8 193.3L295.4 193.5L295.1 193.8L294.8 194.1L294.5 194.4L294.1 194.7L293.8 194.9L293.5 195.2L293.1 195.5L292.8 195.8L292.5 196.1L292.2 196.3L291.9 196.6L291.5 196.9L291.2 197.2L290.9 197.5L290.6 197.7L290.3 198.0L289.9 198.3L289.6 198.6L289.3 198.8L289.0 199.1L288.7 199.4L288.4 199.7L288.0 199.9L287.7 200.2L287.4 200.5L287.1 200.8L286.8 201.1L286.5 201.3L286.2 201.6L285.9 201.9L285.5 202.2L285.2 202.4L284.9 202.7L284.6 203.0L284.3 203.3L284.0 203.5L283.7 203.8L283.4 204.1L283.1 204.4L282.8 204.6L282.5 204.9L282.1 205.2L281.8 205.5L281.5 205.7L281.2 206.0L280.9 206.3L280.6 206.5L280.3 206.8L280.0 207.1L279.7 207.4L279.4 207.6L279.1 207.9L278.8 208.2L278.5 208.5L278.2 208.7L277.9 209.0L277.6 209.3L277.2 209.6L276.9 209.8L276.6 210.1L276.3 210.4L276.0 210.7L275.7 211.0L275.4 211.2L275.1 211.5L274.8 211.8L274.5 212.1L274.2 212.3L273.9 212.6L273.6 212.9L273.3 213.2L273.0 213.4L272.7 213.7L272.4 214.0L272.1 214.3L271.7 214.6L271.4 214.8L271.1 215.1L270.8 215.4L270.5 215.7L270.2 216.0L269.9 216.2L269.6 216.5L269.3 216.8L269.0 217.1L268.7 217.4L268.4 217.6L268.0 217.9L267.7 218.2L267.4 218.5L267.1 218.8L266.8 219.1L266.5 219.4L266.2 219.6L265.9 219.9L265.6 220.2L265.2 220.5L264.9 220.8L264.6 221.1L264.3 221.4L264.0 221.7L263.7 221.9L263.4 222.2L263.0 222.5L262.7 222.8L262.4 223.1L262.1 223.4L261.8 223.7L261.4 224.0L261.1 224.3L260.8 224.6L260.5 224.9L260.2 225.2L259.8 225.5L259.5 225.8L259.2 226.1L258.9 226.4L258.5 226.7L258.2 227.0L257.9 227.3L257.6 227.6L257.2 227.9L256.9 228.2L256.6 228.5L256.2 228.8L255.9 229.1L255.6 229.5L255.2 229.8L254.9 230.1L254.6 230.4L254.2 230.7L253.9 231.0L253.6 231.3L253.2 231.7L252.9 232.0L252.6 232.3L252.2 232.6L251.9 232.9L251.5 233.3L251.2 233.6L250.9 233.9L250.5 234.3L250.2 234.6L249.8 234.9L249.5 235.2L249.1 235.6L248.8 235.9L248.4 236.3L248.1 236.6L247.7 236.9L247.4 237.3L247.0 237.6L246.7 238.0L246.3 238.3L245.9 238.7L245.6 239.0L245.2 239.4L244.9 239.7L244.5 240.1L244.2 240.4L243.8 240.8L243.4 241.1L243.1 241.5L242.7 241.9L242.3 242.2L242.0 242.6L241.6 243.0L241.2 243.3L240.9 243.7L240.5 244.1L240.1 244.5L239.8 244.8L239.4 245.2L239.0 245.6L238.6 246.0L238.3 246.4L237.9 246.8L237.5 247.1L237.1 247.5L236.8 247.9L236.4 248.3L236.0 248.7L235.6 249.1L235.2 249.5L234.9 250.0L234.5 250.4L234.1 250.8L233.7 251.2L233.4 251.6L233.0 252.0L232.6 252.5L232.2 252.9L231.8 253.3L231.5 253.7L231.1 254.2L230.7 254.6L230.3 255.1L229.9 255.5L229.6 255.9L229.2 256.4L228.8 256.8L228.4 257.3L228.1 257.8L227.7 258.2L227.3 258.7L226.9 259.1L226.6 259.6L226.2 260.1L225.8 260.6L225.5 261.0L225.1 261.5L224.7 262.0L224.4 262.5L224.0 263.0L223.6 263.5L223.3 264.0L222.9 264.5L222.6 265.0L222.2 265.5L221.9 266.0L221.6 266.5L221.2 267.0L220.9 267.5L220.5 268.0L220.2 268.6L219.9 269.1L219.6 269.6L219.3 270.1L218.9 270.7L218.6 271.2L218.3 271.8L218.0 272.3L217.7 272.8L217.4 273.4L217.2 273.9L216.9 274.5L216.6 275.0L216.3 275.6L216.1 276.2L215.8 276.7L215.5 277.3L215.3 277.9L215.0 278.4L214.8 279.0" stroke="#4d4d4d" stroke-width="2.1" fill="none" stroke-dasharray="2.1 3.9"/><path d="M420.2 277.8L420.3 277.4L420.5 277.0L420.7 276.6L420.9 276.3L421.1 275.9L421.3 275.5L421.4 275.1L421.6 274.7L421.8 274.4L422.0 274.0L422.1 273.6L422.3 273.2L422.4 272.8L422.6 272.4L422.7 272.0L422.9 271.6L423.0 271.2L423.2 270.8L423.3 270.5L423.4 270.1L423.6 269.7L423.7 269.3L423.8 268.8L424.0 268.4L424.1 268.0L424.2 267.6L424.3 267.2L424.4 266.8L424.5 266.4L424.6 266.0L424.7 265.6L424.8 265.2L424.9 264.8L425.0 264.4L425.1 263.9L425.2 263.5L425.2 263.1L425.3 262.7L425.4 262.3L425.5 261.8L425.5 261.4L425.6 261.0L425.7 260.6L425.7 260.2L425.8 259.7L425.8 259.3L425.9 258.9L425.9 258.5L426.0 258.0L426.0 257.6L426.1 257.2L426.1 256.8L426.2 256.3L426.2 255.9L426.2 255.5L426.3 255.0L426.3 254.6L426.3 254.2L426.4 253.7L426.4 253.3L426.4 252.9L426.4 252.4L426.4 252.0L426.5 251.6L426.5 251.1L426.5 250.7L426.5 250.3L426.5 249.8L426.5 249.4L426.5 248.9L426.5 248.5L426.6 248.0L426.6 247.6L426.6 247.2L426.6 246.7L426.6 246.3L426.6 245.8L426.6 245.4L426.6 244.9L426.6 244.5L426.6 244.0L426.6 243.5L426.6 243.1L426.6 242.6L426.5 242.2L426.5 241.7L426.5 241.3L426.5 240.8L426.5 240.3L426.5 239.9L426.5 239.4L426.5 238.9L426.5 238.5L426.5 238.0L426.4 237.5L426.4 237.1L426.4 236.6L426.4 236.1L426.4 235.6L426.4 235.1L426.4 234.7L426.3 234.2L426.3 233.7L426.3 233.2L426.3 232.7L426.3 232.2L426.2 231.7L426.2 231.3L426.2 230.8L426.2 230.3L426.2 229.8L426.1 229.3L426.1 228.8L426.1 228.3L426.1 227.8L426.0 227.3L426.0 226.7L426.0 226.2L425.9 225.7L425.9 225.2L425.9 224.7L425.9 224.2L425.8 223.7L425.8 223.1L425.7 222.6L425.7 222.1L425.7 221.6L425.6 221.0L425.6 220.5L425.5 220.0L425.5 219.5L425.4 218.9L425.4 218.4L425.3 217.9L425.3 217.3L425.2 216.8L425.1 216.3L425.1 215.7L425.0 215.2L424.9 214.6L424.8 214.1L424.8 213.6L424.7 213.0L424.6 212.5L424.5 212.0L424.4 211.4L424.3 210.9L424.2 210.4L424.0 209.8L423.9 209.3L423.8 208.8L423.6 208.3L423.5 207.7L423.3 207.2L423.2 206.7L423.0 206.2L422.8 205.7L422.7 205.2L422.5 204.7L422.3 204.2L422.0 203.7L421.8 203.3L421.6 202.8L421.4 202.3L421.1 201.9L420.8 201.4L420.6 201.0L420.3 200.6L420.0 200.2L419.7 199.8L419.4 199.4L419.0 199.0L418.7 198.6L418.3 198.2L418.0 197.9L417.6 197.5L417.2 197.2L416.8 196.8L416.4 196.5L416.0 196.2L415.6 195.9L415.2 195.7L414.7 195.4L414.3 195.1L413.8 194.9L413.3 194.6L412.9 194.4L412.4 194.2L411.9 194.0L411.4 193.8L410.9 193.6L410.4 193.4L409.9 193.2L409.4 193.1L408.8 192.9L408.3 192.8L407.8 192.6L407.3 192.5L406.7 192.4L406.2 192.2L405.6 192.1L405.1 192.0L404.5 191.9L404.0 191.8L403.5 191.8L402.9 191.7L402.4 191.6L401.8 191.5L401.3 191.4L400.7 191.4L400.2 191.3L399.6 191.3L399.1 191.2L398.5 191.2L398.0 191.1L397.4 191.1L396.9 191.0L396.3 191.0L395.8 191.0L395.2 190.9L394.7 190.9L394.2 190.9L393.6 190.8L393.1 190.8L392.6 190.8L392.0 190.8L391.5 190.7L391.0 190.7L390.4 190.7L389.9 190.7L389.4 190.7L388.9 190.7L388.4 190.7L387.9 190.6L387.3 190.6L386.8 190.6L386.3 190.6L385.8 190.6L385.3 190.6L384.8 190.6L384.3 190.6L383.8 190.6L383.3 190.6L382.8 190.6L382.3 190.6L381.8 190.6L381.3 190.6L380.9 190.6L380.4 190.6L379.9 190.6L379.4 190.6L378.9 190.6L378.5 190.6L378.0 190.6L377.5 190.6L377.0 190.6L376.6 190.6L376.1 190.6L375.6 190.6L375.2 190.6L374.7 190.6L374.2 190.6L373.8 190.6L373.3 190.6L372.9 190.6L372.4 190.7L372.0 190.7L371.5 190.7L371.0 190.7L370.6 190.7L370.1 190.7L369.7 190.7L369.3 190.7L368.8 190.8L368.4 190.8L367.9 190.8L367.5 190.8L367.0 190.8L366.6 190.9L366.2 190.9L365.7 190.9L365.3 190.9L364.9 191.0L364.4 191.0L364.0 191.0L363.6 191.1L363.1 191.1L362.7 191.1L362.3 191.2L361.9 191.2L361.4 191.2L361.0 191.3L360.6 191.3L360.2 191.3L359.7 191.4L359.3 191.4L358.9 191.5L358.5 191.5L358.1 191.6L357.7 191.6L357.2 191.7L356.8 191.7L356.4 191.8L356.0 191.8L355.6 191.9L355.2 192.0L354.8 192.0L354.4 192.1L354.0 192.2L353.5 192.2L353.1 192.3L352.7 192.4L352.3 192.5L351.9 192.5L351.5 192.6L351.1 192.7L350.7 192.8L350.3 192.9L349.9 193.0L349.5 193.0L349.1 193.1L348.7 193.2L348.3 193.3L348.0 193.4L347.6 193.5L347.2 193.6L346.8 193.7L346.4 193.9L346.0 194.0L345.6 194.1L345.2 194.2L344.9 194.3L344.5 194.4L344.1 194.6L343.7 194.7L343.3 194.8L343.0 194.9L342.6 195.1L342.2 195.2L341.8 195.3L341.5 195.5L341.1 195.6L340.7 195.8L340.4 195.9L340.0 196.1L339.6 196.2L339.3 196.4L338.9 196.5L338.5 196.7L338.2 196.8L337.8 197.0L337.5 197.1L337.1 197.3L336.7 197.5L336.4 197.6L336.0 197.8L335.7 198.0L335.3 198.2L335.0 198.3L334.7 198.5L334.3 198.7L334.0 198.9L333.6 199.0L333.3 199.2L333.0 199.4L332.6 199.6L332.3 199.8L331.9 200.0L331.6 200.1L331.3 200.3L331.0 200.5L330.6 200.7L330.3 200.9L330.0 201.1L329.7 201.3L329.3 201.5L329.0 201.7L328.7 201.9L328.4 202.1L328.1 202.3L327.8 202.5L327.5 202.7L327.1 202.9L326.8 203.1L326.5 203.3L326.2 203.5L325.9 203.7L325.6 203.9L325.3 204.1L325.0 204.3L324.7 204.5L324.4 204.7L324.1 204.9L323.8 205.1L323.6 205.3L323.3 205.5L323.0 205.7L322.7 206.0L322.4 206.2L322.1 206.4L321.8 206.6L321.5 206.8L321.3 207.0L321.0 207.2L320.7 207.4L320.4 207.6L320.2 207.8L319.9 208.0L319.6 208.3L319.3 208.5L319.1 208.7L318.8 208.9L318.5 209.1L318.3 209.3L318.0 209.5L317.7 209.7L317.5 209.9L317.2 210.1L316.9 210.4L316.7 210.6L316.4 210.8L316.2 211.0L315.9 211.2L315.7 211.4L315.4 211.6L315.1 211.8L314.9 212.0L314.6 212.2L314.4 212.4L314.1 212.7L313.9 212.9L313.6 213.1L313.4 213.3L313.2 213.5L312.9 213.7L312.7 213.9L312.4 214.1L312.2 214.3L311.9 214.5L311.7 214.7L311.5 214.9L311.2 215.1L311.0 215.3L310.7 215.5L310.5 215.8L310.3 216.0L310.0 216.2L309.8 216.4L309.6 216.6L309.3 216.8L309.1 217.0L308.9 217.2L308.6 217.4L308.4 217.6L308.2 217.8L307.9 218.0L307.7 218.2L307.5 218.4L307.3 218.6L307.0 218.8L306.8 219.0L306.6 219.2L306.4 219.4L306.1 219.6L305.9 219.8L305.7 220.0L305.5 220.2L305.2 220.4L305.0 220.6L304.8 220.8L304.6 221.0L304.3 221.2L304.1 221.4L303.9 221.6L303.7 221.8L303.5 222.0L303.3 222.2L303.0 222.4L302.8 222.6L302.6 222.8L302.4 223.0L302.2 223.2L301.9 223.4L301.7 223.6L301.5 223.8L301.3 224.0L301.1 224.2L300.9 224.4L300.7 224.6L300.4 224.8L300.2 225.0L300.0 225.2L299.8 225.4L299.6 225.6L299.4 225.8L299.2 226.0L299.0 226.1L298.7 226.3L298.5 226.5L298.3 226.7L298.1 226.9L297.9 227.1L297.7 227.3L297.5 227.5L297.3 227.7L297.0 227.9L296.8 228.1L296.6 228.3L296.4 228.5L296.2 228.7L296.0 228.9L295.8 229.1L295.6 229.3L295.4 229.5L295.2 229.7L294.9 229.9L294.7 230.1L294.5 230.3L294.3 230.5L294.1 230.7L293.9 230.9L293.7 231.1L293.5 231.3L293.3 231.5L293.1 231.7L292.8 231.9L292.6 232.0L292.4 232.2L292.2 232.4L292.0 232.6L291.8 232.8L291.6 233.0L291.4 233.2L291.2 233.4L291.0 233.6L290.7 233.8L290.5 234.0L290.3 234.2L290.1 234.4L289.9 234.6L289.7 234.8L289.5 235.0L289.3 235.2L289.0 235.4L288.8 235.6L288.6 235.8L288.4 236.1L288.2 236.3L288.0 236.5L287.8 236.7L287.6 236.9L287.3 237.1L287.1 237.3L286.9 237.5L286.7 237.7L286.5 237.9L286.3 238.1L286.1 238.3L285.8 238.5L285.6 238.7L285.4 238.9L285.2 239.1L285.0 239.3L284.8 239.6L284.5 239.8L284.3 240.0L284.1 240.2L283.9 240.4L283.7 240.6L283.4 240.8L283.2 241.0L283.0 241.2L282.8 241.5L282.6 241.7L282.3 241.9L282.1 242.1L281.9 242.3L281.7 242.5L281.5 242.8L281.2 243.0L281.0 243.2L280.8 243.4L280.6 243.6L280.3 243.9L280.1 244.1L279.9 244.3L279.7 244.5L279.4 244.8L279.2 245.0L279.0 245.2L278.8 245.4L278.5 245.7L278.3 245.9L278.1 246.1L277.8 246.3L277.6 246.6L277.4 246.8L277.1 247.0L276.9 247.3L276.7 247.5L276.4 247.7L276.2 248.0L276.0 248.2L275.7 248.5L275.5 248.7L275.3 248.9L275.0 249.2L274.8 249.4L274.6 249.7L274.3 249.9L274.1 250.2L273.9 250.4L273.6 250.7L273.4 250.9L273.1 251.2L272.9 251.4L272.7 251.7L272.4 251.9L272.2 252.2L271.9 252.4L271.7 252.7L271.5 252.9L271.2 253.2L271.0 253.5L270.7 253.7L270.5 254.0L270.2 254.3L270.0 254.5L269.8 254.8L269.5 255.1L269.3 255.3L269.0 255.6L268.8 255.9L268.5 256.2L268.3 256.4L268.0 256.7L267.8 257.0L267.6 257.3L267.3 257.6L267.1 257.8L266.8 258.1L266.6 258.4L266.3 258.7L266.1 259.0L265.8 259.3L265.6 259.6L265.3 259.9L265.1 260.2L264.9 260.5L264.6 260.8L264.4 261.1L264.1 261.4L263.9 261.7L263.6 262.0L263.4 262.3L263.2 262.6L262.9 262.9L262.7 263.3L262.4 263.6L262.2 263.9L262.0 264.2L261.7 264.5L261.5 264.9L261.3 265.2L261.0 265.5L260.8 265.9L260.6 266.2L260.3 266.5L260.1 266.9L259.9 267.2L259.7 267.5L259.4 267.9L259.2 268.2L259.0 268.6L258.8 268.9L258.6 269.3L258.4 269.6L258.1 270.0L257.9 270.3L257.7 270.7L257.5 271.1L257.3 271.4L257.1 271.8L256.9 272.1L256.7 272.5L256.5 272.9L256.3 273.3L256.1 273.6L256.0 274.0L255.8 274.4L255.6 274.8L255.4 275.1L255.2 275.5L255.1 275.9L254.9 276.3L254.7 276.7L254.6 277.0L254.4 277.4L254.3 277.8" stroke="#826ec8" stroke-width="2.1" fill="none"/><path d="M420.2 277.8L420.3 277.4L420.5 277.0L420.7 276.6L420.9 276.3L421.1 275.9L421.3 275.5L421.5 275.1L421.7 274.8L421.9 274.4L422.1 274.0L422.3 273.7L422.5 273.3L422.7 272.9L422.9 272.6L423.1 272.2L423.3 271.8L423.5 271.4L423.7 271.0L423.9 270.6L424.1 270.3L424.2 269.9L424.4 269.5L424.6 269.1L424.7 268.7L424.9 268.3L425.1 267.9L425.2 267.5L425.4 267.1L425.5 266.7L425.7 266.3L425.8 265.8L425.9 265.4L426.1 265.0L426.2 264.6L426.3 264.2L426.4 263.8L426.6 263.4L426.7 262.9L426.8 262.5L426.9 262.1L427.0 261.7L427.1 261.2L427.2 260.8L427.3 260.4L427.4 260.0L427.5 259.5L427.6 259.1L427.7 258.7L427.8 258.2L427.9 257.8L428.0 257.4L428.0 256.9L428.1 256.5L428.2 256.1L428.2 255.6L428.3 255.2L428.4 254.8L428.4 254.3L428.5 253.9L428.5 253.4L428.6 253.0L428.6 252.5L428.7 252.1L428.7 251.7L428.7 251.2L428.8 250.8L428.8 250.3L428.8 249.9L428.9 249.4L428.9 249.0L428.9 248.5L428.9 248.1L429.0 247.6L429.0 247.2L429.0 246.7L429.0 246.3L429.0 245.8L429.0 245.4L429.1 244.9L429.1 244.4L429.1 244.0L429.1 243.5L429.1 243.1L429.1 242.6L429.1 242.1L429.1 241.7L429.1 241.2L429.1 240.7L429.1 240.3L429.1 239.8L429.1 239.3L429.1 238.9L429.1 238.4L429.1 237.9L429.0 237.5L429.0 237.0L429.0 236.5L428.9 236.0L428.9 235.5L428.8 235.1L428.7 234.6L428.7 234.1L428.6 233.6L428.5 233.1L428.4 232.6L428.4 232.2L428.3 231.7L428.2 231.2L428.1 230.7L428.0 230.2L427.9 229.7L427.8 229.2L427.7 228.7L427.7 228.2L427.6 227.7L427.5 227.2L427.4 226.7L427.3 226.2L427.2 225.7L427.2 225.1L427.1 224.6L427.0 224.1L426.9 223.6L426.8 223.1L426.7 222.6L426.6 222.0L426.5 221.5L426.4 221.0L426.3 220.5L426.2 219.9L426.1 219.4L425.9 218.9L425.8 218.3L425.7 217.8L425.6 217.3L425.5 216.8L425.4 216.2L425.3 215.7L425.2 215.2L425.0 214.6L424.9 214.1L424.8 213.6L424.7 213.0L424.6 212.5L424.4 212.0L424.3 211.4L424.2 210.9L424.1 210.4L423.9 209.9L423.8 209.3L423.6 208.8L423.4 208.3L423.3 207.8L423.1 207.3L422.9 206.8L422.7 206.3L422.6 205.8L422.3 205.3L422.1 204.8L421.9 204.4L421.7 203.9L421.5 203.4L421.2 203.0L421.0 202.5L420.7 202.1L420.4 201.7L420.2 201.3L419.9 200.9L419.6 200.4L419.3 200.1L419.0 199.7L418.7 199.3L418.3 198.9L418.0 198.6L417.6 198.2L417.3 197.9L416.9 197.6L416.5 197.2L416.1 196.9L415.7 196.6L415.3 196.3L414.9 196.1L414.5 195.8L414.0 195.6L413.6 195.3L413.1 195.1L412.7 194.9L412.2 194.6L411.7 194.4L411.2 194.2L410.7 194.0L410.2 193.9L409.7 193.7L409.2 193.5L408.7 193.4L408.2 193.2L407.7 193.1L407.1 193.0L406.6 192.9L406.1 192.7L405.5 192.6L405.0 192.5L404.5 192.4L403.9 192.3L403.4 192.2L402.8 192.2L402.3 192.1L401.7 192.0L401.2 191.9L400.6 191.9L400.1 191.8L399.6 191.8L399.0 191.7L398.5 191.7L397.9 191.6L397.4 191.6L396.8 191.5L396.3 191.5L395.7 191.5L395.2 191.4L394.7 191.4L394.1 191.4L393.6 191.3L393.1 191.3L392.5 191.3L392.0 191.3L391.5 191.2L391.0 191.2L390.4 191.2L389.9 191.2L389.4 191.2L388.9 191.2L388.4 191.1L387.8 191.1L387.3 191.1L386.8 191.1L386.3 191.1L385.8 191.1L385.3 191.1L384.8 191.1L384.3 191.1L383.8 191.1L383.3 191.1L382.8 191.1L382.3 191.1L381.8 191.1L381.3 191.1L380.9 191.1L380.4 191.1L379.9 191.1L379.4 191.1L378.9 191.1L378.5 191.1L378.0 191.1L377.5 191.1L377.0 191.1L376.6 191.1L376.1 191.1L375.6 191.1L375.2 191.1L374.7 191.1L374.2 191.1L373.8 191.1L373.3 191.1L372.9 191.1L372.4 191.2L372.0 191.2L371.5 191.2L371.1 191.2L370.6 191.2L370.2 191.2L369.7 191.2L369.3 191.2L368.8 191.3L368.4 191.3L367.9 191.3L367.5 191.3L367.1 191.3L366.6 191.4L366.2 191.4L365.8 191.4L365.3 191.4L364.9 191.5L364.5 191.5L364.0 191.5L363.6 191.6L363.2 191.6L362.8 191.6L362.3 191.6L361.9 191.7L361.5 191.7L361.1 191.8L360.6 191.8L360.2 191.8L359.8 191.9L359.4 191.9L359.0 192.0L358.5 192.0L358.1 192.1L357.7 192.1L357.3 192.2L356.9 192.2L356.5 192.3L356.1 192.3L355.7 192.4L355.3 192.5L354.8 192.5L354.4 192.6L354.0 192.7L353.6 192.7L353.2 192.8L352.8 192.9L352.4 192.9L352.0 193.0L351.6 193.1L351.2 193.2L350.8 193.3L350.4 193.4L350.0 193.4L349.6 193.5L349.3 193.6L348.9 193.7L348.5 193.8L348.1 193.9L347.7 194.0L347.3 194.1L346.9 194.2L346.5 194.3L346.2 194.5L345.8 194.6L345.4 194.7L345.0 194.8L344.6 194.9L344.2 195.0L343.9 195.2L343.5 195.3L343.1 195.4L342.7 195.5L342.4 195.7L342.0 195.8L341.6 196.0L341.3 196.1L340.9 196.2L340.5 196.4L340.2 196.5L339.8 196.7L339.4 196.8L339.1 197.0L338.7 197.1L338.4 197.3L338.0 197.4L337.7 197.6L337.3 197.8L337.0 197.9L336.6 198.1L336.3 198.3L335.9 198.4L335.6 198.6L335.2 198.8L334.9 198.9L334.5 199.1L334.2 199.3L333.9 199.5L333.5 199.7L333.2 199.8L332.9 200.0L332.5 200.2L332.2 200.4L331.9 200.6L331.5 200.8L331.2 200.9L330.9 201.1L330.6 201.3L330.2 201.5L329.9 201.7L329.6 201.9L329.3 202.1L329.0 202.3L328.7 202.5L328.3 202.7L328.0 202.9L327.7 203.1L327.4 203.3L327.1 203.5L326.8 203.7L326.5 203.9L326.2 204.1L325.9 204.3L325.6 204.5L325.3 204.7L325.0 204.9L324.7 205.1L324.4 205.3L324.1 205.5L323.8 205.7L323.5 205.9L323.2 206.1L322.9 206.3L322.6 206.5L322.3 206.7L322.0 206.9L321.8 207.1L321.5 207.3L321.2 207.5L320.9 207.6L320.6 207.8L320.3 208.0L320.0 208.2L319.7 208.4L319.4 208.6L319.2 208.8L318.9 209.0L318.6 209.2L318.3 209.4L318.0 209.6L317.8 209.8L317.5 210.0L317.2 210.1L316.9 210.3L316.7 210.5L316.4 210.7L316.1 210.9L315.8 211.1L315.6 211.3L315.3 211.5L315.0 211.7L314.8 211.9L314.5 212.0L314.2 212.2L313.9 212.4L313.7 212.6L313.4 212.8L313.1 213.0L312.9 213.2L312.6 213.4L312.4 213.5L312.1 213.7L311.8 213.9L311.6 214.1L311.3 214.3L311.1 214.5L310.8 214.7L310.5 214.8L310.3 215.0L310.0 215.2L309.8 215.4L309.5 215.6L309.3 215.8L309.0 216.0L308.8 216.2L308.5 216.3L308.3 216.5L308.0 216.7L307.8 216.9L307.5 217.1L307.3 217.3L307.0 217.4L306.8 217.6L306.6 217.8L306.3 218.0L306.1 218.2L305.8 218.4L305.6 218.6L305.4 218.7L305.1 218.9L304.9 219.1L304.6 219.3L304.4 219.5L304.2 219.7L303.9 219.9L303.7 220.0L303.5 220.2L303.2 220.4L303.0 220.6L302.8 220.8L302.5 221.0L302.3 221.1L302.1 221.3L301.8 221.5L301.6 221.7L301.4 221.9L301.1 222.1L300.9 222.2L300.7 222.4L300.4 222.6L300.2 222.8L300.0 223.0L299.7 223.1L299.5 223.3L299.3 223.5L299.1 223.7L298.8 223.9L298.6 224.1L298.4 224.3L298.2 224.4L297.9 224.6L297.7 224.8L297.5 225.0L297.3 225.2L297.1 225.4L296.8 225.6L296.6 225.8L296.4 225.9L296.2 226.1L296.0 226.3L295.8 226.5L295.5 226.7L295.3 226.9L295.1 227.1L294.9 227.3L294.7 227.5L294.5 227.7L294.3 227.9L294.1 228.1L293.9 228.3L293.7 228.5L293.5 228.7L293.3 228.9L293.0 229.1L292.8 229.3L292.6 229.5L292.4 229.7L292.2 229.9L292.0 230.1L291.8 230.3L291.6 230.5L291.4 230.8L291.2 231.0L291.0 231.2L290.8 231.4L290.6 231.6L290.4 231.8L290.2 232.0L290.0 232.2L289.8 232.4L289.6 232.6L289.4 232.8L289.2 233.0L289.0 233.2L288.8 233.4L288.6 233.6L288.3 233.9L288.1 234.1L287.9 234.3L287.7 234.5L287.5 234.7L287.3 234.9L287.1 235.1L286.9 235.3L286.7 235.5L286.5 235.7L286.2 235.9L286.0 236.1L285.8 236.3L285.6 236.5L285.4 236.7L285.2 237.0L285.0 237.2L284.7 237.4L284.5 237.6L284.3 237.8L284.1 238.0L283.9 238.2L283.7 238.4L283.4 238.6L283.2 238.8L283.0 239.1L282.8 239.3L282.6 239.5L282.4 239.7L282.1 239.9L281.9 240.1L281.7 240.3L281.5 240.6L281.3 240.8L281.0 241.0L280.8 241.2L280.6 241.4L280.4 241.7L280.1 241.9L279.9 242.1L279.7 242.3L279.5 242.5L279.3 242.8L279.0 243.0L278.8 243.2L278.6 243.4L278.3 243.7L278.1 243.9L277.9 244.1L277.7 244.3L277.4 244.6L277.2 244.8L277.0 245.0L276.7 245.2L276.5 245.5L276.3 245.7L276.0 245.9L275.8 246.2L275.6 246.4L275.3 246.6L275.1 246.9L274.8 247.1L274.6 247.3L274.4 247.6L274.1 247.8L273.9 248.1L273.6 248.3L273.4 248.5L273.2 248.8L272.9 249.0L272.7 249.3L272.4 249.5L272.2 249.8L272.0 250.0L271.7 250.3L271.5 250.5L271.2 250.8L271.0 251.0L270.7 251.3L270.5 251.6L270.3 251.8L270.0 252.1L269.8 252.4L269.5 252.6L269.3 252.9L269.0 253.2L268.8 253.4L268.6 253.7L268.3 254.0L268.1 254.2L267.8 254.5L267.6 254.8L267.3 255.1L267.1 255.4L266.8 255.7L266.6 255.9L266.4 256.2L266.1 256.5L265.9 256.8L265.6 257.1L265.4 257.4L265.1 257.7L264.9 258.0L264.6 258.3L264.4 258.6L264.2 258.9L263.9 259.2L263.7 259.5L263.4 259.8L263.2 260.1L262.9 260.5L262.7 260.8L262.5 261.1L262.2 261.4L262.0 261.7L261.8 262.1L261.5 262.4L261.3 262.7L261.1 263.1L260.9 263.4L260.7 263.8L260.5 264.1L260.3 264.5L260.1 264.9L259.9 265.2L259.7 265.6L259.5 266.0L259.3 266.3L259.1 266.7L258.9 267.1L258.7 267.4L258.6 267.8L258.4 268.2L258.2 268.6L258.0 268.9L257.8 269.3L257.7 269.7L257.5 270.1L257.3 270.5L257.1 270.8L257.0 271.2L256.8 271.6L256.6 272.0L256.5 272.4L256.3 272.8L256.1 273.2L256.0 273.5L255.8 273.9L255.7 274.3L255.5 274.7L255.4 275.1L255.2 275.5L255.1 275.9L254.9 276.3L254.7 276.7L254.6 277.0L254.4 277.4L254.3 277.8" stroke="#3a98d8" stroke-width="2.1" fill="none" stroke-dasharray="7.9 4.0"/><path d="M420.2 277.8L420.3 277.4L420.5 277.0L420.7 276.6L420.9 276.3L421.1 275.9L421.3 275.5L421.4 275.1L421.6 274.7L421.8 274.4L422.0 274.0L422.1 273.6L422.3 273.2L422.4 272.8L422.6 272.4L422.7 272.0L422.9 271.6L423.0 271.2L423.2 270.8L423.3 270.5L423.4 270.1L423.6 269.7L423.7 269.3L423.8 268.8L424.0 268.4L424.1 268.0L424.2 267.6L424.3 267.2L424.4 266.8L424.5 266.4L424.6 266.0L424.7 265.6L424.8 265.2L424.9 264.8L425.0 264.4L425.1 263.9L425.2 263.5L425.2 263.1L425.3 262.7L425.4 262.3L425.5 261.8L425.5 261.4L425.6 261.0L425.7 260.6L425.7 260.2L425.8 259.7L425.8 259.3L425.9 258.9L425.9 258.5L426.0 258.0L426.0 257.6L426.1 257.2L426.1 256.8L426.2 256.3L426.2 255.9L426.2 255.5L426.3 255.0L426.3 254.6L426.3 254.2L426.4 253.7L426.4 253.3L426.4 252.9L426.4 252.4L426.4 252.0L426.5 251.6L426.5 251.1L426.5 250.7L426.5 250.3L426.5 249.8L426.5 249.4L426.5 248.9L426.5 248.5L426.6 248.0L426.6 247.6L426.6 247.2L426.6 246.7L426.6 246.3L426.6 245.8L426.6 245.4L426.6 244.9L426.6 244.5L426.6 244.0L426.6 243.5L426.6 243.1L426.6 242.6L426.5 242.2L426.5 241.7L426.5 241.3L426.5 240.8L426.5 240.3L426.5 239.9L426.5 239.4L426.5 238.9L426.5 238.5L426.5 238.0L426.4 237.5L426.4 237.1L426.4 236.6L426.4 236.1L426.4 235.6L426.4 235.1L426.4 234.7L426.3 234.2L426.3 233.7L426.3 233.2L426.3 232.7L426.3 232.2L426.2 231.7L426.2 231.3L426.2 230.8L426.2 230.3L426.2 229.8L426.1 229.3L426.1 228.8L426.1 228.3L426.1 227.8L426.0 227.3L426.0 226.7L426.0 226.2L425.9 225.7L425.9 225.2L425.9 224.7L425.9 224.2L425.8 223.7L425.8 223.1L425.7 222.6L425.7 222.1L425.7 221.6L425.6 221.0L425.6 220.5L425.5 220.0L425.5 219.5L425.4 218.9L425.4 218.4L425.3 217.9L425.3 217.3L425.2 216.8L425.1 216.3L425.1 215.7L425.0 215.2L424.9 214.6L424.8 214.1L424.8 213.6L424.7 213.0L424.6 212.5L424.5 212.0L424.4 211.4L424.3 210.9L424.2 210.4L424.0 209.8L423.9 209.3L423.8 208.8L423.6 208.3L423.5 207.7L423.3 207.2L423.2 206.7L423.0 206.2L422.8 205.7L422.7 205.2L422.5 204.7L422.3 204.2L422.0 203.7L421.8 203.3L421.6 202.8L421.4 202.3L421.1 201.9L420.8 201.4L420.6 201.0L420.3 200.6L420.0 200.2L419.7 199.8L419.4 199.4L419.0 199.0L418.7 198.6L418.3 198.2L418.0 197.9L417.6 197.5L417.2 197.2L416.8 196.8L416.4 196.5L416.0 196.2L415.6 195.9L415.2 195.7L414.7 195.4L414.3 195.1L413.8 194.9L413.3 194.6L412.9 194.4L412.4 194.2L411.9 194.0L411.4 193.8L410.9 193.6L410.4 193.4L409.9 193.2L409.4 193.1L408.8 192.9L408.3 192.8L407.8 192.6L407.3 192.5L406.7 192.4L406.2 192.2L405.6 192.1L405.1 192.0L404.5 191.9L404.0 191.8L403.5 191.8L402.9 191.7L402.4 191.6L401.8 191.5L401.3 191.4L400.7 191.4L400.2 191.3L399.6 191.3L399.1 191.2L398.5 191.2L398.0 191.1L397.4 191.1L396.9 191.0L396.3 191.0L395.8 191.0L395.2 190.9L394.7 190.9L394.2 190.9L393.6 190.8L393.1 190.8L392.6 190.8L392.0 190.8L391.5 190.7L391.0 190.7L390.4 190.7L389.9 190.7L389.4 190.7L388.9 190.7L388.4 190.7L387.9 190.6L387.3 190.6L386.8 190.6L386.3 190.6L385.8 190.6L385.3 190.6L384.8 190.6L384.3 190.6L383.8 190.6L383.3 190.6L382.8 190.6L382.3 190.6L381.8 190.6L381.3 190.6L380.9 190.6L380.4 190.6L379.9 190.6L379.4 190.6L378.9 190.6L378.5 190.6L378.0 190.6L377.5 190.6L377.0 190.6L376.6 190.6L376.1 190.6L375.6 190.6L375.2 190.6L374.7 190.6L374.2 190.6L373.8 190.6L373.3 190.6L372.9 190.6L372.4 190.7L372.0 190.7L371.5 190.7L371.0 190.7L370.6 190.7L370.1 190.7L369.7 190.7L369.3 190.7L368.8 190.8L368.4 190.8L367.9 190.8L367.5 190.8L367.0 190.8L366.6 190.9L366.2 190.9L365.7 190.9L365.3 190.9L364.9 191.0L364.4 191.0L364.0 191.0L363.6 191.1L363.1 191.1L362.7 191.1L362.3 191.2L361.9 191.2L361.4 191.2L361.0 191.3L360.6 191.3L360.2 191.3L359.7 191.4L359.3 191.4L358.9 191.5L358.5 191.5L358.1 191.6L357.7 191.6L357.2 191.7L356.8 191.7L356.4 191.8L356.0 191.8L355.6 191.9L355.2 192.0L354.8 192.0L354.4 192.1L354.0 192.2L353.5 192.2L353.1 192.3L352.7 192.4L352.3 192.5L351.9 192.5L351.5 192.6L351.1 192.7L350.7 192.8L350.3 192.9L349.9 193.0L349.5 193.0L349.1 193.1L348.7 193.2L348.3 193.3L348.0 193.4L347.6 193.5L347.2 193.6L346.8 193.7L346.4 193.9L346.0 194.0L345.6 194.1L345.2 194.2L344.9 194.3L344.5 194.4L344.1 194.6L343.7 194.7L343.3 194.8L343.0 194.9L342.6 195.1L342.2 195.2L341.8 195.3L341.5 195.5L341.1 195.6L340.7 195.8L340.4 195.9L340.0 196.1L339.6 196.2L339.3 196.4L338.9 196.5L338.5 196.7L338.2 196.8L337.8 197.0L337.5 197.1L337.1 197.3L336.7 197.5L336.4 197.6L336.0 197.8L335.7 198.0L335.3 198.2L335.0 198.3L334.7 198.5L334.3 198.7L334.0 198.9L333.6 199.0L333.3 199.2L333.0 199.4L332.6 199.6L332.3 199.8L331.9 200.0L331.6 200.1L331.3 200.3L331.0 200.5L330.6 200.7L330.3 200.9L330.0 201.1L329.7 201.3L329.3 201.5L329.0 201.7L328.7 201.9L328.4 202.1L328.1 202.3L327.8 202.5L327.5 202.7L327.1 202.9L326.8 203.1L326.5 203.3L326.2 203.5L325.9 203.7L325.6 203.9L325.3 204.1L325.0 204.3L324.7 204.5L324.4 204.7L324.1 204.9L323.8 205.1L323.6 205.3L323.3 205.5L323.0 205.7L322.7 206.0L322.4 206.2L322.1 206.4L321.8 206.6L321.5 206.8L321.3 207.0L321.0 207.2L320.7 207.4L320.4 207.6L320.2 207.8L319.9 208.0L319.6 208.3L319.3 208.5L319.1 208.7L318.8 208.9L318.5 209.1L318.3 209.3L318.0 209.5L317.7 209.7L317.5 209.9L317.2 210.1L316.9 210.4L316.7 210.6L316.4 210.8L316.2 211.0L315.9 211.2L315.7 211.4L315.4 211.6L315.1 211.8L314.9 212.0L314.6 212.2L314.4 212.4L314.1 212.7L313.9 212.9L313.6 213.1L313.4 213.3L313.2 213.5L312.9 213.7L312.7 213.9L312.4 214.1L312.2 214.3L311.9 214.5L311.7 214.7L311.5 214.9L311.2 215.1L311.0 215.3L310.7 215.5L310.5 215.8L310.3 216.0L310.0 216.2L309.8 216.4L309.6 216.6L309.3 216.8L309.1 217.0L308.9 217.2L308.6 217.4L308.4 217.6L308.2 217.8L307.9 218.0L307.7 218.2L307.5 218.4L307.3 218.6L307.0 218.8L306.8 219.0L306.6 219.2L306.4 219.4L306.1 219.6L305.9 219.8L305.7 220.0L305.5 220.2L305.2 220.4L305.0 220.6L304.8 220.8L304.6 221.0L304.3 221.2L304.1 221.4L303.9 221.6L303.7 221.8L303.5 222.0L303.3 222.2L303.0 222.4L302.8 222.6L302.6 222.8L302.4 223.0L302.2 223.2L301.9 223.4L301.7 223.6L301.5 223.8L301.3 224.0L301.1 224.2L300.9 224.4L300.7 224.6L300.4 224.8L300.2 225.0L300.0 225.2L299.8 225.4L299.6 225.6L299.4 225.8L299.2 226.0L299.0 226.1L298.7 226.3L298.5 226.5L298.3 226.7L298.1 226.9L297.9 227.1L297.7 227.3L297.5 227.5L297.3 227.7L297.0 227.9L296.8 228.1L296.6 228.3L296.4 228.5L296.2 228.7L296.0 228.9L295.8 229.1L295.6 229.3L295.4 229.5L295.2 229.7L294.9 229.9L294.7 230.1L294.5 230.3L294.3 230.5L294.1 230.7L293.9 230.9L293.7 231.1L293.5 231.3L293.3 231.5L293.1 231.7L292.8 231.9L292.6 232.0L292.4 232.2L292.2 232.4L292.0 232.6L291.8 232.8L291.6 233.0L291.4 233.2L291.2 233.4L291.0 233.6L290.7 233.8L290.5 234.0L290.3 234.2L290.1 234.4L289.9 234.6L289.7 234.8L289.5 235.0L289.3 235.2L289.0 235.4L288.8 235.6L288.6 235.8L288.4 236.1L288.2 236.3L288.0 236.5L287.8 236.7L287.6 236.9L287.3 237.1L287.1 237.3L286.9 237.5L286.7 237.7L286.5 237.9L286.3 238.1L286.1 238.3L285.8 238.5L285.6 238.7L285.4 238.9L285.2 239.1L285.0 239.3L284.8 239.6L284.5 239.8L284.3 240.0L284.1 240.2L283.9 240.4L283.7 240.6L283.4 240.8L283.2 241.0L283.0 241.2L282.8 241.5L282.6 241.7L282.3 241.9L282.1 242.1L281.9 242.3L281.7 242.5L281.5 242.8L281.2 243.0L281.0 243.2L280.8 243.4L280.6 243.6L280.3 243.9L280.1 244.1L279.9 244.3L279.7 244.5L279.4 244.8L279.2 245.0L279.0 245.2L278.8 245.4L278.5 245.7L278.3 245.9L278.1 246.1L277.8 246.3L277.6 246.6L277.4 246.8L277.1 247.0L276.9 247.3L276.7 247.5L276.4 247.7L276.2 248.0L276.0 248.2L275.7 248.5L275.5 248.7L275.3 248.9L275.0 249.2L274.8 249.4L274.6 249.7L274.3 249.9L274.1 250.2L273.9 250.4L273.6 250.7L273.4 250.9L273.1 251.2L272.9 251.4L272.7 251.7L272.4 251.9L272.2 252.2L271.9 252.4L271.7 252.7L271.5 252.9L271.2 253.2L271.0 253.5L270.7 253.7L270.5 254.0L270.2 254.3L270.0 254.5L269.8 254.8L269.5 255.1L269.3 255.3L269.0 255.6L268.8 255.9L268.5 256.2L268.3 256.4L268.0 256.7L267.8 257.0L267.6 257.3L267.3 257.6L267.1 257.8L266.8 258.1L266.6 258.4L266.3 258.7L266.1 259.0L265.8 259.3L265.6 259.6L265.3 259.9L265.1 260.2L264.9 260.5L264.6 260.8L264.4 261.1L264.1 261.4L263.9 261.7L263.6 262.0L263.4 262.3L263.2 262.6L262.9 262.9L262.7 263.3L262.4 263.6L262.2 263.9L262.0 264.2L261.7 264.5L261.5 264.9L261.3 265.2L261.0 265.5L260.8 265.9L260.6 266.2L260.3 266.5L260.1 266.9L259.9 267.2L259.7 267.5L259.4 267.9L259.2 268.2L259.0 268.6L258.8 268.9L258.6 269.3L258.4 269.6L258.1 270.0L257.9 270.3L257.7 270.7L257.5 271.1L257.3 271.4L257.1 271.8L256.9 272.1L256.7 272.5L256.5 272.9L256.3 273.3L256.1 273.6L256.0 274.0L255.8 274.4L255.6 274.8L255.4 275.1L255.2 275.5L255.1 275.9L254.9 276.3L254.7 276.7L254.6 277.0L254.4 277.4L254.3 277.8" stroke="#6e6e6e" stroke-width="2.1" fill="none" stroke-dasharray="2.1 3.9"/><circle cx="523.41" cy="275.30" r="3.9" fill="#1d1d1d"/><circle cx="338.35" cy="102.93" r="3.9" fill="#1d1d1d"/><circle cx="520.87" cy="92.81" r="3.9" fill="#1d1d1d"/><circle cx="496.38" cy="275.30" r="3.9" fill="#404040"/><circle cx="338.35" cy="130.54" r="3.9" fill="#404040"/><circle cx="486.33" cy="127.35" r="3.9" fill="#404040"/><circle cx="459.77" cy="275.30" r="3.9" fill="#5f5f5f"/><circle cx="338.35" cy="164.37" r="3.9" fill="#5f5f5f"/><circle cx="449.78" cy="163.89" r="3.9" fill="#5f5f5f"/><circle cx="421.21" cy="275.30" r="3.9" fill="#7a7a7a"/><circle cx="338.35" cy="197.36" r="3.9" fill="#7a7a7a"/><circle cx="416.60" cy="197.07" r="3.9" fill="#7a7a7a"/></g><path d="M340.5 346V491" stroke="#000" stroke-width="1" stroke-dasharray="1 1" fill="none"/><g clip-path="url(#cb)"><path d="M550.6 497.8L551.0 496.9L551.4 495.9L551.7 494.9L552.0 494.0L552.1 493.0L552.2 492.0L552.2 491.1L552.1 490.1L552.0 489.1L551.8 488.2L551.5 487.2L551.1 486.2L550.6 485.3L550.1 484.3L549.5 483.4L548.9 482.4L548.2 481.5L547.5 480.6L546.7 479.7L545.9 478.8L545.0 477.9L544.1 477.0L543.2 476.2L542.2 475.3L541.3 474.4L540.3 473.6L539.2 472.8L538.2 472.0L537.2 471.1L536.1 470.3L535.1 469.6L534.0 468.8L532.9 468.0L531.9 467.2L530.8 466.5L529.7 465.7L528.7 465.0L527.6 464.3L526.5 463.6L525.5 462.9L524.4 462.2L523.4 461.5L522.3 460.8L521.3 460.1L520.3 459.4L519.2 458.8L518.2 458.1L517.2 457.4L516.2 456.8L515.2 456.2L514.2 455.5L513.3 454.9L512.3 454.3L511.3 453.7L510.4 453.1L509.4 452.5L508.5 451.9L507.5 451.3L506.6 450.7L505.7 450.1L504.8 449.5L503.9 449.0L503.0 448.4L502.1 447.9L501.2 447.3L500.3 446.8L499.4 446.2L498.6 445.7L497.7 445.1L496.8 444.6L496.0 444.1L495.1 443.6L494.3 443.1L493.5 442.5L492.6 442.0L491.8 441.5L491.0 441.0L490.2 440.5L489.4 440.1L488.6 439.6L487.8 439.1L487.0 438.6L486.2 438.1L485.4 437.7L484.6 437.2L483.8 436.8L483.0 436.3L482.3 435.9L481.5 435.4L480.7 435.0L480.0 434.5L479.2 434.1L478.5 433.7L477.7 433.2L477.0 432.8L476.2 432.4L475.5 432.0L474.7 431.6L474.0 431.2L473.2 430.8L472.5 430.4L471.8 430.0L471.0 429.6L470.3 429.2L469.6 428.8L468.8 428.4L468.1 428.1L467.4 427.7L466.7 427.3L466.0 427.0L465.2 426.6L464.5 426.3L463.8 425.9L463.1 425.6L462.4 425.2L461.7 424.9L461.0 424.6L460.3 424.2L459.6 423.9L458.9 423.6L458.2 423.3L457.5 423.0L456.8 422.7L456.1 422.4L455.4 422.1L454.7 421.8L454.0 421.5L453.3 421.2L452.6 420.9L451.9 420.6L451.2 420.3L450.5 420.1L449.8 419.8L449.1 419.5L448.4 419.3L447.8 419.0L447.1 418.8L446.4 418.5L445.7 418.3L445.0 418.0L444.3 417.8L443.7 417.6L443.0 417.3L442.3 417.1L441.6 416.9L441.0 416.7L440.3 416.5L439.6 416.3L439.0 416.1L438.3 415.9L437.6 415.7L437.0 415.5L436.3 415.3L435.6 415.1L435.0 414.9L434.3 414.7L433.7 414.5L433.0 414.4L432.4 414.2L431.7 414.0L431.1 413.9L430.4 413.7L429.8 413.5L429.1 413.4L428.5 413.2L427.8 413.1L427.2 412.9L426.6 412.8L425.9 412.6L425.3 412.5L424.7 412.4L424.0 412.2L423.4 412.1L422.8 412.0L422.2 411.8L421.5 411.7L420.9 411.6L420.3 411.5L419.7 411.4L419.1 411.3L418.5 411.2L417.9 411.0L417.3 410.9L416.7 410.8L416.1 410.7L415.5 410.6L414.9 410.5L414.3 410.4L413.7 410.3L413.1 410.3L412.5 410.2L411.9 410.1L411.3 410.0L410.7 409.9L410.2 409.8L409.6 409.7L409.0 409.7L408.4 409.6L407.9 409.5L407.3 409.4L406.7 409.4L406.2 409.3L405.6 409.2L405.1 409.2L404.5 409.1L404.0 409.0L403.4 409.0L402.9 408.9L402.3 408.8L401.8 408.8L401.2 408.7L400.7 408.7L400.2 408.6L399.6 408.6L399.1 408.5L398.6 408.5L398.0 408.4L397.5 408.4L397.0 408.3L396.5 408.3L395.9 408.2L395.4 408.2L394.9 408.1L394.4 408.1L393.9 408.0L393.4 408.0L392.9 408.0L392.3 407.9L391.8 407.9L391.3 407.8L390.8 407.8L390.3 407.8L389.8 407.7L389.4 407.7L388.9 407.7L388.4 407.6L387.9 407.6L387.4 407.6L386.9 407.5L386.4 407.5L385.9 407.5L385.5 407.4L385.0 407.4L384.5 407.4L384.0 407.4L383.6 407.3L383.1 407.3L382.6 407.3L382.2 407.3L381.7 407.2L381.2 407.2L380.8 407.2L380.3 407.2L379.8 407.1L379.4 407.1L378.9 407.1L378.5 407.1L378.0 407.1L377.6 407.0L377.1 407.0L376.7 407.0L376.2 407.0L375.8 407.0L375.3 406.9L374.9 406.9L374.4 406.9L374.0 406.9L373.6 406.9L373.1 406.8L372.7 406.8L372.2 406.8L371.8 406.8L371.4 406.8L370.9 406.8L370.5 406.8L370.1 406.7L369.6 406.7L369.2 406.7L368.8 406.7L368.4 406.7L367.9 406.7L367.5 406.7L367.1 406.7L366.7 406.6L366.3 406.6L365.8 406.6L365.4 406.6L365.0 406.6L364.6 406.6L364.2 406.6L363.8 406.6L363.3 406.6L362.9 406.5L362.5 406.5L362.1 406.5L361.7 406.5L361.3 406.5L360.9 406.5L360.5 406.5L360.1 406.5L359.6 406.5L359.2 406.5L358.8 406.5L358.4 406.5L358.0 406.5L357.6 406.4L357.2 406.4L356.8 406.4L356.4 406.4L356.0 406.4L355.6 406.4L355.2 406.4L354.8 406.4L354.4 406.4L354.0 406.4L353.6 406.4L353.2 406.4L352.8 406.4L352.4 406.4L352.0 406.4L351.6 406.4L351.3 406.4L350.9 406.4L350.5 406.4L350.1 406.4L349.7 406.3L349.3 406.3L348.9 406.3L348.5 406.3L348.1 406.3L347.7 406.3L347.3 406.3L346.9 406.3L346.5 406.3L346.1 406.3L345.8 406.3L345.4 406.3L345.0 406.3L344.6 406.3L344.2 406.3L343.8 406.3L343.4 406.3L343.0 406.3L342.6 406.3L342.3 406.3L341.9 406.3L341.5 406.3L341.1 406.3L340.7 406.3L340.3 406.3L339.9 406.3L339.5 406.3L339.1 406.3L338.7 406.3L338.4 406.3L338.0 406.3L337.6 406.3L337.2 406.3L336.8 406.3L336.4 406.3L336.0 406.3L335.6 406.3L335.2 406.3L334.9 406.3L334.5 406.3L334.1 406.3L333.7 406.3L333.3 406.3L332.9 406.3L332.5 406.3L332.1 406.3L331.7 406.3L331.3 406.3L330.9 406.4L330.5 406.4L330.1 406.4L329.7 406.4L329.4 406.4L329.0 406.4L328.6 406.4L328.2 406.4L327.8 406.4L327.4 406.4L327.0 406.4L326.6 406.4L326.2 406.4L325.8 406.4L325.4 406.4L325.0 406.4L324.6 406.4L324.2 406.4L323.8 406.4L323.4 406.4L323.0 406.5L322.6 406.5L322.2 406.5L321.8 406.5L321.4 406.5L320.9 406.5L320.5 406.5L320.1 406.5L319.7 406.5L319.3 406.5L318.9 406.5L318.5 406.5L318.1 406.5L317.7 406.6L317.2 406.6L316.8 406.6L316.4 406.6L316.0 406.6L315.6 406.6L315.2 406.6L314.7 406.6L314.3 406.6L313.9 406.7L313.5 406.7L313.1 406.7L312.6 406.7L312.2 406.7L311.8 406.7L311.4 406.7L310.9 406.7L310.5 406.8L310.1 406.8L309.6 406.8L309.2 406.8L308.8 406.8L308.3 406.8L307.9 406.8L307.4 406.9L307.0 406.9L306.6 406.9L306.1 406.9L305.7 406.9L305.2 407.0L304.8 407.0L304.3 407.0L303.9 407.0L303.4 407.0L303.0 407.1L302.5 407.1L302.1 407.1L301.6 407.1L301.2 407.1L300.7 407.2L300.2 407.2L299.8 407.2L299.3 407.2L298.8 407.3L298.4 407.3L297.9 407.3L297.4 407.3L297.0 407.4L296.5 407.4L296.0 407.4L295.5 407.4L295.1 407.5L294.6 407.5L294.1 407.5L293.6 407.6L293.1 407.6L292.6 407.6L292.1 407.7L291.6 407.7L291.2 407.7L290.7 407.8L290.2 407.8L289.7 407.8L289.2 407.9L288.7 407.9L288.1 408.0L287.6 408.0L287.1 408.0L286.6 408.1L286.1 408.1L285.6 408.2L285.1 408.2L284.5 408.3L284.0 408.3L283.5 408.4L283.0 408.4L282.4 408.5L281.9 408.5L281.4 408.6L280.8 408.6L280.3 408.7L279.8 408.7L279.2 408.8L278.7 408.8L278.1 408.9L277.6 409.0L277.0 409.0L276.5 409.1L275.9 409.2L275.4 409.2L274.8 409.3L274.3 409.4L273.7 409.4L273.1 409.5L272.6 409.6L272.0 409.7L271.4 409.7L270.8 409.8L270.3 409.9L269.7 410.0L269.1 410.1L268.5 410.2L267.9 410.3L267.3 410.3L266.7 410.4L266.1 410.5L265.5 410.6L264.9 410.7L264.3 410.8L263.7 410.9L263.1 411.0L262.5 411.2L261.9 411.3L261.3 411.4L260.7 411.5L260.1 411.6L259.5 411.7L258.8 411.8L258.2 412.0L257.6 412.1L257.0 412.2L256.3 412.4L255.7 412.5L255.1 412.6L254.4 412.8L253.8 412.9L253.2 413.1L252.5 413.2L251.9 413.4L251.2 413.5L250.6 413.7L249.9 413.9L249.3 414.0L248.6 414.2L248.0 414.4L247.3 414.5L246.7 414.7L246.0 414.9L245.4 415.1L244.7 415.3L244.0 415.5L243.4 415.7L242.7 415.9L242.0 416.1L241.4 416.3L240.7 416.5L240.0 416.7L239.4 416.9L238.7 417.1L238.0 417.3L237.3 417.6L236.7 417.8L236.0 418.0L235.3 418.3L234.6 418.5L233.9 418.8L233.2 419.0L232.6 419.3L231.9 419.5L231.2 419.8L230.5 420.1L229.8 420.3L229.1 420.6L228.4 420.9L227.7 421.2L227.0 421.5L226.3 421.8L225.6 422.1L224.9 422.4L224.2 422.7L223.5 423.0L222.8 423.3L222.1 423.6L221.4 423.9L220.7 424.2L220.0 424.6L219.3 424.9L218.6 425.2L217.9 425.6L217.2 425.9L216.5 426.3L215.8 426.6L215.0 427.0L214.3 427.3L213.6 427.7L212.9 428.1L212.2 428.4L211.4 428.8L210.7 429.2L210.0 429.6L209.2 430.0L208.5 430.4L207.8 430.8L207.0 431.2L206.3 431.6L205.5 432.0L204.8 432.4L204.0 432.8L203.3 433.2L202.5 433.7L201.8 434.1L201.0 434.5L200.3 435.0L199.5 435.4L198.7 435.9L198.0 436.3L197.2 436.8L196.4 437.2L195.6 437.7L194.8 438.1L194.0 438.6L193.2 439.1L192.4 439.6L191.6 440.1L190.8 440.5L190.0 441.0L189.2 441.5L188.4 442.0L187.5 442.5L186.7 443.1L185.9 443.6L185.0 444.1L184.2 444.6L183.3 445.1L182.4 445.7L181.6 446.2L180.7 446.8L179.8 447.3L178.9 447.9L178.0 448.4L177.1 449.0L176.2 449.5L175.3 450.1L174.4 450.7L173.5 451.3L172.5 451.9L171.6 452.5L170.6 453.1L169.7 453.7L168.7 454.3L167.7 454.9L166.8 455.5L165.8 456.2L164.8 456.8L163.8 457.4L162.8 458.1L161.8 458.8L160.7 459.4L159.7 460.1L158.7 460.8L157.6 461.5L156.6 462.2L155.5 462.9L154.5 463.6L153.4 464.3L152.3 465.0L151.3 465.7L150.2 466.5L149.1 467.2L148.1 468.0L147.0 468.8L145.9 469.6L144.9 470.3L143.8 471.1L142.8 472.0L141.8 472.8L140.7 473.6L139.7 474.4L138.8 475.3L137.8 476.2L136.9 477.0L136.0 477.9L135.1 478.8L134.3 479.7L133.5 480.6L132.8 481.5L132.1 482.4L131.5 483.4L130.9 484.3L130.4 485.3L129.9 486.2L129.5 487.2L129.2 488.2L129.0 489.1L128.9 490.1L128.8 491.1L128.8 492.0L128.9 493.0L129.0 494.0L129.3 494.9L129.6 495.9L130.0 496.9L130.4 497.8" stroke="#3f0090" stroke-width="2.1" fill="none"/><path d="M550.6 497.8L551.0 496.9L551.4 495.9L551.7 494.9L552.0 494.0L552.1 493.0L552.2 492.0L552.2 491.1L552.2 490.1L552.1 489.1L551.9 488.1L551.6 487.1L551.2 486.2L550.8 485.2L550.3 484.2L549.8 483.2L549.2 482.3L548.5 481.3L547.8 480.4L547.0 479.4L546.2 478.5L545.3 477.6L544.5 476.7L543.5 475.8L542.6 474.9L541.6 474.0L540.6 473.2L539.6 472.3L538.6 471.5L537.5 470.7L536.5 469.9L535.4 469.1L534.4 468.3L533.3 467.5L532.2 466.7L531.1 466.0L530.1 465.2L529.0 464.5L527.9 463.8L526.9 463.0L525.8 462.3L524.8 461.6L523.7 460.9L522.7 460.2L521.6 459.6L520.6 458.9L519.6 458.2L518.6 457.6L517.6 456.9L516.6 456.3L515.6 455.6L514.6 455.0L513.6 454.4L512.6 453.7L511.7 453.1L510.7 452.5L509.8 451.9L508.8 451.3L507.9 450.7L507.0 450.1L506.0 449.6L505.1 449.0L504.2 448.4L503.3 447.8L502.4 447.3L501.5 446.7L500.7 446.2L499.8 445.6L498.9 445.1L498.1 444.6L497.2 444.0L496.3 443.5L495.5 443.0L494.7 442.5L493.8 442.0L493.0 441.5L492.2 441.0L491.4 440.5L490.5 440.0L489.7 439.5L488.9 439.0L488.1 438.5L487.3 438.0L486.5 437.6L485.7 437.1L485.0 436.6L484.2 436.2L483.4 435.7L482.6 435.3L481.8 434.8L481.1 434.4L480.3 433.9L479.6 433.5L478.8 433.1L478.0 432.6L477.3 432.2L476.5 431.8L475.8 431.4L475.0 431.0L474.3 430.6L473.6 430.2L472.8 429.8L472.1 429.4L471.4 429.0L470.6 428.6L469.9 428.2L469.2 427.8L468.4 427.5L467.7 427.1L467.0 426.7L466.3 426.4L465.6 426.0L464.8 425.6L464.1 425.3L463.4 424.9L462.7 424.6L462.0 424.3L461.3 423.9L460.6 423.6L459.9 423.3L459.2 423.0L458.4 422.6L457.7 422.3L457.0 422.0L456.3 421.7L455.6 421.4L454.9 421.1L454.2 420.8L453.5 420.5L452.8 420.3L452.1 420.0L451.4 419.7L450.8 419.4L450.1 419.2L449.4 418.9L448.7 418.7L448.0 418.4L447.3 418.2L446.6 417.9L445.9 417.7L445.2 417.4L444.6 417.2L443.9 417.0L443.2 416.7L442.5 416.5L441.8 416.3L441.2 416.1L440.5 415.9L439.8 415.7L439.1 415.5L438.5 415.3L437.8 415.1L437.1 414.9L436.5 414.7L435.8 414.5L435.1 414.3L434.5 414.1L433.8 414.0L433.2 413.8L432.5 413.6L431.9 413.4L431.2 413.3L430.6 413.1L429.9 412.9L429.3 412.8L428.6 412.6L428.0 412.5L427.3 412.3L426.7 412.1L426.1 412.0L425.4 411.8L424.8 411.7L424.2 411.5L423.6 411.4L422.9 411.3L422.3 411.1L421.7 411.0L421.1 410.8L420.5 410.7L419.8 410.6L419.2 410.4L418.6 410.3L418.0 410.2L417.4 410.1L416.8 409.9L416.2 409.8L415.6 409.7L415.0 409.6L414.4 409.4L413.8 409.3L413.2 409.2L412.7 409.1L412.1 409.0L411.5 408.9L410.9 408.8L410.3 408.7L409.8 408.6L409.2 408.5L408.6 408.4L408.0 408.3L407.5 408.2L406.9 408.1L406.4 408.0L405.8 407.9L405.2 407.8L404.7 407.7L404.1 407.6L403.6 407.5L403.0 407.4L402.5 407.3L401.9 407.2L401.4 407.1L400.9 407.0L400.3 406.9L399.8 406.8L399.3 406.7L398.7 406.6L398.2 406.5L397.7 406.5L397.2 406.4L396.6 406.3L396.1 406.2L395.6 406.1L395.1 406.0L394.6 405.9L394.1 405.8L393.5 405.8L393.0 405.7L392.5 405.6L392.0 405.5L391.5 405.4L391.0 405.4L390.5 405.3L390.0 405.2L389.5 405.1L389.0 405.1L388.5 405.0L388.1 404.9L387.6 404.8L387.1 404.7L386.6 404.7L386.1 404.6L385.6 404.5L385.2 404.4L384.7 404.4L384.2 404.3L383.7 404.2L383.3 404.1L382.8 404.1L382.3 404.0L381.9 403.9L381.4 403.9L380.9 403.8L380.5 403.7L380.0 403.6L379.6 403.6L379.1 403.5L378.6 403.4L378.2 403.3L377.7 403.3L377.3 403.2L376.8 403.1L376.4 403.1L375.9 403.0L375.5 402.9L375.0 402.9L374.6 402.8L374.2 402.8L373.7 402.7L373.3 402.6L372.8 402.6L372.4 402.5L372.0 402.5L371.5 402.4L371.1 402.3L370.7 402.3L370.2 402.2L369.8 402.2L369.4 402.1L368.9 402.1L368.5 402.0L368.1 402.0L367.7 401.9L367.2 401.9L366.8 401.9L366.4 401.8L366.0 401.8L365.5 401.7L365.1 401.7L364.7 401.7L364.3 401.6L363.9 401.6L363.5 401.6L363.0 401.5L362.6 401.5L362.2 401.5L361.8 401.4L361.4 401.4L361.0 401.4L360.6 401.3L360.2 401.3L359.7 401.3L359.3 401.3L358.9 401.2L358.5 401.2L358.1 401.2L357.7 401.2L357.3 401.1L356.9 401.1L356.5 401.1L356.1 401.1L355.7 401.0L355.3 401.0L354.9 401.0L354.5 401.0L354.1 400.9L353.7 400.9L353.3 400.9L352.9 400.9L352.5 400.9L352.1 400.9L351.7 400.8L351.3 400.8L350.9 400.8L350.5 400.8L350.1 400.8L349.7 400.8L349.3 400.7L348.9 400.7L348.5 400.7L348.1 400.7L347.8 400.7L347.4 400.7L347.0 400.6L346.6 400.6L346.2 400.6L345.8 400.6L345.4 400.6L345.0 400.6L344.6 400.6L344.2 400.6L343.8 400.5L343.4 400.5L343.0 400.5L342.7 400.5L342.3 400.5L341.9 400.5L341.5 400.5L341.1 400.5L340.7 400.5L340.3 400.5L339.9 400.5L339.5 400.5L339.1 400.5L338.7 400.5L338.3 400.5L338.0 400.5L337.6 400.5L337.2 400.6L336.8 400.6L336.4 400.6L336.0 400.6L335.6 400.6L335.2 400.6L334.8 400.6L334.4 400.6L334.0 400.6L333.6 400.7L333.2 400.7L332.9 400.7L332.5 400.7L332.1 400.7L331.7 400.7L331.3 400.8L330.9 400.8L330.5 400.8L330.1 400.8L329.7 400.8L329.3 400.8L328.9 400.9L328.5 400.9L328.1 400.9L327.7 400.9L327.3 400.9L326.9 400.9L326.5 401.0L326.1 401.0L325.7 401.0L325.3 401.0L324.9 401.1L324.5 401.1L324.1 401.1L323.7 401.1L323.3 401.2L322.9 401.2L322.5 401.2L322.1 401.2L321.7 401.3L321.3 401.3L320.8 401.3L320.4 401.3L320.0 401.4L319.6 401.4L319.2 401.4L318.8 401.5L318.4 401.5L318.0 401.5L317.5 401.6L317.1 401.6L316.7 401.6L316.3 401.7L315.9 401.7L315.5 401.7L315.0 401.8L314.6 401.8L314.2 401.9L313.8 401.9L313.3 401.9L312.9 402.0L312.5 402.0L312.1 402.1L311.6 402.1L311.2 402.2L310.8 402.2L310.3 402.3L309.9 402.3L309.5 402.4L309.0 402.5L308.6 402.5L308.2 402.6L307.7 402.6L307.3 402.7L306.8 402.8L306.4 402.8L306.0 402.9L305.5 402.9L305.1 403.0L304.6 403.1L304.2 403.1L303.7 403.2L303.3 403.3L302.8 403.3L302.4 403.4L301.9 403.5L301.4 403.6L301.0 403.6L300.5 403.7L300.1 403.8L299.6 403.9L299.1 403.9L298.7 404.0L298.2 404.1L297.7 404.1L297.3 404.2L296.8 404.3L296.3 404.4L295.8 404.4L295.4 404.5L294.9 404.6L294.4 404.7L293.9 404.7L293.4 404.8L292.9 404.9L292.5 405.0L292.0 405.1L291.5 405.1L291.0 405.2L290.5 405.3L290.0 405.4L289.5 405.4L289.0 405.5L288.5 405.6L288.0 405.7L287.5 405.8L286.9 405.8L286.4 405.9L285.9 406.0L285.4 406.1L284.9 406.2L284.4 406.3L283.8 406.4L283.3 406.5L282.8 406.5L282.3 406.6L281.7 406.7L281.2 406.8L280.7 406.9L280.1 407.0L279.6 407.1L279.1 407.2L278.5 407.3L278.0 407.4L277.4 407.5L276.9 407.6L276.3 407.7L275.8 407.8L275.2 407.9L274.6 408.0L274.1 408.1L273.5 408.2L273.0 408.3L272.4 408.4L271.8 408.5L271.2 408.6L270.7 408.7L270.1 408.8L269.5 408.9L268.9 409.0L268.3 409.1L267.8 409.2L267.2 409.3L266.6 409.4L266.0 409.6L265.4 409.7L264.8 409.8L264.2 409.9L263.6 410.1L263.0 410.2L262.4 410.3L261.8 410.4L261.2 410.6L260.5 410.7L259.9 410.8L259.3 411.0L258.7 411.1L258.1 411.3L257.4 411.4L256.8 411.5L256.2 411.7L255.6 411.8L254.9 412.0L254.3 412.1L253.7 412.3L253.0 412.5L252.4 412.6L251.7 412.8L251.1 412.9L250.4 413.1L249.8 413.3L249.1 413.4L248.5 413.6L247.8 413.8L247.2 414.0L246.5 414.1L245.9 414.3L245.2 414.5L244.5 414.7L243.9 414.9L243.2 415.1L242.5 415.3L241.9 415.5L241.2 415.7L240.5 415.9L239.8 416.1L239.2 416.3L238.5 416.5L237.8 416.7L237.1 417.0L236.4 417.2L235.8 417.4L235.1 417.7L234.4 417.9L233.7 418.2L233.0 418.4L232.3 418.7L231.6 418.9L230.9 419.2L230.2 419.4L229.6 419.7L228.9 420.0L228.2 420.3L227.5 420.5L226.8 420.8L226.1 421.1L225.4 421.4L224.7 421.7L224.0 422.0L223.3 422.3L222.6 422.6L221.8 423.0L221.1 423.3L220.4 423.6L219.7 423.9L219.0 424.3L218.3 424.6L217.6 424.9L216.9 425.3L216.2 425.6L215.4 426.0L214.7 426.4L214.0 426.7L213.3 427.1L212.6 427.5L211.8 427.8L211.1 428.2L210.4 428.6L209.6 429.0L208.9 429.4L208.2 429.8L207.4 430.2L206.7 430.6L206.0 431.0L205.2 431.4L204.5 431.8L203.7 432.2L203.0 432.6L202.2 433.1L201.4 433.5L200.7 433.9L199.9 434.4L199.2 434.8L198.4 435.3L197.6 435.7L196.8 436.2L196.0 436.6L195.3 437.1L194.5 437.6L193.7 438.0L192.9 438.5L192.1 439.0L191.3 439.5L190.5 440.0L189.6 440.5L188.8 441.0L188.0 441.5L187.2 442.0L186.3 442.5L185.5 443.0L184.7 443.5L183.8 444.0L182.9 444.6L182.1 445.1L181.2 445.6L180.3 446.2L179.5 446.7L178.6 447.3L177.7 447.8L176.8 448.4L175.9 449.0L175.0 449.6L174.0 450.1L173.1 450.7L172.2 451.3L171.2 451.9L170.3 452.5L169.3 453.1L168.4 453.7L167.4 454.4L166.4 455.0L165.4 455.6L164.4 456.3L163.4 456.9L162.4 457.6L161.4 458.2L160.4 458.9L159.4 459.6L158.3 460.2L157.3 460.9L156.2 461.6L155.2 462.3L154.1 463.0L153.1 463.8L152.0 464.5L150.9 465.2L149.9 466.0L148.8 466.7L147.7 467.5L146.6 468.3L145.6 469.1L144.5 469.9L143.5 470.7L142.4 471.5L141.4 472.3L140.4 473.2L139.4 474.0L138.4 474.9L137.5 475.8L136.5 476.7L135.7 477.6L134.8 478.5L134.0 479.4L133.2 480.4L132.5 481.3L131.8 482.3L131.2 483.2L130.7 484.2L130.2 485.2L129.8 486.2L129.4 487.1L129.1 488.1L128.9 489.1L128.8 490.1L128.8 491.1L128.8 492.0L128.9 493.0L129.0 494.0L129.3 494.9L129.6 495.9L130.0 496.9L130.4 497.8" stroke="#0a50a0" stroke-width="2.1" fill="none" stroke-dasharray="7.9 4.0"/><path d="M550.6 497.8L551.0 496.9L551.4 495.9L551.7 494.9L552.0 494.0L552.1 493.0L552.2 492.0L552.2 491.1L552.1 490.1L552.0 489.1L551.8 488.2L551.5 487.2L551.1 486.2L550.6 485.3L550.1 484.3L549.5 483.4L548.9 482.4L548.2 481.5L547.5 480.6L546.7 479.7L545.9 478.8L545.0 477.9L544.1 477.0L543.2 476.2L542.2 475.3L541.3 474.4L540.3 473.6L539.2 472.8L538.2 472.0L537.2 471.1L536.1 470.3L535.1 469.6L534.0 468.8L532.9 468.0L531.9 467.2L530.8 466.5L529.7 465.7L528.7 465.0L527.6 464.3L526.5 463.6L525.5 462.9L524.4 462.2L523.4 461.5L522.3 460.8L521.3 460.1L520.3 459.4L519.2 458.8L518.2 458.1L517.2 457.4L516.2 456.8L515.2 456.2L514.2 455.5L513.3 454.9L512.3 454.3L511.3 453.7L510.4 453.1L509.4 452.5L508.5 451.9L507.5 451.3L506.6 450.7L505.7 450.1L504.8 449.5L503.9 449.0L503.0 448.4L502.1 447.9L501.2 447.3L500.3 446.8L499.4 446.2L498.6 445.7L497.7 445.1L496.8 444.6L496.0 444.1L495.1 443.6L494.3 443.1L493.5 442.5L492.6 442.0L491.8 441.5L491.0 441.0L490.2 440.5L489.4 440.1L488.6 439.6L487.8 439.1L487.0 438.6L486.2 438.1L485.4 437.7L484.6 437.2L483.8 436.8L483.0 436.3L482.3 435.9L481.5 435.4L480.7 435.0L480.0 434.5L479.2 434.1L478.5 433.7L477.7 433.2L477.0 432.8L476.2 432.4L475.5 432.0L474.7 431.6L474.0 431.2L473.2 430.8L472.5 430.4L471.8 430.0L471.0 429.6L470.3 429.2L469.6 428.8L468.8 428.4L468.1 428.1L467.4 427.7L466.7 427.3L466.0 427.0L465.2 426.6L464.5 426.3L463.8 425.9L463.1 425.6L462.4 425.2L461.7 424.9L461.0 424.6L460.3 424.2L459.6 423.9L458.9 423.6L458.2 423.3L457.5 423.0L456.8 422.7L456.1 422.4L455.4 422.1L454.7 421.8L454.0 421.5L453.3 421.2L452.6 420.9L451.9 420.6L451.2 420.3L450.5 420.1L449.8 419.8L449.1 419.5L448.4 419.3L447.8 419.0L447.1 418.8L446.4 418.5L445.7 418.3L445.0 418.0L444.3 417.8L443.7 417.6L443.0 417.3L442.3 417.1L441.6 416.9L441.0 416.7L440.3 416.5L439.6 416.3L439.0 416.1L438.3 415.9L437.6 415.7L437.0 415.5L436.3 415.3L435.6 415.1L435.0 414.9L434.3 414.7L433.7 414.5L433.0 414.4L432.4 414.2L431.7 414.0L431.1 413.9L430.4 413.7L429.8 413.5L429.1 413.4L428.5 413.2L427.8 413.1L427.2 412.9L426.6 412.8L425.9 412.6L425.3 412.5L424.7 412.4L424.0 412.2L423.4 412.1L422.8 412.0L422.2 411.8L421.5 411.7L420.9 411.6L420.3 411.5L419.7 411.4L419.1 411.3L418.5 411.2L417.9 411.0L417.3 410.9L416.7 410.8L416.1 410.7L415.5 410.6L414.9 410.5L414.3 410.4L413.7 410.3L413.1 410.3L412.5 410.2L411.9 410.1L411.3 410.0L410.7 409.9L410.2 409.8L409.6 409.7L409.0 409.7L408.4 409.6L407.9 409.5L407.3 409.4L406.7 409.4L406.2 409.3L405.6 409.2L405.1 409.2L404.5 409.1L404.0 409.0L403.4 409.0L402.9 408.9L402.3 408.8L401.8 408.8L401.2 408.7L400.7 408.7L400.2 408.6L399.6 408.6L399.1 408.5L398.6 408.5L398.0 408.4L397.5 408.4L397.0 408.3L396.5 408.3L395.9 408.2L395.4 408.2L394.9 408.1L394.4 408.1L393.9 408.0L393.4 408.0L392.9 408.0L392.3 407.9L391.8 407.9L391.3 407.8L390.8 407.8L390.3 407.8L389.8 407.7L389.4 407.7L388.9 407.7L388.4 407.6L387.9 407.6L387.4 407.6L386.9 407.5L386.4 407.5L385.9 407.5L385.5 407.4L385.0 407.4L384.5 407.4L384.0 407.4L383.6 407.3L383.1 407.3L382.6 407.3L382.2 407.3L381.7 407.2L381.2 407.2L380.8 407.2L380.3 407.2L379.8 407.1L379.4 407.1L378.9 407.1L378.5 407.1L378.0 407.1L377.6 407.0L377.1 407.0L376.7 407.0L376.2 407.0L375.8 407.0L375.3 406.9L374.9 406.9L374.4 406.9L374.0 406.9L373.6 406.9L373.1 406.8L372.7 406.8L372.2 406.8L371.8 406.8L371.4 406.8L370.9 406.8L370.5 406.8L370.1 406.7L369.6 406.7L369.2 406.7L368.8 406.7L368.4 406.7L367.9 406.7L367.5 406.7L367.1 406.7L366.7 406.6L366.3 406.6L365.8 406.6L365.4 406.6L365.0 406.6L364.6 406.6L364.2 406.6L363.8 406.6L363.3 406.6L362.9 406.5L362.5 406.5L362.1 406.5L361.7 406.5L361.3 406.5L360.9 406.5L360.5 406.5L360.1 406.5L359.6 406.5L359.2 406.5L358.8 406.5L358.4 406.5L358.0 406.5L357.6 406.4L357.2 406.4L356.8 406.4L356.4 406.4L356.0 406.4L355.6 406.4L355.2 406.4L354.8 406.4L354.4 406.4L354.0 406.4L353.6 406.4L353.2 406.4L352.8 406.4L352.4 406.4L352.0 406.4L351.6 406.4L351.3 406.4L350.9 406.4L350.5 406.4L350.1 406.4L349.7 406.3L349.3 406.3L348.9 406.3L348.5 406.3L348.1 406.3L347.7 406.3L347.3 406.3L346.9 406.3L346.5 406.3L346.1 406.3L345.8 406.3L345.4 406.3L345.0 406.3L344.6 406.3L344.2 406.3L343.8 406.3L343.4 406.3L343.0 406.3L342.6 406.3L342.3 406.3L341.9 406.3L341.5 406.3L341.1 406.3L340.7 406.3L340.3 406.3L339.9 406.3L339.5 406.3L339.1 406.3L338.7 406.3L338.4 406.3L338.0 406.3L337.6 406.3L337.2 406.3L336.8 406.3L336.4 406.3L336.0 406.3L335.6 406.3L335.2 406.3L334.9 406.3L334.5 406.3L334.1 406.3L333.7 406.3L333.3 406.3L332.9 406.3L332.5 406.3L332.1 406.3L331.7 406.3L331.3 406.3L330.9 406.4L330.5 406.4L330.1 406.4L329.7 406.4L329.4 406.4L329.0 406.4L328.6 406.4L328.2 406.4L327.8 406.4L327.4 406.4L327.0 406.4L326.6 406.4L326.2 406.4L325.8 406.4L325.4 406.4L325.0 406.4L324.6 406.4L324.2 406.4L323.8 406.4L323.4 406.4L323.0 406.5L322.6 406.5L322.2 406.5L321.8 406.5L321.4 406.5L320.9 406.5L320.5 406.5L320.1 406.5L319.7 406.5L319.3 406.5L318.9 406.5L318.5 406.5L318.1 406.5L317.7 406.6L317.2 406.6L316.8 406.6L316.4 406.6L316.0 406.6L315.6 406.6L315.2 406.6L314.7 406.6L314.3 406.6L313.9 406.7L313.5 406.7L313.1 406.7L312.6 406.7L312.2 406.7L311.8 406.7L311.4 406.7L310.9 406.7L310.5 406.8L310.1 406.8L309.6 406.8L309.2 406.8L308.8 406.8L308.3 406.8L307.9 406.8L307.4 406.9L307.0 406.9L306.6 406.9L306.1 406.9L305.7 406.9L305.2 407.0L304.8 407.0L304.3 407.0L303.9 407.0L303.4 407.0L303.0 407.1L302.5 407.1L302.1 407.1L301.6 407.1L301.2 407.1L300.7 407.2L300.2 407.2L299.8 407.2L299.3 407.2L298.8 407.3L298.4 407.3L297.9 407.3L297.4 407.3L297.0 407.4L296.5 407.4L296.0 407.4L295.5 407.4L295.1 407.5L294.6 407.5L294.1 407.5L293.6 407.6L293.1 407.6L292.6 407.6L292.1 407.7L291.6 407.7L291.2 407.7L290.7 407.8L290.2 407.8L289.7 407.8L289.2 407.9L288.7 407.9L288.1 408.0L287.6 408.0L287.1 408.0L286.6 408.1L286.1 408.1L285.6 408.2L285.1 408.2L284.5 408.3L284.0 408.3L283.5 408.4L283.0 408.4L282.4 408.5L281.9 408.5L281.4 408.6L280.8 408.6L280.3 408.7L279.8 408.7L279.2 408.8L278.7 408.8L278.1 408.9L277.6 409.0L277.0 409.0L276.5 409.1L275.9 409.2L275.4 409.2L274.8 409.3L274.3 409.4L273.7 409.4L273.1 409.5L272.6 409.6L272.0 409.7L271.4 409.7L270.8 409.8L270.3 409.9L269.7 410.0L269.1 410.1L268.5 410.2L267.9 410.3L267.3 410.3L266.7 410.4L266.1 410.5L265.5 410.6L264.9 410.7L264.3 410.8L263.7 410.9L263.1 411.0L262.5 411.2L261.9 411.3L261.3 411.4L260.7 411.5L260.1 411.6L259.5 411.7L258.8 411.8L258.2 412.0L257.6 412.1L257.0 412.2L256.3 412.4L255.7 412.5L255.1 412.6L254.4 412.8L253.8 412.9L253.2 413.1L252.5 413.2L251.9 413.4L251.2 413.5L250.6 413.7L249.9 413.9L249.3 414.0L248.6 414.2L248.0 414.4L247.3 414.5L246.7 414.7L246.0 414.9L245.4 415.1L244.7 415.3L244.0 415.5L243.4 415.7L242.7 415.9L242.0 416.1L241.4 416.3L240.7 416.5L240.0 416.7L239.4 416.9L238.7 417.1L238.0 417.3L237.3 417.6L236.7 417.8L236.0 418.0L235.3 418.3L234.6 418.5L233.9 418.8L233.2 419.0L232.6 419.3L231.9 419.5L231.2 419.8L230.5 420.1L229.8 420.3L229.1 420.6L228.4 420.9L227.7 421.2L227.0 421.5L226.3 421.8L225.6 422.1L224.9 422.4L224.2 422.7L223.5 423.0L222.8 423.3L222.1 423.6L221.4 423.9L220.7 424.2L220.0 424.6L219.3 424.9L218.6 425.2L217.9 425.6L217.2 425.9L216.5 426.3L215.8 426.6L215.0 427.0L214.3 427.3L213.6 427.7L212.9 428.1L212.2 428.4L211.4 428.8L210.7 429.2L210.0 429.6L209.2 430.0L208.5 430.4L207.8 430.8L207.0 431.2L206.3 431.6L205.5 432.0L204.8 432.4L204.0 432.8L203.3 433.2L202.5 433.7L201.8 434.1L201.0 434.5L200.3 435.0L199.5 435.4L198.7 435.9L198.0 436.3L197.2 436.8L196.4 437.2L195.6 437.7L194.8 438.1L194.0 438.6L193.2 439.1L192.4 439.6L191.6 440.1L190.8 440.5L190.0 441.0L189.2 441.5L188.4 442.0L187.5 442.5L186.7 443.1L185.9 443.6L185.0 444.1L184.2 444.6L183.3 445.1L182.4 445.7L181.6 446.2L180.7 446.8L179.8 447.3L178.9 447.9L178.0 448.4L177.1 449.0L176.2 449.5L175.3 450.1L174.4 450.7L173.5 451.3L172.5 451.9L171.6 452.5L170.6 453.1L169.7 453.7L168.7 454.3L167.7 454.9L166.8 455.5L165.8 456.2L164.8 456.8L163.8 457.4L162.8 458.1L161.8 458.8L160.7 459.4L159.7 460.1L158.7 460.8L157.6 461.5L156.6 462.2L155.5 462.9L154.5 463.6L153.4 464.3L152.3 465.0L151.3 465.7L150.2 466.5L149.1 467.2L148.1 468.0L147.0 468.8L145.9 469.6L144.9 470.3L143.8 471.1L142.8 472.0L141.8 472.8L140.7 473.6L139.7 474.4L138.8 475.3L137.8 476.2L136.9 477.0L136.0 477.9L135.1 478.8L134.3 479.7L133.5 480.6L132.8 481.5L132.1 482.4L131.5 483.4L130.9 484.3L130.4 485.3L129.9 486.2L129.5 487.2L129.2 488.2L129.0 489.1L128.9 490.1L128.8 491.1L128.8 492.0L128.9 493.0L129.0 494.0L129.3 494.9L129.6 495.9L130.0 496.9L130.4 497.8" stroke="#000000" stroke-width="2.1" fill="none" stroke-dasharray="2.1 3.9"/><path d="M511.7 496.7L512.0 495.9L512.3 495.1L512.5 494.3L512.7 493.5L512.8 492.7L512.9 491.9L512.9 491.1L512.8 490.4L512.7 489.6L512.5 488.8L512.3 488.0L512.1 487.2L511.8 486.4L511.4 485.6L511.0 484.9L510.6 484.1L510.1 483.4L509.6 482.6L509.0 481.9L508.4 481.1L507.8 480.4L507.2 479.7L506.5 478.9L505.8 478.2L505.1 477.5L504.4 476.8L503.7 476.1L502.9 475.4L502.1 474.8L501.4 474.1L500.6 473.4L499.8 472.8L499.0 472.1L498.2 471.5L497.4 470.9L496.6 470.3L495.8 469.6L495.0 469.0L494.2 468.4L493.4 467.8L492.6 467.2L491.8 466.6L491.0 466.1L490.2 465.5L489.4 464.9L488.6 464.4L487.9 463.8L487.1 463.3L486.3 462.7L485.5 462.2L484.8 461.6L484.0 461.1L483.3 460.6L482.5 460.1L481.8 459.5L481.0 459.0L480.3 458.5L479.6 458.0L478.8 457.5L478.1 457.0L477.4 456.5L476.7 456.0L476.0 455.6L475.3 455.1L474.6 454.6L473.9 454.1L473.2 453.7L472.5 453.2L471.8 452.8L471.2 452.3L470.5 451.9L469.8 451.4L469.2 451.0L468.5 450.5L467.8 450.1L467.2 449.7L466.5 449.2L465.9 448.8L465.2 448.4L464.6 448.0L464.0 447.6L463.3 447.2L462.7 446.8L462.1 446.3L461.4 445.9L460.8 445.6L460.2 445.2L459.6 444.8L458.9 444.4L458.3 444.0L457.7 443.6L457.1 443.3L456.5 442.9L455.9 442.5L455.2 442.2L454.6 441.8L454.0 441.4L453.4 441.1L452.8 440.7L452.2 440.4L451.6 440.0L451.0 439.7L450.4 439.4L449.8 439.0L449.2 438.7L448.6 438.4L448.0 438.1L447.4 437.7L446.8 437.4L446.3 437.1L445.7 436.8L445.1 436.5L444.5 436.2L443.9 435.9L443.3 435.6L442.7 435.3L442.1 435.0L441.5 434.8L440.9 434.5L440.4 434.2L439.8 433.9L439.2 433.7L438.6 433.4L438.0 433.2L437.4 432.9L436.8 432.7L436.2 432.4L435.7 432.2L435.1 431.9L434.5 431.7L433.9 431.5L433.3 431.2L432.7 431.0L432.1 430.8L431.6 430.6L431.0 430.4L430.4 430.2L429.8 429.9L429.2 429.7L428.7 429.5L428.1 429.4L427.5 429.2L426.9 429.0L426.3 428.8L425.8 428.6L425.2 428.4L424.6 428.3L424.1 428.1L423.5 427.9L422.9 427.8L422.3 427.6L421.8 427.4L421.2 427.3L420.6 427.1L420.1 427.0L419.5 426.8L418.9 426.7L418.4 426.6L417.8 426.4L417.3 426.3L416.7 426.2L416.2 426.0L415.6 425.9L415.0 425.8L414.5 425.7L413.9 425.5L413.4 425.4L412.9 425.3L412.3 425.2L411.8 425.1L411.2 425.0L410.7 424.9L410.1 424.8L409.6 424.7L409.1 424.6L408.5 424.5L408.0 424.4L407.5 424.3L407.0 424.2L406.4 424.2L405.9 424.1L405.4 424.0L404.9 423.9L404.4 423.8L403.9 423.8L403.3 423.7L402.8 423.6L402.3 423.6L401.8 423.5L401.3 423.4L400.8 423.4L400.3 423.3L399.8 423.2L399.3 423.2L398.8 423.1L398.4 423.0L397.9 423.0L397.4 422.9L396.9 422.9L396.4 422.8L395.9 422.8L395.5 422.7L395.0 422.7L394.5 422.6L394.0 422.6L393.6 422.5L393.1 422.5L392.6 422.5L392.2 422.4L391.7 422.4L391.3 422.3L390.8 422.3L390.3 422.3L389.9 422.2L389.4 422.2L389.0 422.1L388.5 422.1L388.1 422.1L387.7 422.0L387.2 422.0L386.8 422.0L386.3 421.9L385.9 421.9L385.5 421.9L385.0 421.9L384.6 421.8L384.2 421.8L383.8 421.8L383.3 421.8L382.9 421.7L382.5 421.7L382.1 421.7L381.6 421.7L381.2 421.6L380.8 421.6L380.4 421.6L380.0 421.6L379.6 421.5L379.2 421.5L378.8 421.5L378.4 421.5L378.0 421.5L377.6 421.4L377.2 421.4L376.8 421.4L376.4 421.4L376.0 421.4L375.6 421.4L375.2 421.3L374.8 421.3L374.4 421.3L374.0 421.3L373.6 421.3L373.3 421.3L372.9 421.2L372.5 421.2L372.1 421.2L371.7 421.2L371.3 421.2L371.0 421.2L370.6 421.2L370.2 421.2L369.8 421.1L369.5 421.1L369.1 421.1L368.7 421.1L368.4 421.1L368.0 421.1L367.6 421.1L367.3 421.1L366.9 421.1L366.5 421.0L366.2 421.0L365.8 421.0L365.5 421.0L365.1 421.0L364.7 421.0L364.4 421.0L364.0 421.0L363.7 421.0L363.3 421.0L363.0 421.0L362.6 421.0L362.3 420.9L361.9 420.9L361.6 420.9L361.2 420.9L360.9 420.9L360.5 420.9L360.2 420.9L359.8 420.9L359.5 420.9L359.1 420.9L358.8 420.9L358.5 420.9L358.1 420.9L357.8 420.9L357.4 420.9L357.1 420.9L356.8 420.9L356.4 420.9L356.1 420.8L355.7 420.8L355.4 420.8L355.1 420.8L354.7 420.8L354.4 420.8L354.1 420.8L353.7 420.8L353.4 420.8L353.1 420.8L352.7 420.8L352.4 420.8L352.1 420.8L351.7 420.8L351.4 420.8L351.1 420.8L350.7 420.8L350.4 420.8L350.1 420.8L349.8 420.8L349.4 420.8L349.1 420.8L348.8 420.8L348.4 420.8L348.1 420.8L347.8 420.8L347.5 420.8L347.1 420.8L346.8 420.8L346.5 420.8L346.2 420.8L345.8 420.8L345.5 420.8L345.2 420.8L344.9 420.8L344.5 420.8L344.2 420.8L343.9 420.8L343.6 420.8L343.2 420.8L342.9 420.8L342.6 420.8L342.3 420.7L342.0 420.7L341.6 420.7L341.3 420.7L341.0 420.7L340.7 420.7L340.3 420.7L340.0 420.7L339.7 420.7L339.4 420.7L339.0 420.7L338.7 420.7L338.4 420.8L338.1 420.8L337.8 420.8L337.4 420.8L337.1 420.8L336.8 420.8L336.5 420.8L336.1 420.8L335.8 420.8L335.5 420.8L335.2 420.8L334.8 420.8L334.5 420.8L334.2 420.8L333.9 420.8L333.5 420.8L333.2 420.8L332.9 420.8L332.6 420.8L332.2 420.8L331.9 420.8L331.6 420.8L331.2 420.8L330.9 420.8L330.6 420.8L330.3 420.8L329.9 420.8L329.6 420.8L329.3 420.8L328.9 420.8L328.6 420.8L328.3 420.8L327.9 420.8L327.6 420.8L327.3 420.8L326.9 420.8L326.6 420.8L326.3 420.8L325.9 420.8L325.6 420.8L325.3 420.8L324.9 420.8L324.6 420.9L324.2 420.9L323.9 420.9L323.6 420.9L323.2 420.9L322.9 420.9L322.5 420.9L322.2 420.9L321.9 420.9L321.5 420.9L321.2 420.9L320.8 420.9L320.5 420.9L320.1 420.9L319.8 420.9L319.4 420.9L319.1 420.9L318.7 420.9L318.4 421.0L318.0 421.0L317.7 421.0L317.3 421.0L317.0 421.0L316.6 421.0L316.3 421.0L315.9 421.0L315.5 421.0L315.2 421.0L314.8 421.0L314.5 421.0L314.1 421.1L313.7 421.1L313.4 421.1L313.0 421.1L312.6 421.1L312.3 421.1L311.9 421.1L311.5 421.1L311.2 421.1L310.8 421.2L310.4 421.2L310.0 421.2L309.7 421.2L309.3 421.2L308.9 421.2L308.5 421.2L308.1 421.2L307.7 421.3L307.4 421.3L307.0 421.3L306.6 421.3L306.2 421.3L305.8 421.3L305.4 421.4L305.0 421.4L304.6 421.4L304.2 421.4L303.8 421.4L303.4 421.4L303.0 421.5L302.6 421.5L302.2 421.5L301.8 421.5L301.4 421.5L301.0 421.6L300.6 421.6L300.2 421.6L299.8 421.6L299.4 421.7L298.9 421.7L298.5 421.7L298.1 421.7L297.7 421.8L297.2 421.8L296.8 421.8L296.4 421.8L296.0 421.9L295.5 421.9L295.1 421.9L294.7 421.9L294.2 422.0L293.8 422.0L293.3 422.0L292.9 422.1L292.5 422.1L292.0 422.1L291.6 422.2L291.1 422.2L290.7 422.3L290.2 422.3L289.7 422.3L289.3 422.4L288.8 422.4L288.4 422.5L287.9 422.5L287.4 422.5L287.0 422.6L286.5 422.6L286.0 422.7L285.5 422.7L285.1 422.8L284.6 422.8L284.1 422.9L283.6 422.9L283.1 423.0L282.6 423.0L282.2 423.1L281.7 423.2L281.2 423.2L280.7 423.3L280.2 423.4L279.7 423.4L279.2 423.5L278.7 423.6L278.2 423.6L277.7 423.7L277.1 423.8L276.6 423.8L276.1 423.9L275.6 424.0L275.1 424.1L274.6 424.2L274.0 424.2L273.5 424.3L273.0 424.4L272.5 424.5L271.9 424.6L271.4 424.7L270.9 424.8L270.3 424.9L269.8 425.0L269.2 425.1L268.7 425.2L268.1 425.3L267.6 425.4L267.1 425.5L266.5 425.7L266.0 425.8L265.4 425.9L264.8 426.0L264.3 426.2L263.7 426.3L263.2 426.4L262.6 426.6L262.1 426.7L261.5 426.8L260.9 427.0L260.4 427.1L259.8 427.3L259.2 427.4L258.7 427.6L258.1 427.8L257.5 427.9L256.9 428.1L256.4 428.3L255.8 428.4L255.2 428.6L254.7 428.8L254.1 429.0L253.5 429.2L252.9 429.4L252.3 429.5L251.8 429.7L251.2 429.9L250.6 430.2L250.0 430.4L249.4 430.6L248.9 430.8L248.3 431.0L247.7 431.2L247.1 431.5L246.5 431.7L245.9 431.9L245.3 432.2L244.8 432.4L244.2 432.7L243.6 432.9L243.0 433.2L242.4 433.4L241.8 433.7L241.2 433.9L240.6 434.2L240.1 434.5L239.5 434.8L238.9 435.0L238.3 435.3L237.7 435.6L237.1 435.9L236.5 436.2L235.9 436.5L235.3 436.8L234.7 437.1L234.2 437.4L233.6 437.7L233.0 438.1L232.4 438.4L231.8 438.7L231.2 439.0L230.6 439.4L230.0 439.7L229.4 440.0L228.8 440.4L228.2 440.7L227.6 441.1L227.0 441.4L226.4 441.8L225.8 442.2L225.1 442.5L224.5 442.9L223.9 443.3L223.3 443.6L222.7 444.0L222.1 444.4L221.4 444.8L220.8 445.2L220.2 445.6L219.6 445.9L218.9 446.3L218.3 446.8L217.7 447.2L217.0 447.6L216.4 448.0L215.8 448.4L215.1 448.8L214.5 449.2L213.8 449.7L213.2 450.1L212.5 450.5L211.8 451.0L211.2 451.4L210.5 451.9L209.8 452.3L209.2 452.8L208.5 453.2L207.8 453.7L207.1 454.1L206.4 454.6L205.7 455.1L205.0 455.6L204.3 456.0L203.6 456.5L202.9 457.0L202.2 457.5L201.4 458.0L200.7 458.5L200.0 459.0L199.2 459.5L198.5 460.1L197.7 460.6L197.0 461.1L196.2 461.6L195.5 462.2L194.7 462.7L193.9 463.3L193.1 463.8L192.4 464.4L191.6 464.9L190.8 465.5L190.0 466.1L189.2 466.6L188.4 467.2L187.6 467.8L186.8 468.4L186.0 469.0L185.2 469.6L184.4 470.3L183.6 470.9L182.8 471.5L182.0 472.1L181.2 472.8L180.4 473.4L179.6 474.1L178.9 474.8L178.1 475.4L177.3 476.1L176.6 476.8L175.9 477.5L175.2 478.2L174.5 478.9L173.8 479.7L173.2 480.4L172.6 481.1L172.0 481.9L171.4 482.6L170.9 483.4L170.4 484.1L170.0 484.9L169.6 485.6L169.2 486.4L168.9 487.2L168.7 488.0L168.5 488.8L168.3 489.6L168.2 490.4L168.1 491.1L168.1 491.9L168.2 492.7L168.3 493.5L168.5 494.3L168.7 495.1L169.0 495.9L169.3 496.7" stroke="#4b1ea0" stroke-width="2.1" fill="none"/><path d="M511.7 496.7L512.0 495.9L512.3 495.1L512.5 494.3L512.7 493.5L512.8 492.7L512.9 491.9L512.9 491.1L512.9 490.3L512.8 489.5L512.7 488.7L512.5 487.9L512.2 487.1L512.0 486.3L511.6 485.5L511.3 484.7L510.8 483.9L510.4 483.2L509.9 482.4L509.3 481.6L508.8 480.8L508.2 480.1L507.5 479.3L506.9 478.6L506.2 477.8L505.5 477.1L504.8 476.4L504.0 475.7L503.3 475.0L502.5 474.3L501.8 473.6L501.0 473.0L500.2 472.3L499.4 471.7L498.6 471.0L497.8 470.4L497.0 469.8L496.2 469.1L495.4 468.5L494.6 467.9L493.8 467.3L493.0 466.7L492.2 466.1L491.4 465.6L490.6 465.0L489.8 464.4L489.0 463.8L488.2 463.3L487.5 462.7L486.7 462.2L485.9 461.6L485.2 461.1L484.4 460.6L483.6 460.0L482.9 459.5L482.1 459.0L481.4 458.5L480.7 458.0L479.9 457.5L479.2 457.0L478.5 456.5L477.8 456.0L477.1 455.5L476.4 455.0L475.7 454.5L475.0 454.1L474.3 453.6L473.6 453.1L472.9 452.7L472.2 452.2L471.5 451.7L470.9 451.3L470.2 450.8L469.5 450.4L468.9 450.0L468.2 449.5L467.6 449.1L466.9 448.7L466.3 448.2L465.6 447.8L465.0 447.4L464.3 447.0L463.7 446.6L463.1 446.2L462.4 445.8L461.8 445.4L461.2 445.0L460.5 444.6L459.9 444.2L459.3 443.8L458.7 443.4L458.1 443.0L457.4 442.7L456.8 442.3L456.2 441.9L455.6 441.6L455.0 441.2L454.4 440.8L453.8 440.5L453.2 440.1L452.6 439.8L452.0 439.4L451.4 439.1L450.8 438.8L450.2 438.4L449.6 438.1L449.0 437.8L448.4 437.4L447.8 437.1L447.2 436.8L446.6 436.5L446.0 436.2L445.4 435.9L444.8 435.6L444.2 435.3L443.6 435.0L443.0 434.7L442.4 434.4L441.8 434.1L441.2 433.9L440.6 433.6L440.0 433.3L439.4 433.1L438.9 432.8L438.3 432.6L437.7 432.3L437.1 432.1L436.5 431.8L435.9 431.6L435.3 431.3L434.7 431.1L434.1 430.9L433.5 430.7L433.0 430.4L432.4 430.2L431.8 430.0L431.2 429.8L430.6 429.6L430.0 429.4L429.4 429.2L428.9 429.0L428.3 428.8L427.7 428.6L427.1 428.4L426.5 428.2L426.0 428.0L425.4 427.8L424.8 427.6L424.2 427.4L423.7 427.3L423.1 427.1L422.5 426.9L422.0 426.7L421.4 426.6L420.8 426.4L420.3 426.2L419.7 426.0L419.1 425.9L418.6 425.7L418.0 425.5L417.5 425.4L416.9 425.2L416.4 425.1L415.8 424.9L415.3 424.8L414.7 424.6L414.2 424.5L413.6 424.3L413.1 424.2L412.5 424.1L412.0 423.9L411.5 423.8L410.9 423.7L410.4 423.5L409.8 423.4L409.3 423.3L408.8 423.2L408.3 423.1L407.7 422.9L407.2 422.8L406.7 422.7L406.2 422.6L405.6 422.5L405.1 422.4L404.6 422.3L404.1 422.1L403.6 422.0L403.1 421.9L402.6 421.8L402.1 421.7L401.6 421.6L401.1 421.5L400.6 421.4L400.1 421.3L399.6 421.2L399.1 421.1L398.6 421.0L398.1 420.9L397.6 420.8L397.1 420.7L396.6 420.6L396.2 420.5L395.7 420.5L395.2 420.4L394.7 420.3L394.3 420.2L393.8 420.1L393.3 420.0L392.9 420.0L392.4 419.9L391.9 419.8L391.5 419.7L391.0 419.7L390.6 419.6L390.1 419.5L389.7 419.4L389.2 419.4L388.8 419.3L388.3 419.2L387.9 419.2L387.4 419.1L387.0 419.1L386.5 419.0L386.1 418.9L385.7 418.9L385.2 418.8L384.8 418.8L384.4 418.7L383.9 418.6L383.5 418.6L383.1 418.5L382.7 418.5L382.3 418.4L381.8 418.4L381.4 418.3L381.0 418.2L380.6 418.2L380.2 418.1L379.8 418.1L379.4 418.0L378.9 418.0L378.5 417.9L378.1 417.9L377.7 417.8L377.3 417.8L376.9 417.7L376.5 417.7L376.1 417.7L375.7 417.6L375.3 417.6L375.0 417.5L374.6 417.5L374.2 417.4L373.8 417.4L373.4 417.4L373.0 417.3L372.6 417.3L372.2 417.2L371.9 417.2L371.5 417.2L371.1 417.1L370.7 417.1L370.4 417.1L370.0 417.0L369.6 417.0L369.2 417.0L368.9 416.9L368.5 416.9L368.1 416.9L367.8 416.9L367.4 416.8L367.0 416.8L366.7 416.8L366.3 416.7L365.9 416.7L365.6 416.7L365.2 416.7L364.8 416.7L364.5 416.6L364.1 416.6L363.8 416.6L363.4 416.6L363.1 416.5L362.7 416.5L362.4 416.5L362.0 416.5L361.6 416.5L361.3 416.4L360.9 416.4L360.6 416.4L360.3 416.4L359.9 416.4L359.6 416.4L359.2 416.3L358.9 416.3L358.5 416.3L358.2 416.3L357.8 416.3L357.5 416.3L357.2 416.3L356.8 416.2L356.5 416.2L356.1 416.2L355.8 416.2L355.5 416.2L355.1 416.2L354.8 416.2L354.4 416.2L354.1 416.1L353.8 416.1L353.4 416.1L353.1 416.1L352.8 416.1L352.4 416.1L352.1 416.1L351.8 416.1L351.4 416.1L351.1 416.1L350.8 416.1L350.5 416.0L350.1 416.0L349.8 416.0L349.5 416.0L349.1 416.0L348.8 416.0L348.5 416.0L348.1 416.0L347.8 416.0L347.5 416.0L347.2 416.0L346.8 416.0L346.5 416.0L346.2 416.0L345.9 415.9L345.5 415.9L345.2 415.9L344.9 415.9L344.6 415.9L344.2 415.9L343.9 415.9L343.6 415.9L343.3 415.9L342.9 415.9L342.6 415.9L342.3 415.9L342.0 415.9L341.6 415.9L341.3 415.9L341.0 415.9L340.7 415.9L340.3 415.9L340.0 415.9L339.7 415.9L339.4 415.9L339.0 415.9L338.7 415.9L338.4 415.9L338.1 415.9L337.7 415.9L337.4 415.9L337.1 415.9L336.8 415.9L336.4 415.9L336.1 415.9L335.8 415.9L335.5 415.9L335.1 415.9L334.8 416.0L334.5 416.0L334.2 416.0L333.8 416.0L333.5 416.0L333.2 416.0L332.9 416.0L332.5 416.0L332.2 416.0L331.9 416.0L331.5 416.0L331.2 416.0L330.9 416.0L330.5 416.0L330.2 416.1L329.9 416.1L329.6 416.1L329.2 416.1L328.9 416.1L328.6 416.1L328.2 416.1L327.9 416.1L327.6 416.1L327.2 416.1L326.9 416.1L326.6 416.2L326.2 416.2L325.9 416.2L325.5 416.2L325.2 416.2L324.9 416.2L324.5 416.2L324.2 416.2L323.8 416.3L323.5 416.3L323.2 416.3L322.8 416.3L322.5 416.3L322.1 416.3L321.8 416.3L321.4 416.4L321.1 416.4L320.7 416.4L320.4 416.4L320.1 416.4L319.7 416.4L319.4 416.5L319.0 416.5L318.6 416.5L318.3 416.5L317.9 416.5L317.6 416.6L317.2 416.6L316.9 416.6L316.5 416.6L316.2 416.7L315.8 416.7L315.4 416.7L315.1 416.7L314.7 416.7L314.3 416.8L314.0 416.8L313.6 416.8L313.2 416.9L312.9 416.9L312.5 416.9L312.1 416.9L311.8 417.0L311.4 417.0L311.0 417.0L310.6 417.1L310.3 417.1L309.9 417.1L309.5 417.2L309.1 417.2L308.8 417.2L308.4 417.3L308.0 417.3L307.6 417.4L307.2 417.4L306.8 417.4L306.4 417.5L306.0 417.5L305.7 417.6L305.3 417.6L304.9 417.7L304.5 417.7L304.1 417.7L303.7 417.8L303.3 417.8L302.9 417.9L302.5 417.9L302.1 418.0L301.6 418.0L301.2 418.1L300.8 418.1L300.4 418.2L300.0 418.2L299.6 418.3L299.2 418.4L298.7 418.4L298.3 418.5L297.9 418.5L297.5 418.6L297.1 418.6L296.6 418.7L296.2 418.8L295.8 418.8L295.3 418.9L294.9 418.9L294.5 419.0L294.0 419.1L293.6 419.1L293.1 419.2L292.7 419.2L292.2 419.3L291.8 419.4L291.3 419.4L290.9 419.5L290.4 419.6L290.0 419.7L289.5 419.7L289.1 419.8L288.6 419.9L288.1 420.0L287.7 420.0L287.2 420.1L286.7 420.2L286.3 420.3L285.8 420.4L285.3 420.5L284.8 420.5L284.4 420.6L283.9 420.7L283.4 420.8L282.9 420.9L282.4 421.0L281.9 421.1L281.4 421.2L280.9 421.3L280.4 421.4L279.9 421.5L279.4 421.6L278.9 421.7L278.4 421.8L277.9 421.9L277.4 422.0L276.9 422.1L276.4 422.3L275.9 422.4L275.4 422.5L274.8 422.6L274.3 422.7L273.8 422.8L273.3 422.9L272.7 423.1L272.2 423.2L271.7 423.3L271.2 423.4L270.6 423.5L270.1 423.7L269.5 423.8L269.0 423.9L268.5 424.1L267.9 424.2L267.4 424.3L266.8 424.5L266.3 424.6L265.7 424.8L265.2 424.9L264.6 425.1L264.1 425.2L263.5 425.4L263.0 425.5L262.4 425.7L261.9 425.9L261.3 426.0L260.7 426.2L260.2 426.4L259.6 426.6L259.0 426.7L258.5 426.9L257.9 427.1L257.3 427.3L256.8 427.4L256.2 427.6L255.6 427.8L255.0 428.0L254.5 428.2L253.9 428.4L253.3 428.6L252.7 428.8L252.1 429.0L251.6 429.2L251.0 429.4L250.4 429.6L249.8 429.8L249.2 430.0L248.6 430.2L248.0 430.4L247.5 430.7L246.9 430.9L246.3 431.1L245.7 431.3L245.1 431.6L244.5 431.8L243.9 432.1L243.3 432.3L242.7 432.6L242.1 432.8L241.6 433.1L241.0 433.3L240.4 433.6L239.8 433.9L239.2 434.1L238.6 434.4L238.0 434.7L237.4 435.0L236.8 435.3L236.2 435.6L235.6 435.9L235.0 436.2L234.4 436.5L233.8 436.8L233.2 437.1L232.6 437.4L232.0 437.8L231.4 438.1L230.8 438.4L230.2 438.8L229.6 439.1L229.0 439.4L228.4 439.8L227.8 440.1L227.2 440.5L226.6 440.8L226.0 441.2L225.4 441.6L224.8 441.9L224.2 442.3L223.6 442.7L222.9 443.0L222.3 443.4L221.7 443.8L221.1 444.2L220.5 444.6L219.8 445.0L219.2 445.4L218.6 445.8L217.9 446.2L217.3 446.6L216.7 447.0L216.0 447.4L215.4 447.8L214.7 448.2L214.1 448.7L213.4 449.1L212.8 449.5L212.1 450.0L211.5 450.4L210.8 450.8L210.1 451.3L209.5 451.7L208.8 452.2L208.1 452.7L207.4 453.1L206.7 453.6L206.0 454.1L205.3 454.5L204.6 455.0L203.9 455.5L203.2 456.0L202.5 456.5L201.8 457.0L201.1 457.5L200.3 458.0L199.6 458.5L198.9 459.0L198.1 459.5L197.4 460.0L196.6 460.6L195.8 461.1L195.1 461.6L194.3 462.2L193.5 462.7L192.8 463.3L192.0 463.8L191.2 464.4L190.4 465.0L189.6 465.6L188.8 466.1L188.0 466.7L187.2 467.3L186.4 467.9L185.6 468.5L184.8 469.1L184.0 469.8L183.2 470.4L182.4 471.0L181.6 471.7L180.8 472.3L180.0 473.0L179.2 473.6L178.5 474.3L177.7 475.0L177.0 475.7L176.2 476.4L175.5 477.1L174.8 477.8L174.1 478.6L173.5 479.3L172.8 480.1L172.2 480.8L171.7 481.6L171.1 482.4L170.6 483.2L170.2 483.9L169.7 484.7L169.4 485.5L169.0 486.3L168.8 487.1L168.5 487.9L168.3 488.7L168.2 489.5L168.1 490.3L168.1 491.1L168.1 491.9L168.2 492.7L168.3 493.5L168.5 494.3L168.7 495.1L169.0 495.9L169.3 496.7" stroke="#1a6cbd" stroke-width="2.1" fill="none" stroke-dasharray="7.9 4.0"/><path d="M511.7 496.7L512.0 495.9L512.3 495.1L512.5 494.3L512.7 493.5L512.8 492.7L512.9 491.9L512.9 491.1L512.8 490.4L512.7 489.6L512.5 488.8L512.3 488.0L512.1 487.2L511.8 486.4L511.4 485.6L511.0 484.9L510.6 484.1L510.1 483.4L509.6 482.6L509.0 481.9L508.4 481.1L507.8 480.4L507.2 479.7L506.5 478.9L505.8 478.2L505.1 477.5L504.4 476.8L503.7 476.1L502.9 475.4L502.1 474.8L501.4 474.1L500.6 473.4L499.8 472.8L499.0 472.1L498.2 471.5L497.4 470.9L496.6 470.3L495.8 469.6L495.0 469.0L494.2 468.4L493.4 467.8L492.6 467.2L491.8 466.6L491.0 466.1L490.2 465.5L489.4 464.9L488.6 464.4L487.9 463.8L487.1 463.3L486.3 462.7L485.5 462.2L484.8 461.6L484.0 461.1L483.3 460.6L482.5 460.1L481.8 459.5L481.0 459.0L480.3 458.5L479.6 458.0L478.8 457.5L478.1 457.0L477.4 456.5L476.7 456.0L476.0 455.6L475.3 455.1L474.6 454.6L473.9 454.1L473.2 453.7L472.5 453.2L471.8 452.8L471.2 452.3L470.5 451.9L469.8 451.4L469.2 451.0L468.5 450.5L467.8 450.1L467.2 449.7L466.5 449.2L465.9 448.8L465.2 448.4L464.6 448.0L464.0 447.6L463.3 447.2L462.7 446.8L462.1 446.3L461.4 445.9L460.8 445.6L460.2 445.2L459.6 444.8L458.9 444.4L458.3 444.0L457.7 443.6L457.1 443.3L456.5 442.9L455.9 442.5L455.2 442.2L454.6 441.8L454.0 441.4L453.4 441.1L452.8 440.7L452.2 440.4L451.6 440.0L451.0 439.7L450.4 439.4L449.8 439.0L449.2 438.7L448.6 438.4L448.0 438.1L447.4 437.7L446.8 437.4L446.3 437.1L445.7 436.8L445.1 436.5L444.5 436.2L443.9 435.9L443.3 435.6L442.7 435.3L442.1 435.0L441.5 434.8L440.9 434.5L440.4 434.2L439.8 433.9L439.2 433.7L438.6 433.4L438.0 433.2L437.4 432.9L436.8 432.7L436.2 432.4L435.7 432.2L435.1 431.9L434.5 431.7L433.9 431.5L433.3 431.2L432.7 431.0L432.1 430.8L431.6 430.6L431.0 430.4L430.4 430.2L429.8 429.9L429.2 429.7L428.7 429.5L428.1 429.4L427.5 429.2L426.9 429.0L426.3 428.8L425.8 428.6L425.2 428.4L424.6 428.3L424.1 428.1L423.5 427.9L422.9 427.8L422.3 427.6L421.8 427.4L421.2 427.3L420.6 427.1L420.1 427.0L419.5 426.8L418.9 426.7L418.4 426.6L417.8 426.4L417.3 426.3L416.7 426.2L416.2 426.0L415.6 425.9L415.0 425.8L414.5 425.7L413.9 425.5L413.4 425.4L412.9 425.3L412.3 425.2L411.8 425.1L411.2 425.0L410.7 424.9L410.1 424.8L409.6 424.7L409.1 424.6L408.5 424.5L408.0 424.4L407.5 424.3L407.0 424.2L406.4 424.2L405.9 424.1L405.4 424.0L404.9 423.9L404.4 423.8L403.9 423.8L403.3 423.7L402.8 423.6L402.3 423.6L401.8 423.5L401.3 423.4L400.8 423.4L400.3 423.3L399.8 423.2L399.3 423.2L398.8 423.1L398.4 423.0L397.9 423.0L397.4 422.9L396.9 422.9L396.4 422.8L395.9 422.8L395.5 422.7L395.0 422.7L394.5 422.6L394.0 422.6L393.6 422.5L393.1 422.5L392.6 422.5L392.2 422.4L391.7 422.4L391.3 422.3L390.8 422.3L390.3 422.3L389.9 422.2L389.4 422.2L389.0 422.1L388.5 422.1L388.1 422.1L387.7 422.0L387.2 422.0L386.8 422.0L386.3 421.9L385.9 421.9L385.5 421.9L385.0 421.9L384.6 421.8L384.2 421.8L383.8 421.8L383.3 421.8L382.9 421.7L382.5 421.7L382.1 421.7L381.6 421.7L381.2 421.6L380.8 421.6L380.4 421.6L380.0 421.6L379.6 421.5L379.2 421.5L378.8 421.5L378.4 421.5L378.0 421.5L377.6 421.4L377.2 421.4L376.8 421.4L376.4 421.4L376.0 421.4L375.6 421.4L375.2 421.3L374.8 421.3L374.4 421.3L374.0 421.3L373.6 421.3L373.3 421.3L372.9 421.2L372.5 421.2L372.1 421.2L371.7 421.2L371.3 421.2L371.0 421.2L370.6 421.2L370.2 421.2L369.8 421.1L369.5 421.1L369.1 421.1L368.7 421.1L368.4 421.1L368.0 421.1L367.6 421.1L367.3 421.1L366.9 421.1L366.5 421.0L366.2 421.0L365.8 421.0L365.5 421.0L365.1 421.0L364.7 421.0L364.4 421.0L364.0 421.0L363.7 421.0L363.3 421.0L363.0 421.0L362.6 421.0L362.3 420.9L361.9 420.9L361.6 420.9L361.2 420.9L360.9 420.9L360.5 420.9L360.2 420.9L359.8 420.9L359.5 420.9L359.1 420.9L358.8 420.9L358.5 420.9L358.1 420.9L357.8 420.9L357.4 420.9L357.1 420.9L356.8 420.9L356.4 420.9L356.1 420.8L355.7 420.8L355.4 420.8L355.1 420.8L354.7 420.8L354.4 420.8L354.1 420.8L353.7 420.8L353.4 420.8L353.1 420.8L352.7 420.8L352.4 420.8L352.1 420.8L351.7 420.8L351.4 420.8L351.1 420.8L350.7 420.8L350.4 420.8L350.1 420.8L349.8 420.8L349.4 420.8L349.1 420.8L348.8 420.8L348.4 420.8L348.1 420.8L347.8 420.8L347.5 420.8L347.1 420.8L346.8 420.8L346.5 420.8L346.2 420.8L345.8 420.8L345.5 420.8L345.2 420.8L344.9 420.8L344.5 420.8L344.2 420.8L343.9 420.8L343.6 420.8L343.2 420.8L342.9 420.8L342.6 420.8L342.3 420.7L342.0 420.7L341.6 420.7L341.3 420.7L341.0 420.7L340.7 420.7L340.3 420.7L340.0 420.7L339.7 420.7L339.4 420.7L339.0 420.7L338.7 420.7L338.4 420.8L338.1 420.8L337.8 420.8L337.4 420.8L337.1 420.8L336.8 420.8L336.5 420.8L336.1 420.8L335.8 420.8L335.5 420.8L335.2 420.8L334.8 420.8L334.5 420.8L334.2 420.8L333.9 420.8L333.5 420.8L333.2 420.8L332.9 420.8L332.6 420.8L332.2 420.8L331.9 420.8L331.6 420.8L331.2 420.8L330.9 420.8L330.6 420.8L330.3 420.8L329.9 420.8L329.6 420.8L329.3 420.8L328.9 420.8L328.6 420.8L328.3 420.8L327.9 420.8L327.6 420.8L327.3 420.8L326.9 420.8L326.6 420.8L326.3 420.8L325.9 420.8L325.6 420.8L325.3 420.8L324.9 420.8L324.6 420.9L324.2 420.9L323.9 420.9L323.6 420.9L323.2 420.9L322.9 420.9L322.5 420.9L322.2 420.9L321.9 420.9L321.5 420.9L321.2 420.9L320.8 420.9L320.5 420.9L320.1 420.9L319.8 420.9L319.4 420.9L319.1 420.9L318.7 420.9L318.4 421.0L318.0 421.0L317.7 421.0L317.3 421.0L317.0 421.0L316.6 421.0L316.3 421.0L315.9 421.0L315.5 421.0L315.2 421.0L314.8 421.0L314.5 421.0L314.1 421.1L313.7 421.1L313.4 421.1L313.0 421.1L312.6 421.1L312.3 421.1L311.9 421.1L311.5 421.1L311.2 421.1L310.8 421.2L310.4 421.2L310.0 421.2L309.7 421.2L309.3 421.2L308.9 421.2L308.5 421.2L308.1 421.2L307.7 421.3L307.4 421.3L307.0 421.3L306.6 421.3L306.2 421.3L305.8 421.3L305.4 421.4L305.0 421.4L304.6 421.4L304.2 421.4L303.8 421.4L303.4 421.4L303.0 421.5L302.6 421.5L302.2 421.5L301.8 421.5L301.4 421.5L301.0 421.6L300.6 421.6L300.2 421.6L299.8 421.6L299.4 421.7L298.9 421.7L298.5 421.7L298.1 421.7L297.7 421.8L297.2 421.8L296.8 421.8L296.4 421.8L296.0 421.9L295.5 421.9L295.1 421.9L294.7 421.9L294.2 422.0L293.8 422.0L293.3 422.0L292.9 422.1L292.5 422.1L292.0 422.1L291.6 422.2L291.1 422.2L290.7 422.3L290.2 422.3L289.7 422.3L289.3 422.4L288.8 422.4L288.4 422.5L287.9 422.5L287.4 422.5L287.0 422.6L286.5 422.6L286.0 422.7L285.5 422.7L285.1 422.8L284.6 422.8L284.1 422.9L283.6 422.9L283.1 423.0L282.6 423.0L282.2 423.1L281.7 423.2L281.2 423.2L280.7 423.3L280.2 423.4L279.7 423.4L279.2 423.5L278.7 423.6L278.2 423.6L277.7 423.7L277.1 423.8L276.6 423.8L276.1 423.9L275.6 424.0L275.1 424.1L274.6 424.2L274.0 424.2L273.5 424.3L273.0 424.4L272.5 424.5L271.9 424.6L271.4 424.7L270.9 424.8L270.3 424.9L269.8 425.0L269.2 425.1L268.7 425.2L268.1 425.3L267.6 425.4L267.1 425.5L266.5 425.7L266.0 425.8L265.4 425.9L264.8 426.0L264.3 426.2L263.7 426.3L263.2 426.4L262.6 426.6L262.1 426.7L261.5 426.8L260.9 427.0L260.4 427.1L259.8 427.3L259.2 427.4L258.7 427.6L258.1 427.8L257.5 427.9L256.9 428.1L256.4 428.3L255.8 428.4L255.2 428.6L254.7 428.8L254.1 429.0L253.5 429.2L252.9 429.4L252.3 429.5L251.8 429.7L251.2 429.9L250.6 430.2L250.0 430.4L249.4 430.6L248.9 430.8L248.3 431.0L247.7 431.2L247.1 431.5L246.5 431.7L245.9 431.9L245.3 432.2L244.8 432.4L244.2 432.7L243.6 432.9L243.0 433.2L242.4 433.4L241.8 433.7L241.2 433.9L240.6 434.2L240.1 434.5L239.5 434.8L238.9 435.0L238.3 435.3L237.7 435.6L237.1 435.9L236.5 436.2L235.9 436.5L235.3 436.8L234.7 437.1L234.2 437.4L233.6 437.7L233.0 438.1L232.4 438.4L231.8 438.7L231.2 439.0L230.6 439.4L230.0 439.7L229.4 440.0L228.8 440.4L228.2 440.7L227.6 441.1L227.0 441.4L226.4 441.8L225.8 442.2L225.1 442.5L224.5 442.9L223.9 443.3L223.3 443.6L222.7 444.0L222.1 444.4L221.4 444.8L220.8 445.2L220.2 445.6L219.6 445.9L218.9 446.3L218.3 446.8L217.7 447.2L217.0 447.6L216.4 448.0L215.8 448.4L215.1 448.8L214.5 449.2L213.8 449.7L213.2 450.1L212.5 450.5L211.8 451.0L211.2 451.4L210.5 451.9L209.8 452.3L209.2 452.8L208.5 453.2L207.8 453.7L207.1 454.1L206.4 454.6L205.7 455.1L205.0 455.6L204.3 456.0L203.6 456.5L202.9 457.0L202.2 457.5L201.4 458.0L200.7 458.5L200.0 459.0L199.2 459.5L198.5 460.1L197.7 460.6L197.0 461.1L196.2 461.6L195.5 462.2L194.7 462.7L193.9 463.3L193.1 463.8L192.4 464.4L191.6 464.9L190.8 465.5L190.0 466.1L189.2 466.6L188.4 467.2L187.6 467.8L186.8 468.4L186.0 469.0L185.2 469.6L184.4 470.3L183.6 470.9L182.8 471.5L182.0 472.1L181.2 472.8L180.4 473.4L179.6 474.1L178.9 474.8L178.1 475.4L177.3 476.1L176.6 476.8L175.9 477.5L175.2 478.2L174.5 478.9L173.8 479.7L173.2 480.4L172.6 481.1L172.0 481.9L171.4 482.6L170.9 483.4L170.4 484.1L170.0 484.9L169.6 485.6L169.2 486.4L168.9 487.2L168.7 488.0L168.5 488.8L168.3 489.6L168.2 490.4L168.1 491.1L168.1 491.9L168.2 492.7L168.3 493.5L168.5 494.3L168.7 495.1L169.0 495.9L169.3 496.7" stroke="#2a2a2a" stroke-width="2.1" fill="none" stroke-dasharray="2.1 3.9"/><path d="M468.5 495.4L468.7 494.8L468.9 494.2L469.0 493.6L469.2 493.0L469.2 492.4L469.3 491.8L469.3 491.2L469.2 490.6L469.2 490.1L469.1 489.5L468.9 488.9L468.8 488.3L468.6 487.7L468.3 487.1L468.1 486.5L467.8 486.0L467.5 485.4L467.1 484.8L466.8 484.3L466.4 483.7L466.0 483.2L465.6 482.6L465.1 482.1L464.7 481.5L464.2 481.0L463.7 480.5L463.2 479.9L462.7 479.4L462.2 478.9L461.7 478.4L461.2 477.9L460.6 477.4L460.1 476.9L459.5 476.4L459.0 475.9L458.4 475.4L457.9 475.0L457.3 474.5L456.8 474.0L456.2 473.6L455.7 473.1L455.1 472.7L454.5 472.2L454.0 471.8L453.4 471.3L452.9 470.9L452.3 470.5L451.8 470.1L451.2 469.6L450.7 469.2L450.2 468.8L449.6 468.4L449.1 468.0L448.6 467.6L448.0 467.2L447.5 466.8L447.0 466.4L446.5 466.0L445.9 465.6L445.4 465.2L444.9 464.8L444.4 464.5L443.9 464.1L443.4 463.7L442.9 463.3L442.4 463.0L441.9 462.6L441.4 462.2L440.9 461.9L440.4 461.5L439.9 461.2L439.4 460.8L439.0 460.5L438.5 460.1L438.0 459.8L437.5 459.5L437.1 459.1L436.6 458.8L436.1 458.5L435.7 458.1L435.2 457.8L434.7 457.5L434.3 457.2L433.8 456.8L433.3 456.5L432.9 456.2L432.4 455.9L432.0 455.6L431.5 455.3L431.1 455.0L430.6 454.7L430.2 454.4L429.7 454.1L429.3 453.8L428.8 453.5L428.4 453.2L427.9 452.9L427.5 452.7L427.0 452.4L426.6 452.1L426.2 451.8L425.7 451.6L425.3 451.3L424.8 451.0L424.4 450.8L423.9 450.5L423.5 450.3L423.1 450.0L422.6 449.7L422.2 449.5L421.7 449.3L421.3 449.0L420.9 448.8L420.4 448.5L420.0 448.3L419.5 448.1L419.1 447.8L418.6 447.6L418.2 447.4L417.8 447.2L417.3 447.0L416.9 446.7L416.4 446.5L416.0 446.3L415.6 446.1L415.1 445.9L414.7 445.7L414.2 445.5L413.8 445.3L413.3 445.1L412.9 445.0L412.5 444.8L412.0 444.6L411.6 444.4L411.1 444.3L410.7 444.1L410.2 443.9L409.8 443.7L409.4 443.6L408.9 443.4L408.5 443.3L408.0 443.1L407.6 443.0L407.1 442.8L406.7 442.7L406.3 442.5L405.8 442.4L405.4 442.3L404.9 442.1L404.5 442.0L404.1 441.9L403.6 441.7L403.2 441.6L402.7 441.5L402.3 441.4L401.9 441.3L401.4 441.2L401.0 441.0L400.6 440.9L400.1 440.8L399.7 440.7L399.3 440.6L398.9 440.5L398.4 440.4L398.0 440.3L397.6 440.2L397.1 440.2L396.7 440.1L396.3 440.0L395.9 439.9L395.5 439.8L395.0 439.7L394.6 439.7L394.2 439.6L393.8 439.5L393.4 439.4L393.0 439.4L392.6 439.3L392.2 439.2L391.7 439.2L391.3 439.1L390.9 439.0L390.5 439.0L390.1 438.9L389.7 438.9L389.3 438.8L388.9 438.8L388.5 438.7L388.2 438.6L387.8 438.6L387.4 438.5L387.0 438.5L386.6 438.5L386.2 438.4L385.8 438.4L385.4 438.3L385.1 438.3L384.7 438.2L384.3 438.2L383.9 438.2L383.6 438.1L383.2 438.1L382.8 438.0L382.5 438.0L382.1 438.0L381.7 437.9L381.4 437.9L381.0 437.9L380.6 437.8L380.3 437.8L379.9 437.8L379.6 437.8L379.2 437.7L378.9 437.7L378.5 437.7L378.2 437.6L377.8 437.6L377.5 437.6L377.1 437.6L376.8 437.5L376.4 437.5L376.1 437.5L375.8 437.5L375.4 437.5L375.1 437.4L374.7 437.4L374.4 437.4L374.1 437.4L373.7 437.4L373.4 437.3L373.1 437.3L372.8 437.3L372.4 437.3L372.1 437.3L371.8 437.2L371.5 437.2L371.2 437.2L370.8 437.2L370.5 437.2L370.2 437.2L369.9 437.2L369.6 437.1L369.3 437.1L369.0 437.1L368.6 437.1L368.3 437.1L368.0 437.1L367.7 437.1L367.4 437.1L367.1 437.0L366.8 437.0L366.5 437.0L366.2 437.0L365.9 437.0L365.6 437.0L365.3 437.0L365.0 437.0L364.7 437.0L364.4 437.0L364.1 436.9L363.8 436.9L363.6 436.9L363.3 436.9L363.0 436.9L362.7 436.9L362.4 436.9L362.1 436.9L361.8 436.9L361.5 436.9L361.3 436.9L361.0 436.9L360.7 436.9L360.4 436.9L360.1 436.8L359.9 436.8L359.6 436.8L359.3 436.8L359.0 436.8L358.7 436.8L358.5 436.8L358.2 436.8L357.9 436.8L357.6 436.8L357.4 436.8L357.1 436.8L356.8 436.8L356.6 436.8L356.3 436.8L356.0 436.8L355.8 436.8L355.5 436.8L355.2 436.8L355.0 436.7L354.7 436.7L354.4 436.7L354.2 436.7L353.9 436.7L353.6 436.7L353.4 436.7L353.1 436.7L352.8 436.7L352.6 436.7L352.3 436.7L352.1 436.7L351.8 436.7L351.5 436.7L351.3 436.7L351.0 436.7L350.8 436.7L350.5 436.7L350.2 436.7L350.0 436.7L349.7 436.7L349.5 436.7L349.2 436.7L349.0 436.7L348.7 436.7L348.4 436.7L348.2 436.7L347.9 436.7L347.7 436.7L347.4 436.7L347.2 436.7L346.9 436.7L346.7 436.7L346.4 436.7L346.2 436.7L345.9 436.7L345.6 436.7L345.4 436.7L345.1 436.7L344.9 436.7L344.6 436.7L344.4 436.7L344.1 436.7L343.9 436.7L343.6 436.7L343.4 436.7L343.1 436.7L342.9 436.7L342.6 436.7L342.4 436.7L342.1 436.7L341.9 436.7L341.6 436.7L341.4 436.7L341.1 436.7L340.9 436.7L340.6 436.7L340.4 436.7L340.1 436.7L339.9 436.7L339.6 436.7L339.4 436.7L339.1 436.7L338.9 436.7L338.6 436.7L338.4 436.7L338.1 436.7L337.9 436.7L337.6 436.7L337.4 436.7L337.1 436.7L336.9 436.7L336.6 436.7L336.4 436.7L336.1 436.7L335.9 436.7L335.6 436.7L335.4 436.7L335.1 436.7L334.8 436.7L334.6 436.7L334.3 436.7L334.1 436.7L333.8 436.7L333.6 436.7L333.3 436.7L333.1 436.7L332.8 436.7L332.6 436.7L332.3 436.7L332.0 436.7L331.8 436.7L331.5 436.7L331.3 436.7L331.0 436.7L330.8 436.7L330.5 436.7L330.2 436.7L330.0 436.7L329.7 436.7L329.5 436.7L329.2 436.7L328.9 436.7L328.7 436.7L328.4 436.7L328.2 436.7L327.9 436.7L327.6 436.7L327.4 436.7L327.1 436.7L326.8 436.7L326.6 436.7L326.3 436.7L326.0 436.7L325.8 436.8L325.5 436.8L325.2 436.8L325.0 436.8L324.7 436.8L324.4 436.8L324.2 436.8L323.9 436.8L323.6 436.8L323.4 436.8L323.1 436.8L322.8 436.8L322.5 436.8L322.3 436.8L322.0 436.8L321.7 436.8L321.4 436.8L321.1 436.8L320.9 436.8L320.6 436.9L320.3 436.9L320.0 436.9L319.7 436.9L319.5 436.9L319.2 436.9L318.9 436.9L318.6 436.9L318.3 436.9L318.0 436.9L317.7 436.9L317.4 436.9L317.2 436.9L316.9 436.9L316.6 437.0L316.3 437.0L316.0 437.0L315.7 437.0L315.4 437.0L315.1 437.0L314.8 437.0L314.5 437.0L314.2 437.0L313.9 437.0L313.6 437.1L313.3 437.1L313.0 437.1L312.7 437.1L312.4 437.1L312.0 437.1L311.7 437.1L311.4 437.1L311.1 437.2L310.8 437.2L310.5 437.2L310.2 437.2L309.8 437.2L309.5 437.2L309.2 437.2L308.9 437.3L308.6 437.3L308.2 437.3L307.9 437.3L307.6 437.3L307.3 437.4L306.9 437.4L306.6 437.4L306.3 437.4L305.9 437.4L305.6 437.5L305.2 437.5L304.9 437.5L304.6 437.5L304.2 437.5L303.9 437.6L303.5 437.6L303.2 437.6L302.8 437.6L302.5 437.7L302.1 437.7L301.8 437.7L301.4 437.8L301.1 437.8L300.7 437.8L300.4 437.8L300.0 437.9L299.6 437.9L299.3 437.9L298.9 438.0L298.5 438.0L298.2 438.0L297.8 438.1L297.4 438.1L297.1 438.2L296.7 438.2L296.3 438.2L295.9 438.3L295.6 438.3L295.2 438.4L294.8 438.4L294.4 438.5L294.0 438.5L293.6 438.5L293.2 438.6L292.8 438.6L292.5 438.7L292.1 438.8L291.7 438.8L291.3 438.9L290.9 438.9L290.5 439.0L290.1 439.0L289.7 439.1L289.3 439.2L288.8 439.2L288.4 439.3L288.0 439.4L287.6 439.4L287.2 439.5L286.8 439.6L286.4 439.7L286.0 439.7L285.5 439.8L285.1 439.9L284.7 440.0L284.3 440.1L283.9 440.2L283.4 440.2L283.0 440.3L282.6 440.4L282.1 440.5L281.7 440.6L281.3 440.7L280.9 440.8L280.4 440.9L280.0 441.0L279.6 441.2L279.1 441.3L278.7 441.4L278.3 441.5L277.8 441.6L277.4 441.7L276.9 441.9L276.5 442.0L276.1 442.1L275.6 442.3L275.2 442.4L274.7 442.5L274.3 442.7L273.9 442.8L273.4 443.0L273.0 443.1L272.5 443.3L272.1 443.4L271.6 443.6L271.2 443.7L270.8 443.9L270.3 444.1L269.9 444.3L269.4 444.4L269.0 444.6L268.5 444.8L268.1 445.0L267.7 445.1L267.2 445.3L266.8 445.5L266.3 445.7L265.9 445.9L265.4 446.1L265.0 446.3L264.6 446.5L264.1 446.7L263.7 447.0L263.2 447.2L262.8 447.4L262.4 447.6L261.9 447.8L261.5 448.1L261.0 448.3L260.6 448.5L260.1 448.8L259.7 449.0L259.3 449.3L258.8 449.5L258.4 449.7L257.9 450.0L257.5 450.3L257.1 450.5L256.6 450.8L256.2 451.0L255.7 451.3L255.3 451.6L254.8 451.8L254.4 452.1L254.0 452.4L253.5 452.7L253.1 452.9L252.6 453.2L252.2 453.5L251.7 453.8L251.3 454.1L250.8 454.4L250.4 454.7L249.9 455.0L249.5 455.3L249.0 455.6L248.6 455.9L248.1 456.2L247.7 456.5L247.2 456.8L246.7 457.2L246.3 457.5L245.8 457.8L245.3 458.1L244.9 458.5L244.4 458.8L243.9 459.1L243.5 459.5L243.0 459.8L242.5 460.1L242.0 460.5L241.6 460.8L241.1 461.2L240.6 461.5L240.1 461.9L239.6 462.2L239.1 462.6L238.6 463.0L238.1 463.3L237.6 463.7L237.1 464.1L236.6 464.5L236.1 464.8L235.6 465.2L235.1 465.6L234.5 466.0L234.0 466.4L233.5 466.8L233.0 467.2L232.4 467.6L231.9 468.0L231.4 468.4L230.8 468.8L230.3 469.2L229.8 469.6L229.2 470.1L228.7 470.5L228.1 470.9L227.6 471.3L227.0 471.8L226.5 472.2L225.9 472.7L225.3 473.1L224.8 473.6L224.2 474.0L223.7 474.5L223.1 475.0L222.6 475.4L222.0 475.9L221.5 476.4L220.9 476.9L220.4 477.4L219.8 477.9L219.3 478.4L218.8 478.9L218.3 479.4L217.8 479.9L217.3 480.5L216.8 481.0L216.3 481.5L215.9 482.1L215.4 482.6L215.0 483.2L214.6 483.7L214.2 484.3L213.9 484.8L213.5 485.4L213.2 486.0L212.9 486.5L212.7 487.1L212.4 487.7L212.2 488.3L212.1 488.9L211.9 489.5L211.8 490.1L211.8 490.6L211.7 491.2L211.7 491.8L211.8 492.4L211.8 493.0L212.0 493.6L212.1 494.2L212.3 494.8L212.5 495.4" stroke="#6a4cb8" stroke-width="2.1" fill="none"/><path d="M468.5 495.4L468.7 494.8L468.9 494.2L469.0 493.6L469.2 493.0L469.2 492.4L469.3 491.8L469.3 491.2L469.3 490.6L469.2 490.0L469.2 489.4L469.0 488.8L468.9 488.2L468.7 487.6L468.5 487.0L468.3 486.4L468.0 485.8L467.7 485.3L467.4 484.7L467.1 484.1L466.7 483.5L466.3 482.9L465.9 482.4L465.5 481.8L465.0 481.2L464.6 480.7L464.1 480.1L463.6 479.6L463.1 479.1L462.6 478.5L462.0 478.0L461.5 477.5L461.0 477.0L460.4 476.5L459.9 476.0L459.3 475.6L458.8 475.1L458.2 474.6L457.6 474.1L457.1 473.7L456.5 473.2L456.0 472.7L455.4 472.3L454.9 471.8L454.3 471.4L453.8 471.0L453.2 470.5L452.6 470.1L452.1 469.7L451.6 469.2L451.0 468.8L450.5 468.4L449.9 468.0L449.4 467.6L448.9 467.2L448.3 466.8L447.8 466.4L447.3 466.0L446.8 465.6L446.2 465.2L445.7 464.8L445.2 464.4L444.7 464.1L444.2 463.7L443.7 463.3L443.2 462.9L442.7 462.6L442.2 462.2L441.7 461.8L441.2 461.5L440.7 461.1L440.2 460.8L439.7 460.4L439.3 460.1L438.8 459.7L438.3 459.4L437.8 459.1L437.4 458.7L436.9 458.4L436.4 458.0L435.9 457.7L435.5 457.4L435.0 457.1L434.5 456.7L434.1 456.4L433.6 456.1L433.2 455.8L432.7 455.5L432.3 455.2L431.8 454.9L431.3 454.6L430.9 454.3L430.4 454.0L430.0 453.7L429.5 453.4L429.1 453.1L428.6 452.8L428.2 452.5L427.8 452.2L427.3 452.0L426.9 451.7L426.4 451.4L426.0 451.1L425.5 450.9L425.1 450.6L424.6 450.3L424.2 450.1L423.8 449.8L423.3 449.6L422.9 449.3L422.4 449.1L422.0 448.8L421.5 448.6L421.1 448.3L420.6 448.1L420.2 447.9L419.8 447.6L419.3 447.4L418.9 447.2L418.4 446.9L418.0 446.7L417.5 446.5L417.1 446.3L416.7 446.1L416.2 445.9L415.8 445.7L415.3 445.5L414.9 445.3L414.4 445.1L414.0 444.9L413.5 444.7L413.1 444.5L412.6 444.3L412.2 444.1L411.8 444.0L411.3 443.8L410.9 443.6L410.4 443.4L410.0 443.3L409.5 443.1L409.1 443.0L408.6 442.8L408.2 442.6L407.7 442.5L407.3 442.3L406.9 442.2L406.4 442.0L406.0 441.9L405.5 441.8L405.1 441.6L404.6 441.5L404.2 441.4L403.8 441.2L403.3 441.1L402.9 441.0L402.5 440.8L402.0 440.7L401.6 440.6L401.1 440.5L400.7 440.4L400.3 440.2L399.9 440.1L399.4 440.0L399.0 439.9L398.6 439.8L398.1 439.7L397.7 439.6L397.3 439.5L396.9 439.4L396.4 439.3L396.0 439.2L395.6 439.1L395.2 439.0L394.8 438.9L394.3 438.9L393.9 438.8L393.5 438.7L393.1 438.6L392.7 438.5L392.3 438.5L391.9 438.4L391.5 438.3L391.1 438.2L390.7 438.2L390.3 438.1L389.9 438.0L389.5 438.0L389.1 437.9L388.7 437.8L388.3 437.8L387.9 437.7L387.5 437.6L387.1 437.6L386.7 437.5L386.3 437.5L385.9 437.4L385.6 437.3L385.2 437.3L384.8 437.2L384.4 437.2L384.0 437.1L383.7 437.1L383.3 437.0L382.9 437.0L382.6 436.9L382.2 436.9L381.8 436.8L381.5 436.8L381.1 436.7L380.7 436.7L380.4 436.7L380.0 436.6L379.7 436.6L379.3 436.5L378.9 436.5L378.6 436.4L378.2 436.4L377.9 436.4L377.6 436.3L377.2 436.3L376.9 436.2L376.5 436.2L376.2 436.2L375.8 436.1L375.5 436.1L375.2 436.1L374.8 436.0L374.5 436.0L374.2 436.0L373.8 435.9L373.5 435.9L373.2 435.9L372.8 435.8L372.5 435.8L372.2 435.8L371.9 435.7L371.5 435.7L371.2 435.7L370.9 435.6L370.6 435.6L370.3 435.6L370.0 435.5L369.6 435.5L369.3 435.5L369.0 435.5L368.7 435.4L368.4 435.4L368.1 435.4L367.8 435.4L367.5 435.3L367.2 435.3L366.9 435.3L366.6 435.2L366.3 435.2L366.0 435.2L365.7 435.2L365.4 435.2L365.1 435.1L364.8 435.1L364.5 435.1L364.2 435.1L363.9 435.0L363.6 435.0L363.3 435.0L363.0 435.0L362.7 434.9L362.5 434.9L362.2 434.9L361.9 434.9L361.6 434.8L361.3 434.8L361.0 434.8L360.7 434.8L360.5 434.8L360.2 434.7L359.9 434.7L359.6 434.7L359.3 434.7L359.1 434.6L358.8 434.6L358.5 434.6L358.2 434.6L358.0 434.6L357.7 434.5L357.4 434.5L357.1 434.5L356.9 434.5L356.6 434.5L356.3 434.5L356.1 434.4L355.8 434.4L355.5 434.4L355.3 434.4L355.0 434.4L354.7 434.3L354.5 434.3L354.2 434.3L353.9 434.3L353.7 434.3L353.4 434.3L353.1 434.3L352.9 434.2L352.6 434.2L352.3 434.2L352.1 434.2L351.8 434.2L351.6 434.2L351.3 434.2L351.0 434.2L350.8 434.2L350.5 434.1L350.3 434.1L350.0 434.1L349.7 434.1L349.5 434.1L349.2 434.1L349.0 434.1L348.7 434.1L348.5 434.1L348.2 434.0L347.9 434.0L347.7 434.0L347.4 434.0L347.2 434.0L346.9 434.0L346.7 434.0L346.4 434.0L346.2 434.0L345.9 434.0L345.7 433.9L345.4 433.9L345.2 433.9L344.9 433.9L344.7 433.9L344.4 433.9L344.1 433.9L343.9 433.9L343.6 433.9L343.4 433.9L343.1 433.9L342.9 433.9L342.6 433.9L342.4 433.9L342.1 433.9L341.9 433.9L341.6 433.9L341.4 433.9L341.1 433.9L340.9 433.9L340.6 433.9L340.4 433.9L340.1 433.9L339.9 433.9L339.6 433.9L339.4 433.9L339.1 433.9L338.9 433.9L338.6 433.9L338.4 433.9L338.1 433.9L337.9 433.9L337.6 433.9L337.4 433.9L337.1 433.9L336.9 433.9L336.6 433.9L336.3 433.9L336.1 433.9L335.8 433.9L335.6 433.9L335.3 433.9L335.1 434.0L334.8 434.0L334.6 434.0L334.3 434.0L334.1 434.0L333.8 434.0L333.6 434.0L333.3 434.0L333.1 434.0L332.8 434.0L332.5 434.1L332.3 434.1L332.0 434.1L331.8 434.1L331.5 434.1L331.3 434.1L331.0 434.1L330.7 434.1L330.5 434.1L330.2 434.2L330.0 434.2L329.7 434.2L329.4 434.2L329.2 434.2L328.9 434.2L328.7 434.2L328.4 434.2L328.1 434.2L327.9 434.3L327.6 434.3L327.3 434.3L327.1 434.3L326.8 434.3L326.5 434.3L326.3 434.3L326.0 434.4L325.7 434.4L325.5 434.4L325.2 434.4L324.9 434.4L324.7 434.5L324.4 434.5L324.1 434.5L323.9 434.5L323.6 434.5L323.3 434.5L323.0 434.6L322.8 434.6L322.5 434.6L322.2 434.6L321.9 434.6L321.7 434.7L321.4 434.7L321.1 434.7L320.8 434.7L320.5 434.8L320.3 434.8L320.0 434.8L319.7 434.8L319.4 434.8L319.1 434.9L318.8 434.9L318.5 434.9L318.3 434.9L318.0 435.0L317.7 435.0L317.4 435.0L317.1 435.0L316.8 435.1L316.5 435.1L316.2 435.1L315.9 435.1L315.6 435.2L315.3 435.2L315.0 435.2L314.7 435.2L314.4 435.2L314.1 435.3L313.8 435.3L313.5 435.3L313.2 435.4L312.9 435.4L312.6 435.4L312.3 435.4L312.0 435.5L311.7 435.5L311.4 435.5L311.0 435.5L310.7 435.6L310.4 435.6L310.1 435.6L309.8 435.7L309.5 435.7L309.1 435.7L308.8 435.8L308.5 435.8L308.2 435.8L307.8 435.9L307.5 435.9L307.2 435.9L306.8 436.0L306.5 436.0L306.2 436.0L305.8 436.1L305.5 436.1L305.2 436.1L304.8 436.2L304.5 436.2L304.1 436.2L303.8 436.3L303.4 436.3L303.1 436.4L302.8 436.4L302.4 436.4L302.1 436.5L301.7 436.5L301.3 436.6L301.0 436.6L300.6 436.7L300.3 436.7L299.9 436.7L299.5 436.8L299.2 436.8L298.8 436.9L298.4 436.9L298.1 437.0L297.7 437.0L297.3 437.1L297.0 437.1L296.6 437.2L296.2 437.2L295.8 437.3L295.4 437.3L295.1 437.4L294.7 437.5L294.3 437.5L293.9 437.6L293.5 437.6L293.1 437.7L292.7 437.8L292.3 437.8L291.9 437.9L291.5 438.0L291.1 438.0L290.7 438.1L290.3 438.2L289.9 438.2L289.5 438.3L289.1 438.4L288.7 438.5L288.3 438.5L287.9 438.6L287.5 438.7L287.1 438.8L286.7 438.9L286.2 438.9L285.8 439.0L285.4 439.1L285.0 439.2L284.6 439.3L284.1 439.4L283.7 439.5L283.3 439.6L282.9 439.7L282.4 439.8L282.0 439.9L281.6 440.0L281.1 440.1L280.7 440.2L280.3 440.4L279.9 440.5L279.4 440.6L279.0 440.7L278.5 440.8L278.1 441.0L277.7 441.1L277.2 441.2L276.8 441.4L276.4 441.5L275.9 441.6L275.5 441.8L275.0 441.9L274.6 442.0L274.1 442.2L273.7 442.3L273.3 442.5L272.8 442.6L272.4 442.8L271.9 443.0L271.5 443.1L271.0 443.3L270.6 443.4L270.1 443.6L269.7 443.8L269.2 444.0L268.8 444.1L268.4 444.3L267.9 444.5L267.5 444.7L267.0 444.9L266.6 445.1L266.1 445.3L265.7 445.5L265.2 445.7L264.8 445.9L264.3 446.1L263.9 446.3L263.5 446.5L263.0 446.7L262.6 446.9L262.1 447.2L261.7 447.4L261.2 447.6L260.8 447.9L260.4 448.1L259.9 448.3L259.5 448.6L259.0 448.8L258.6 449.1L258.1 449.3L257.7 449.6L257.2 449.8L256.8 450.1L256.4 450.3L255.9 450.6L255.5 450.9L255.0 451.1L254.6 451.4L254.1 451.7L253.7 452.0L253.2 452.2L252.8 452.5L252.4 452.8L251.9 453.1L251.5 453.4L251.0 453.7L250.6 454.0L250.1 454.3L249.7 454.6L249.2 454.9L248.7 455.2L248.3 455.5L247.8 455.8L247.4 456.1L246.9 456.4L246.5 456.7L246.0 457.1L245.5 457.4L245.1 457.7L244.6 458.0L244.1 458.4L243.6 458.7L243.2 459.1L242.7 459.4L242.2 459.7L241.7 460.1L241.3 460.4L240.8 460.8L240.3 461.1L239.8 461.5L239.3 461.8L238.8 462.2L238.3 462.6L237.8 462.9L237.3 463.3L236.8 463.7L236.3 464.1L235.8 464.4L235.3 464.8L234.8 465.2L234.2 465.6L233.7 466.0L233.2 466.4L232.7 466.8L232.1 467.2L231.6 467.6L231.1 468.0L230.5 468.4L230.0 468.8L229.4 469.2L228.9 469.7L228.4 470.1L227.8 470.5L227.2 471.0L226.7 471.4L226.1 471.8L225.6 472.3L225.0 472.7L224.5 473.2L223.9 473.7L223.4 474.1L222.8 474.6L222.2 475.1L221.7 475.6L221.1 476.0L220.6 476.5L220.0 477.0L219.5 477.5L219.0 478.0L218.4 478.5L217.9 479.1L217.4 479.6L216.9 480.1L216.4 480.7L216.0 481.2L215.5 481.8L215.1 482.4L214.7 482.9L214.3 483.5L213.9 484.1L213.6 484.7L213.3 485.3L213.0 485.8L212.7 486.4L212.5 487.0L212.3 487.6L212.1 488.2L212.0 488.8L211.8 489.4L211.8 490.0L211.7 490.6L211.7 491.2L211.7 491.8L211.8 492.4L211.8 493.0L212.0 493.6L212.1 494.2L212.3 494.8L212.5 495.4" stroke="#2a84cc" stroke-width="2.1" fill="none" stroke-dasharray="7.9 4.0"/><path d="M468.5 495.4L468.7 494.8L468.9 494.2L469.0 493.6L469.2 493.0L469.2 492.4L469.3 491.8L469.3 491.2L469.2 490.6L469.2 490.1L469.1 489.5L468.9 488.9L468.8 488.3L468.6 487.7L468.3 487.1L468.1 486.5L467.8 486.0L467.5 485.4L467.1 484.8L466.8 484.3L466.4 483.7L466.0 483.2L465.6 482.6L465.1 482.1L464.7 481.5L464.2 481.0L463.7 480.5L463.2 479.9L462.7 479.4L462.2 478.9L461.7 478.4L461.2 477.9L460.6 477.4L460.1 476.9L459.5 476.4L459.0 475.9L458.4 475.4L457.9 475.0L457.3 474.5L456.8 474.0L456.2 473.6L455.7 473.1L455.1 472.7L454.5 472.2L454.0 471.8L453.4 471.3L452.9 470.9L452.3 470.5L451.8 470.1L451.2 469.6L450.7 469.2L450.2 468.8L449.6 468.4L449.1 468.0L448.6 467.6L448.0 467.2L447.5 466.8L447.0 466.4L446.5 466.0L445.9 465.6L445.4 465.2L444.9 464.8L444.4 464.5L443.9 464.1L443.4 463.7L442.9 463.3L442.4 463.0L441.9 462.6L441.4 462.2L440.9 461.9L440.4 461.5L439.9 461.2L439.4 460.8L439.0 460.5L438.5 460.1L438.0 459.8L437.5 459.5L437.1 459.1L436.6 458.8L436.1 458.5L435.7 458.1L435.2 457.8L434.7 457.5L434.3 457.2L433.8 456.8L433.3 456.5L432.9 456.2L432.4 455.9L432.0 455.6L431.5 455.3L431.1 455.0L430.6 454.7L430.2 454.4L429.7 454.1L429.3 453.8L428.8 453.5L428.4 453.2L427.9 452.9L427.5 452.7L427.0 452.4L426.6 452.1L426.2 451.8L425.7 451.6L425.3 451.3L424.8 451.0L424.4 450.8L423.9 450.5L423.5 450.3L423.1 450.0L422.6 449.7L422.2 449.5L421.7 449.3L421.3 449.0L420.9 448.8L420.4 448.5L420.0 448.3L419.5 448.1L419.1 447.8L418.6 447.6L418.2 447.4L417.8 447.2L417.3 447.0L416.9 446.7L416.4 446.5L416.0 446.3L415.6 446.1L415.1 445.9L414.7 445.7L414.2 445.5L413.8 445.3L413.3 445.1L412.9 445.0L412.5 444.8L412.0 444.6L411.6 444.4L411.1 444.3L410.7 444.1L410.2 443.9L409.8 443.7L409.4 443.6L408.9 443.4L408.5 443.3L408.0 443.1L407.6 443.0L407.1 442.8L406.7 442.7L406.3 442.5L405.8 442.4L405.4 442.3L404.9 442.1L404.5 442.0L404.1 441.9L403.6 441.7L403.2 441.6L402.7 441.5L402.3 441.4L401.9 441.3L401.4 441.2L401.0 441.0L400.6 440.9L400.1 440.8L399.7 440.7L399.3 440.6L398.9 440.5L398.4 440.4L398.0 440.3L397.6 440.2L397.1 440.2L396.7 440.1L396.3 440.0L395.9 439.9L395.5 439.8L395.0 439.7L394.6 439.7L394.2 439.6L393.8 439.5L393.4 439.4L393.0 439.4L392.6 439.3L392.2 439.2L391.7 439.2L391.3 439.1L390.9 439.0L390.5 439.0L390.1 438.9L389.7 438.9L389.3 438.8L388.9 438.8L388.5 438.7L388.2 438.6L387.8 438.6L387.4 438.5L387.0 438.5L386.6 438.5L386.2 438.4L385.8 438.4L385.4 438.3L385.1 438.3L384.7 438.2L384.3 438.2L383.9 438.2L383.6 438.1L383.2 438.1L382.8 438.0L382.5 438.0L382.1 438.0L381.7 437.9L381.4 437.9L381.0 437.9L380.6 437.8L380.3 437.8L379.9 437.8L379.6 437.8L379.2 437.7L378.9 437.7L378.5 437.7L378.2 437.6L377.8 437.6L377.5 437.6L377.1 437.6L376.8 437.5L376.4 437.5L376.1 437.5L375.8 437.5L375.4 437.5L375.1 437.4L374.7 437.4L374.4 437.4L374.1 437.4L373.7 437.4L373.4 437.3L373.1 437.3L372.8 437.3L372.4 437.3L372.1 437.3L371.8 437.2L371.5 437.2L371.2 437.2L370.8 437.2L370.5 437.2L370.2 437.2L369.9 437.2L369.6 437.1L369.3 437.1L369.0 437.1L368.6 437.1L368.3 437.1L368.0 437.1L367.7 437.1L367.4 437.1L367.1 437.0L366.8 437.0L366.5 437.0L366.2 437.0L365.9 437.0L365.6 437.0L365.3 437.0L365.0 437.0L364.7 437.0L364.4 437.0L364.1 436.9L363.8 436.9L363.6 436.9L363.3 436.9L363.0 436.9L362.7 436.9L362.4 436.9L362.1 436.9L361.8 436.9L361.5 436.9L361.3 436.9L361.0 436.9L360.7 436.9L360.4 436.9L360.1 436.8L359.9 436.8L359.6 436.8L359.3 436.8L359.0 436.8L358.7 436.8L358.5 436.8L358.2 436.8L357.9 436.8L357.6 436.8L357.4 436.8L357.1 436.8L356.8 436.8L356.6 436.8L356.3 436.8L356.0 436.8L355.8 436.8L355.5 436.8L355.2 436.8L355.0 436.7L354.7 436.7L354.4 436.7L354.2 436.7L353.9 436.7L353.6 436.7L353.4 436.7L353.1 436.7L352.8 436.7L352.6 436.7L352.3 436.7L352.1 436.7L351.8 436.7L351.5 436.7L351.3 436.7L351.0 436.7L350.8 436.7L350.5 436.7L350.2 436.7L350.0 436.7L349.7 436.7L349.5 436.7L349.2 436.7L349.0 436.7L348.7 436.7L348.4 436.7L348.2 436.7L347.9 436.7L347.7 436.7L347.4 436.7L347.2 436.7L346.9 436.7L346.7 436.7L346.4 436.7L346.2 436.7L345.9 436.7L345.6 436.7L345.4 436.7L345.1 436.7L344.9 436.7L344.6 436.7L344.4 436.7L344.1 436.7L343.9 436.7L343.6 436.7L343.4 436.7L343.1 436.7L342.9 436.7L342.6 436.7L342.4 436.7L342.1 436.7L341.9 436.7L341.6 436.7L341.4 436.7L341.1 436.7L340.9 436.7L340.6 436.7L340.4 436.7L340.1 436.7L339.9 436.7L339.6 436.7L339.4 436.7L339.1 436.7L338.9 436.7L338.6 436.7L338.4 436.7L338.1 436.7L337.9 436.7L337.6 436.7L337.4 436.7L337.1 436.7L336.9 436.7L336.6 436.7L336.4 436.7L336.1 436.7L335.9 436.7L335.6 436.7L335.4 436.7L335.1 436.7L334.8 436.7L334.6 436.7L334.3 436.7L334.1 436.7L333.8 436.7L333.6 436.7L333.3 436.7L333.1 436.7L332.8 436.7L332.6 436.7L332.3 436.7L332.0 436.7L331.8 436.7L331.5 436.7L331.3 436.7L331.0 436.7L330.8 436.7L330.5 436.7L330.2 436.7L330.0 436.7L329.7 436.7L329.5 436.7L329.2 436.7L328.9 436.7L328.7 436.7L328.4 436.7L328.2 436.7L327.9 436.7L327.6 436.7L327.4 436.7L327.1 436.7L326.8 436.7L326.6 436.7L326.3 436.7L326.0 436.7L325.8 436.8L325.5 436.8L325.2 436.8L325.0 436.8L324.7 436.8L324.4 436.8L324.2 436.8L323.9 436.8L323.6 436.8L323.4 436.8L323.1 436.8L322.8 436.8L322.5 436.8L322.3 436.8L322.0 436.8L321.7 436.8L321.4 436.8L321.1 436.8L320.9 436.8L320.6 436.9L320.3 436.9L320.0 436.9L319.7 436.9L319.5 436.9L319.2 436.9L318.9 436.9L318.6 436.9L318.3 436.9L318.0 436.9L317.7 436.9L317.4 436.9L317.2 436.9L316.9 436.9L316.6 437.0L316.3 437.0L316.0 437.0L315.7 437.0L315.4 437.0L315.1 437.0L314.8 437.0L314.5 437.0L314.2 437.0L313.9 437.0L313.6 437.1L313.3 437.1L313.0 437.1L312.7 437.1L312.4 437.1L312.0 437.1L311.7 437.1L311.4 437.1L311.1 437.2L310.8 437.2L310.5 437.2L310.2 437.2L309.8 437.2L309.5 437.2L309.2 437.2L308.9 437.3L308.6 437.3L308.2 437.3L307.9 437.3L307.6 437.3L307.3 437.4L306.9 437.4L306.6 437.4L306.3 437.4L305.9 437.4L305.6 437.5L305.2 437.5L304.9 437.5L304.6 437.5L304.2 437.5L303.9 437.6L303.5 437.6L303.2 437.6L302.8 437.6L302.5 437.7L302.1 437.7L301.8 437.7L301.4 437.8L301.1 437.8L300.7 437.8L300.4 437.8L300.0 437.9L299.6 437.9L299.3 437.9L298.9 438.0L298.5 438.0L298.2 438.0L297.8 438.1L297.4 438.1L297.1 438.2L296.7 438.2L296.3 438.2L295.9 438.3L295.6 438.3L295.2 438.4L294.8 438.4L294.4 438.5L294.0 438.5L293.6 438.5L293.2 438.6L292.8 438.6L292.5 438.7L292.1 438.8L291.7 438.8L291.3 438.9L290.9 438.9L290.5 439.0L290.1 439.0L289.7 439.1L289.3 439.2L288.8 439.2L288.4 439.3L288.0 439.4L287.6 439.4L287.2 439.5L286.8 439.6L286.4 439.7L286.0 439.7L285.5 439.8L285.1 439.9L284.7 440.0L284.3 440.1L283.9 440.2L283.4 440.2L283.0 440.3L282.6 440.4L282.1 440.5L281.7 440.6L281.3 440.7L280.9 440.8L280.4 440.9L280.0 441.0L279.6 441.2L279.1 441.3L278.7 441.4L278.3 441.5L277.8 441.6L277.4 441.7L276.9 441.9L276.5 442.0L276.1 442.1L275.6 442.3L275.2 442.4L274.7 442.5L274.3 442.7L273.9 442.8L273.4 443.0L273.0 443.1L272.5 443.3L272.1 443.4L271.6 443.6L271.2 443.7L270.8 443.9L270.3 444.1L269.9 444.3L269.4 444.4L269.0 444.6L268.5 444.8L268.1 445.0L267.7 445.1L267.2 445.3L266.8 445.5L266.3 445.7L265.9 445.9L265.4 446.1L265.0 446.3L264.6 446.5L264.1 446.7L263.7 447.0L263.2 447.2L262.8 447.4L262.4 447.6L261.9 447.8L261.5 448.1L261.0 448.3L260.6 448.5L260.1 448.8L259.7 449.0L259.3 449.3L258.8 449.5L258.4 449.7L257.9 450.0L257.5 450.3L257.1 450.5L256.6 450.8L256.2 451.0L255.7 451.3L255.3 451.6L254.8 451.8L254.4 452.1L254.0 452.4L253.5 452.7L253.1 452.9L252.6 453.2L252.2 453.5L251.7 453.8L251.3 454.1L250.8 454.4L250.4 454.7L249.9 455.0L249.5 455.3L249.0 455.6L248.6 455.9L248.1 456.2L247.7 456.5L247.2 456.8L246.7 457.2L246.3 457.5L245.8 457.8L245.3 458.1L244.9 458.5L244.4 458.8L243.9 459.1L243.5 459.5L243.0 459.8L242.5 460.1L242.0 460.5L241.6 460.8L241.1 461.2L240.6 461.5L240.1 461.9L239.6 462.2L239.1 462.6L238.6 463.0L238.1 463.3L237.6 463.7L237.1 464.1L236.6 464.5L236.1 464.8L235.6 465.2L235.1 465.6L234.5 466.0L234.0 466.4L233.5 466.8L233.0 467.2L232.4 467.6L231.9 468.0L231.4 468.4L230.8 468.8L230.3 469.2L229.8 469.6L229.2 470.1L228.7 470.5L228.1 470.9L227.6 471.3L227.0 471.8L226.5 472.2L225.9 472.7L225.3 473.1L224.8 473.6L224.2 474.0L223.7 474.5L223.1 475.0L222.6 475.4L222.0 475.9L221.5 476.4L220.9 476.9L220.4 477.4L219.8 477.9L219.3 478.4L218.8 478.9L218.3 479.4L217.8 479.9L217.3 480.5L216.8 481.0L216.3 481.5L215.9 482.1L215.4 482.6L215.0 483.2L214.6 483.7L214.2 484.3L213.9 484.8L213.5 485.4L213.2 486.0L212.9 486.5L212.7 487.1L212.4 487.7L212.2 488.3L212.1 488.9L211.9 489.5L211.8 490.1L211.8 490.6L211.7 491.2L211.7 491.8L211.8 492.4L211.8 493.0L212.0 493.6L212.1 494.2L212.3 494.8L212.5 495.4" stroke="#4d4d4d" stroke-width="2.1" fill="none" stroke-dasharray="2.1 3.9"/><path d="M430.8 494.2L430.9 493.8L431.0 493.4L431.1 493.0L431.2 492.6L431.2 492.1L431.2 491.7L431.2 491.3L431.2 490.9L431.2 490.5L431.1 490.1L431.0 489.6L430.9 489.2L430.8 488.8L430.7 488.4L430.5 488.0L430.3 487.6L430.1 487.2L429.9 486.8L429.7 486.4L429.5 486.0L429.2 485.6L429.0 485.2L428.7 484.8L428.4 484.4L428.1 484.1L427.8 483.7L427.5 483.3L427.1 482.9L426.8 482.6L426.5 482.2L426.1 481.8L425.8 481.5L425.4 481.1L425.1 480.8L424.7 480.4L424.4 480.1L424.0 479.7L423.6 479.4L423.3 479.1L422.9 478.7L422.5 478.4L422.2 478.1L421.8 477.8L421.4 477.4L421.1 477.1L420.7 476.8L420.3 476.5L420.0 476.2L419.6 475.9L419.2 475.6L418.9 475.3L418.5 475.0L418.2 474.7L417.8 474.4L417.4 474.1L417.1 473.8L416.7 473.5L416.4 473.2L416.0 472.9L415.7 472.7L415.3 472.4L415.0 472.1L414.6 471.8L414.3 471.6L414.0 471.3L413.6 471.0L413.3 470.8L412.9 470.5L412.6 470.2L412.3 470.0L411.9 469.7L411.6 469.5L411.3 469.2L410.9 469.0L410.6 468.7L410.3 468.5L410.0 468.2L409.6 468.0L409.3 467.7L409.0 467.5L408.7 467.2L408.3 467.0L408.0 466.8L407.7 466.5L407.4 466.3L407.1 466.1L406.7 465.9L406.4 465.6L406.1 465.4L405.8 465.2L405.5 465.0L405.1 464.7L404.8 464.5L404.5 464.3L404.2 464.1L403.9 463.9L403.6 463.7L403.2 463.5L402.9 463.3L402.6 463.1L402.3 462.9L402.0 462.7L401.7 462.5L401.3 462.3L401.0 462.1L400.7 461.9L400.4 461.7L400.1 461.6L399.8 461.4L399.4 461.2L399.1 461.0L398.8 460.8L398.5 460.7L398.2 460.5L397.8 460.3L397.5 460.2L397.2 460.0L396.9 459.8L396.5 459.7L396.2 459.5L395.9 459.4L395.6 459.2L395.2 459.1L394.9 458.9L394.6 458.8L394.3 458.7L393.9 458.5L393.6 458.4L393.3 458.3L393.0 458.1L392.6 458.0L392.3 457.9L392.0 457.7L391.6 457.6L391.3 457.5L391.0 457.4L390.6 457.3L390.3 457.2L390.0 457.1L389.7 457.0L389.3 456.8L389.0 456.7L388.7 456.6L388.3 456.6L388.0 456.5L387.7 456.4L387.4 456.3L387.0 456.2L386.7 456.1L386.4 456.0L386.0 455.9L385.7 455.8L385.4 455.8L385.1 455.7L384.8 455.6L384.4 455.5L384.1 455.5L383.8 455.4L383.5 455.3L383.1 455.3L382.8 455.2L382.5 455.1L382.2 455.1L381.9 455.0L381.6 455.0L381.2 454.9L380.9 454.9L380.6 454.8L380.3 454.8L380.0 454.7L379.7 454.7L379.4 454.6L379.1 454.6L378.8 454.5L378.5 454.5L378.2 454.4L377.9 454.4L377.6 454.3L377.3 454.3L377.0 454.3L376.7 454.2L376.4 454.2L376.1 454.2L375.8 454.1L375.5 454.1L375.2 454.1L374.9 454.0L374.6 454.0L374.3 454.0L374.1 453.9L373.8 453.9L373.5 453.9L373.2 453.9L372.9 453.8L372.7 453.8L372.4 453.8L372.1 453.8L371.8 453.7L371.6 453.7L371.3 453.7L371.0 453.7L370.7 453.7L370.5 453.6L370.2 453.6L369.9 453.6L369.7 453.6L369.4 453.6L369.2 453.5L368.9 453.5L368.6 453.5L368.4 453.5L368.1 453.5L367.9 453.5L367.6 453.4L367.4 453.4L367.1 453.4L366.9 453.4L366.6 453.4L366.4 453.4L366.1 453.4L365.9 453.4L365.6 453.3L365.4 453.3L365.2 453.3L364.9 453.3L364.7 453.3L364.4 453.3L364.2 453.3L364.0 453.3L363.7 453.3L363.5 453.2L363.3 453.2L363.0 453.2L362.8 453.2L362.6 453.2L362.4 453.2L362.1 453.2L361.9 453.2L361.7 453.2L361.5 453.2L361.2 453.2L361.0 453.2L360.8 453.2L360.6 453.1L360.3 453.1L360.1 453.1L359.9 453.1L359.7 453.1L359.5 453.1L359.3 453.1L359.0 453.1L358.8 453.1L358.6 453.1L358.4 453.1L358.2 453.1L358.0 453.1L357.8 453.1L357.6 453.1L357.4 453.1L357.2 453.1L356.9 453.1L356.7 453.1L356.5 453.0L356.3 453.0L356.1 453.0L355.9 453.0L355.7 453.0L355.5 453.0L355.3 453.0L355.1 453.0L354.9 453.0L354.7 453.0L354.5 453.0L354.3 453.0L354.1 453.0L353.9 453.0L353.7 453.0L353.5 453.0L353.3 453.0L353.2 453.0L353.0 453.0L352.8 453.0L352.6 453.0L352.4 453.0L352.2 453.0L352.0 453.0L351.8 453.0L351.6 453.0L351.4 453.0L351.2 453.0L351.0 453.0L350.9 453.0L350.7 453.0L350.5 453.0L350.3 453.0L350.1 453.0L349.9 453.0L349.7 453.0L349.6 453.0L349.4 453.0L349.2 453.0L349.0 453.0L348.8 453.0L348.6 453.0L348.4 452.9L348.3 452.9L348.1 452.9L347.9 452.9L347.7 452.9L347.5 452.9L347.4 452.9L347.2 452.9L347.0 452.9L346.8 452.9L346.6 452.9L346.4 452.9L346.3 452.9L346.1 452.9L345.9 452.9L345.7 452.9L345.5 452.9L345.4 452.9L345.2 452.9L345.0 452.9L344.8 452.9L344.7 452.9L344.5 452.9L344.3 452.9L344.1 452.9L343.9 452.9L343.8 452.9L343.6 452.9L343.4 452.9L343.2 452.9L343.1 452.9L342.9 452.9L342.7 452.9L342.5 452.9L342.4 452.9L342.2 452.9L342.0 452.9L341.8 452.9L341.6 452.9L341.5 452.9L341.3 452.9L341.1 452.9L340.9 452.9L340.8 452.9L340.6 452.9L340.4 452.9L340.2 452.9L340.1 452.9L339.9 452.9L339.7 452.9L339.5 452.9L339.4 452.9L339.2 452.9L339.0 452.9L338.8 452.9L338.6 452.9L338.5 452.9L338.3 452.9L338.1 452.9L337.9 452.9L337.8 452.9L337.6 452.9L337.4 452.9L337.2 452.9L337.1 452.9L336.9 452.9L336.7 452.9L336.5 452.9L336.3 452.9L336.2 452.9L336.0 452.9L335.8 452.9L335.6 452.9L335.5 452.9L335.3 452.9L335.1 452.9L334.9 452.9L334.7 452.9L334.6 452.9L334.4 452.9L334.2 452.9L334.0 452.9L333.8 452.9L333.6 452.9L333.5 452.9L333.3 452.9L333.1 452.9L332.9 452.9L332.7 452.9L332.6 452.9L332.4 453.0L332.2 453.0L332.0 453.0L331.8 453.0L331.6 453.0L331.4 453.0L331.3 453.0L331.1 453.0L330.9 453.0L330.7 453.0L330.5 453.0L330.3 453.0L330.1 453.0L330.0 453.0L329.8 453.0L329.6 453.0L329.4 453.0L329.2 453.0L329.0 453.0L328.8 453.0L328.6 453.0L328.4 453.0L328.2 453.0L328.0 453.0L327.8 453.0L327.7 453.0L327.5 453.0L327.3 453.0L327.1 453.0L326.9 453.0L326.7 453.0L326.5 453.0L326.3 453.0L326.1 453.0L325.9 453.0L325.7 453.0L325.5 453.0L325.3 453.0L325.1 453.0L324.9 453.0L324.7 453.0L324.5 453.0L324.3 453.1L324.1 453.1L323.8 453.1L323.6 453.1L323.4 453.1L323.2 453.1L323.0 453.1L322.8 453.1L322.6 453.1L322.4 453.1L322.2 453.1L322.0 453.1L321.7 453.1L321.5 453.1L321.3 453.1L321.1 453.1L320.9 453.1L320.7 453.1L320.4 453.1L320.2 453.2L320.0 453.2L319.8 453.2L319.5 453.2L319.3 453.2L319.1 453.2L318.9 453.2L318.6 453.2L318.4 453.2L318.2 453.2L318.0 453.2L317.7 453.2L317.5 453.2L317.3 453.3L317.0 453.3L316.8 453.3L316.6 453.3L316.3 453.3L316.1 453.3L315.8 453.3L315.6 453.3L315.4 453.3L315.1 453.4L314.9 453.4L314.6 453.4L314.4 453.4L314.1 453.4L313.9 453.4L313.6 453.4L313.4 453.4L313.1 453.5L312.9 453.5L312.6 453.5L312.4 453.5L312.1 453.5L311.8 453.5L311.6 453.6L311.3 453.6L311.1 453.6L310.8 453.6L310.5 453.6L310.3 453.7L310.0 453.7L309.7 453.7L309.4 453.7L309.2 453.7L308.9 453.8L308.6 453.8L308.3 453.8L308.1 453.8L307.8 453.9L307.5 453.9L307.2 453.9L306.9 453.9L306.7 454.0L306.4 454.0L306.1 454.0L305.8 454.1L305.5 454.1L305.2 454.1L304.9 454.2L304.6 454.2L304.3 454.2L304.0 454.3L303.7 454.3L303.4 454.3L303.1 454.4L302.8 454.4L302.5 454.5L302.2 454.5L301.9 454.6L301.6 454.6L301.3 454.7L301.0 454.7L300.7 454.8L300.4 454.8L300.1 454.9L299.8 454.9L299.4 455.0L299.1 455.0L298.8 455.1L298.5 455.1L298.2 455.2L297.9 455.3L297.5 455.3L297.2 455.4L296.9 455.5L296.6 455.5L296.2 455.6L295.9 455.7L295.6 455.8L295.3 455.8L295.0 455.9L294.6 456.0L294.3 456.1L294.0 456.2L293.6 456.3L293.3 456.4L293.0 456.5L292.7 456.6L292.3 456.6L292.0 456.7L291.7 456.8L291.3 457.0L291.0 457.1L290.7 457.2L290.4 457.3L290.0 457.4L289.7 457.5L289.4 457.6L289.0 457.7L288.7 457.9L288.4 458.0L288.0 458.1L287.7 458.3L287.4 458.4L287.1 458.5L286.7 458.7L286.4 458.8L286.1 458.9L285.8 459.1L285.4 459.2L285.1 459.4L284.8 459.5L284.5 459.7L284.1 459.8L283.8 460.0L283.5 460.2L283.2 460.3L282.8 460.5L282.5 460.7L282.2 460.8L281.9 461.0L281.6 461.2L281.2 461.4L280.9 461.6L280.6 461.7L280.3 461.9L280.0 462.1L279.7 462.3L279.3 462.5L279.0 462.7L278.7 462.9L278.4 463.1L278.1 463.3L277.8 463.5L277.4 463.7L277.1 463.9L276.8 464.1L276.5 464.3L276.2 464.5L275.9 464.7L275.5 465.0L275.2 465.2L274.9 465.4L274.6 465.6L274.3 465.9L273.9 466.1L273.6 466.3L273.3 466.5L273.0 466.8L272.7 467.0L272.3 467.2L272.0 467.5L271.7 467.7L271.4 468.0L271.0 468.2L270.7 468.5L270.4 468.7L270.1 469.0L269.7 469.2L269.4 469.5L269.1 469.7L268.7 470.0L268.4 470.2L268.1 470.5L267.7 470.8L267.4 471.0L267.0 471.3L266.7 471.6L266.4 471.8L266.0 472.1L265.7 472.4L265.3 472.7L265.0 472.9L264.6 473.2L264.3 473.5L263.9 473.8L263.6 474.1L263.2 474.4L262.8 474.7L262.5 475.0L262.1 475.3L261.8 475.6L261.4 475.9L261.0 476.2L260.7 476.5L260.3 476.8L259.9 477.1L259.6 477.4L259.2 477.8L258.8 478.1L258.5 478.4L258.1 478.7L257.7 479.1L257.4 479.4L257.0 479.7L256.6 480.1L256.3 480.4L255.9 480.8L255.6 481.1L255.2 481.5L254.9 481.8L254.5 482.2L254.2 482.6L253.9 482.9L253.5 483.3L253.2 483.7L252.9 484.1L252.6 484.4L252.3 484.8L252.0 485.2L251.8 485.6L251.5 486.0L251.3 486.4L251.1 486.8L250.9 487.2L250.7 487.6L250.5 488.0L250.3 488.4L250.2 488.8L250.1 489.2L250.0 489.6L249.9 490.1L249.8 490.5L249.8 490.9L249.8 491.3L249.8 491.7L249.8 492.1L249.8 492.6L249.9 493.0L250.0 493.4L250.1 493.8L250.2 494.2" stroke="#826ec8" stroke-width="2.1" fill="none"/><path d="M430.8 494.2L430.9 493.8L431.0 493.4L431.1 493.0L431.2 492.6L431.2 492.1L431.2 491.7L431.3 491.3L431.3 490.9L431.3 490.5L431.2 490.0L431.2 489.6L431.1 489.2L431.0 488.8L430.9 488.3L430.7 487.9L430.6 487.5L430.4 487.1L430.2 486.6L430.0 486.2L429.8 485.8L429.5 485.4L429.3 485.0L429.0 484.6L428.7 484.2L428.5 483.8L428.2 483.4L427.8 483.0L427.5 482.6L427.2 482.2L426.8 481.9L426.5 481.5L426.1 481.1L425.8 480.8L425.4 480.4L425.1 480.1L424.7 479.7L424.3 479.4L424.0 479.0L423.6 478.7L423.2 478.4L422.9 478.0L422.5 477.7L422.1 477.4L421.8 477.1L421.4 476.7L421.0 476.4L420.7 476.1L420.3 475.8L419.9 475.5L419.6 475.2L419.2 474.9L418.8 474.6L418.5 474.3L418.1 474.0L417.8 473.7L417.4 473.4L417.0 473.1L416.7 472.8L416.3 472.6L416.0 472.3L415.6 472.0L415.3 471.7L415.0 471.4L414.6 471.2L414.3 470.9L413.9 470.6L413.6 470.4L413.2 470.1L412.9 469.8L412.6 469.6L412.2 469.3L411.9 469.1L411.6 468.8L411.2 468.6L410.9 468.3L410.6 468.1L410.3 467.8L409.9 467.6L409.6 467.3L409.3 467.1L409.0 466.8L408.6 466.6L408.3 466.4L408.0 466.1L407.7 465.9L407.3 465.7L407.0 465.4L406.7 465.2L406.4 465.0L406.1 464.8L405.7 464.6L405.4 464.3L405.1 464.1L404.8 463.9L404.5 463.7L404.2 463.5L403.8 463.3L403.5 463.1L403.2 462.9L402.9 462.7L402.6 462.5L402.2 462.3L401.9 462.1L401.6 461.9L401.3 461.7L401.0 461.5L400.6 461.3L400.3 461.1L400.0 460.9L399.7 460.8L399.4 460.6L399.0 460.4L398.7 460.2L398.4 460.1L398.1 459.9L397.7 459.7L397.4 459.6L397.1 459.4L396.8 459.2L396.4 459.1L396.1 458.9L395.8 458.8L395.4 458.6L395.1 458.5L394.8 458.3L394.5 458.2L394.1 458.1L393.8 457.9L393.5 457.8L393.1 457.7L392.8 457.5L392.5 457.4L392.1 457.3L391.8 457.2L391.5 457.0L391.1 456.9L390.8 456.8L390.5 456.7L390.1 456.6L389.8 456.5L389.5 456.4L389.1 456.3L388.8 456.2L388.5 456.1L388.2 456.0L387.8 455.9L387.5 455.8L387.2 455.7L386.8 455.6L386.5 455.5L386.2 455.4L385.8 455.3L385.5 455.3L385.2 455.2L384.9 455.1L384.5 455.0L384.2 455.0L383.9 454.9L383.6 454.8L383.3 454.7L382.9 454.7L382.6 454.6L382.3 454.5L382.0 454.5L381.7 454.4L381.3 454.3L381.0 454.3L380.7 454.2L380.4 454.2L380.1 454.1L379.8 454.1L379.5 454.0L379.2 453.9L378.9 453.9L378.6 453.8L378.2 453.8L377.9 453.7L377.6 453.7L377.3 453.6L377.0 453.6L376.7 453.6L376.4 453.5L376.2 453.5L375.9 453.4L375.6 453.4L375.3 453.3L375.0 453.3L374.7 453.3L374.4 453.2L374.1 453.2L373.8 453.2L373.6 453.1L373.3 453.1L373.0 453.1L372.7 453.0L372.4 453.0L372.2 453.0L371.9 452.9L371.6 452.9L371.3 452.9L371.1 452.8L370.8 452.8L370.5 452.8L370.3 452.8L370.0 452.7L369.7 452.7L369.5 452.7L369.2 452.6L369.0 452.6L368.7 452.6L368.4 452.5L368.2 452.5L367.9 452.5L367.7 452.5L367.4 452.4L367.2 452.4L366.9 452.4L366.7 452.4L366.4 452.3L366.2 452.3L365.9 452.3L365.7 452.2L365.5 452.2L365.2 452.2L365.0 452.2L364.7 452.1L364.5 452.1L364.3 452.1L364.0 452.1L363.8 452.0L363.6 452.0L363.3 452.0L363.1 452.0L362.9 451.9L362.6 451.9L362.4 451.9L362.2 451.9L361.9 451.8L361.7 451.8L361.5 451.8L361.3 451.8L361.1 451.7L360.8 451.7L360.6 451.7L360.4 451.7L360.2 451.7L360.0 451.6L359.7 451.6L359.5 451.6L359.3 451.6L359.1 451.6L358.9 451.5L358.7 451.5L358.4 451.5L358.2 451.5L358.0 451.5L357.8 451.4L357.6 451.4L357.4 451.4L357.2 451.4L357.0 451.3L356.8 451.3L356.6 451.3L356.4 451.3L356.2 451.3L356.0 451.2L355.8 451.2L355.6 451.2L355.4 451.2L355.2 451.2L355.0 451.1L354.8 451.1L354.6 451.1L354.4 451.1L354.2 451.0L354.0 451.0L353.8 451.0L353.6 451.0L353.4 451.0L353.2 450.9L353.0 450.9L352.8 450.9L352.6 450.9L352.4 450.9L352.2 450.8L352.0 450.8L351.8 450.8L351.6 450.8L351.5 450.8L351.3 450.7L351.1 450.7L350.9 450.7L350.7 450.7L350.5 450.7L350.3 450.7L350.1 450.6L349.9 450.6L349.8 450.6L349.6 450.6L349.4 450.6L349.2 450.6L349.0 450.6L348.8 450.6L348.6 450.5L348.5 450.5L348.3 450.5L348.1 450.5L347.9 450.5L347.7 450.5L347.5 450.5L347.4 450.5L347.2 450.5L347.0 450.5L346.8 450.4L346.6 450.4L346.5 450.4L346.3 450.4L346.1 450.4L345.9 450.4L345.7 450.4L345.6 450.4L345.4 450.4L345.2 450.4L345.0 450.3L344.8 450.3L344.7 450.3L344.5 450.3L344.3 450.3L344.1 450.3L344.0 450.3L343.8 450.3L343.6 450.3L343.4 450.3L343.2 450.3L343.1 450.3L342.9 450.3L342.7 450.3L342.5 450.3L342.4 450.2L342.2 450.2L342.0 450.2L341.8 450.2L341.6 450.2L341.5 450.2L341.3 450.2L341.1 450.2L340.9 450.2L340.8 450.2L340.6 450.2L340.4 450.2L340.2 450.2L340.1 450.2L339.9 450.2L339.7 450.2L339.5 450.2L339.4 450.2L339.2 450.2L339.0 450.2L338.8 450.2L338.6 450.2L338.5 450.3L338.3 450.3L338.1 450.3L337.9 450.3L337.8 450.3L337.6 450.3L337.4 450.3L337.2 450.3L337.0 450.3L336.9 450.3L336.7 450.3L336.5 450.3L336.3 450.3L336.2 450.3L336.0 450.3L335.8 450.4L335.6 450.4L335.4 450.4L335.3 450.4L335.1 450.4L334.9 450.4L334.7 450.4L334.5 450.4L334.4 450.4L334.2 450.4L334.0 450.5L333.8 450.5L333.6 450.5L333.5 450.5L333.3 450.5L333.1 450.5L332.9 450.5L332.7 450.5L332.5 450.5L332.4 450.5L332.2 450.6L332.0 450.6L331.8 450.6L331.6 450.6L331.4 450.6L331.2 450.6L331.1 450.6L330.9 450.6L330.7 450.7L330.5 450.7L330.3 450.7L330.1 450.7L329.9 450.7L329.7 450.7L329.5 450.8L329.4 450.8L329.2 450.8L329.0 450.8L328.8 450.8L328.6 450.9L328.4 450.9L328.2 450.9L328.0 450.9L327.8 450.9L327.6 451.0L327.4 451.0L327.2 451.0L327.0 451.0L326.8 451.0L326.6 451.1L326.4 451.1L326.2 451.1L326.0 451.1L325.8 451.2L325.6 451.2L325.4 451.2L325.2 451.2L325.0 451.2L324.8 451.3L324.6 451.3L324.4 451.3L324.2 451.3L324.0 451.3L323.8 451.4L323.6 451.4L323.4 451.4L323.2 451.4L323.0 451.5L322.8 451.5L322.6 451.5L322.3 451.5L322.1 451.5L321.9 451.6L321.7 451.6L321.5 451.6L321.3 451.6L321.0 451.6L320.8 451.7L320.6 451.7L320.4 451.7L320.2 451.7L319.9 451.7L319.7 451.8L319.5 451.8L319.3 451.8L319.1 451.8L318.8 451.9L318.6 451.9L318.4 451.9L318.1 451.9L317.9 452.0L317.7 452.0L317.4 452.0L317.2 452.0L317.0 452.1L316.7 452.1L316.5 452.1L316.3 452.1L316.0 452.2L315.8 452.2L315.5 452.2L315.3 452.2L315.1 452.3L314.8 452.3L314.6 452.3L314.3 452.4L314.1 452.4L313.8 452.4L313.6 452.4L313.3 452.5L313.1 452.5L312.8 452.5L312.6 452.5L312.3 452.6L312.0 452.6L311.8 452.6L311.5 452.7L311.3 452.7L311.0 452.7L310.7 452.8L310.5 452.8L310.2 452.8L309.9 452.8L309.7 452.9L309.4 452.9L309.1 452.9L308.8 453.0L308.6 453.0L308.3 453.0L308.0 453.1L307.7 453.1L307.4 453.1L307.2 453.2L306.9 453.2L306.6 453.2L306.3 453.3L306.0 453.3L305.7 453.3L305.4 453.4L305.1 453.4L304.8 453.5L304.6 453.5L304.3 453.6L304.0 453.6L303.7 453.6L303.4 453.7L303.1 453.7L302.8 453.8L302.4 453.8L302.1 453.9L301.8 453.9L301.5 454.0L301.2 454.1L300.9 454.1L300.6 454.2L300.3 454.2L300.0 454.3L299.7 454.3L299.3 454.4L299.0 454.5L298.7 454.5L298.4 454.6L298.1 454.7L297.7 454.7L297.4 454.8L297.1 454.9L296.8 455.0L296.5 455.0L296.1 455.1L295.8 455.2L295.5 455.3L295.2 455.3L294.8 455.4L294.5 455.5L294.2 455.6L293.8 455.7L293.5 455.8L293.2 455.9L292.8 456.0L292.5 456.1L292.2 456.2L291.9 456.3L291.5 456.4L291.2 456.5L290.9 456.6L290.5 456.7L290.2 456.8L289.9 456.9L289.5 457.0L289.2 457.2L288.9 457.3L288.5 457.4L288.2 457.5L287.9 457.7L287.5 457.8L287.2 457.9L286.9 458.1L286.5 458.2L286.2 458.3L285.9 458.5L285.6 458.6L285.2 458.8L284.9 458.9L284.6 459.1L284.2 459.2L283.9 459.4L283.6 459.6L283.3 459.7L282.9 459.9L282.6 460.1L282.3 460.2L282.0 460.4L281.6 460.6L281.3 460.8L281.0 460.9L280.7 461.1L280.4 461.3L280.0 461.5L279.7 461.7L279.4 461.9L279.1 462.1L278.8 462.3L278.4 462.5L278.1 462.7L277.8 462.9L277.5 463.1L277.2 463.3L276.8 463.5L276.5 463.7L276.2 463.9L275.9 464.1L275.6 464.3L275.3 464.6L274.9 464.8L274.6 465.0L274.3 465.2L274.0 465.4L273.7 465.7L273.3 465.9L273.0 466.1L272.7 466.4L272.4 466.6L272.0 466.8L271.7 467.1L271.4 467.3L271.1 467.6L270.7 467.8L270.4 468.1L270.1 468.3L269.8 468.6L269.4 468.8L269.1 469.1L268.8 469.3L268.4 469.6L268.1 469.8L267.8 470.1L267.4 470.4L267.1 470.6L266.7 470.9L266.4 471.2L266.0 471.4L265.7 471.7L265.4 472.0L265.0 472.3L264.7 472.6L264.3 472.8L264.0 473.1L263.6 473.4L263.2 473.7L262.9 474.0L262.5 474.3L262.2 474.6L261.8 474.9L261.4 475.2L261.1 475.5L260.7 475.8L260.3 476.1L260.0 476.4L259.6 476.7L259.2 477.1L258.9 477.4L258.5 477.7L258.1 478.0L257.8 478.4L257.4 478.7L257.0 479.0L256.7 479.4L256.3 479.7L255.9 480.1L255.6 480.4L255.2 480.8L254.9 481.1L254.5 481.5L254.2 481.9L253.8 482.2L253.5 482.6L253.2 483.0L252.8 483.4L252.5 483.8L252.3 484.2L252.0 484.6L251.7 485.0L251.5 485.4L251.2 485.8L251.0 486.2L250.8 486.6L250.6 487.1L250.4 487.5L250.3 487.9L250.1 488.3L250.0 488.8L249.9 489.2L249.8 489.6L249.8 490.0L249.7 490.5L249.7 490.9L249.7 491.3L249.8 491.7L249.8 492.1L249.8 492.6L249.9 493.0L250.0 493.4L250.1 493.8L250.2 494.2" stroke="#3a98d8" stroke-width="2.1" fill="none" stroke-dasharray="7.9 4.0"/><path d="M430.8 494.2L430.9 493.8L431.0 493.4L431.1 493.0L431.2 492.6L431.2 492.1L431.2 491.7L431.2 491.3L431.2 490.9L431.2 490.5L431.1 490.1L431.0 489.6L430.9 489.2L430.8 488.8L430.7 488.4L430.5 488.0L430.3 487.6L430.1 487.2L429.9 486.8L429.7 486.4L429.5 486.0L429.2 485.6L429.0 485.2L428.7 484.8L428.4 484.4L428.1 484.1L427.8 483.7L427.5 483.3L427.1 482.9L426.8 482.6L426.5 482.2L426.1 481.8L425.8 481.5L425.4 481.1L425.1 480.8L424.7 480.4L424.4 480.1L424.0 479.7L423.6 479.4L423.3 479.1L422.9 478.7L422.5 478.4L422.2 478.1L421.8 477.8L421.4 477.4L421.1 477.1L420.7 476.8L420.3 476.5L420.0 476.2L419.6 475.9L419.2 475.6L418.9 475.3L418.5 475.0L418.2 474.7L417.8 474.4L417.4 474.1L417.1 473.8L416.7 473.5L416.4 473.2L416.0 472.9L415.7 472.7L415.3 472.4L415.0 472.1L414.6 471.8L414.3 471.6L414.0 471.3L413.6 471.0L413.3 470.8L412.9 470.5L412.6 470.2L412.3 470.0L411.9 469.7L411.6 469.5L411.3 469.2L410.9 469.0L410.6 468.7L410.3 468.5L410.0 468.2L409.6 468.0L409.3 467.7L409.0 467.5L408.7 467.2L408.3 467.0L408.0 466.8L407.7 466.5L407.4 466.3L407.1 466.1L406.7 465.9L406.4 465.6L406.1 465.4L405.8 465.2L405.5 465.0L405.1 464.7L404.8 464.5L404.5 464.3L404.2 464.1L403.9 463.9L403.6 463.7L403.2 463.5L402.9 463.3L402.6 463.1L402.3 462.9L402.0 462.7L401.7 462.5L401.3 462.3L401.0 462.1L400.7 461.9L400.4 461.7L400.1 461.6L399.8 461.4L399.4 461.2L399.1 461.0L398.8 460.8L398.5 460.7L398.2 460.5L397.8 460.3L397.5 460.2L397.2 460.0L396.9 459.8L396.5 459.7L396.2 459.5L395.9 459.4L395.6 459.2L395.2 459.1L394.9 458.9L394.6 458.8L394.3 458.7L393.9 458.5L393.6 458.4L393.3 458.3L393.0 458.1L392.6 458.0L392.3 457.9L392.0 457.7L391.6 457.6L391.3 457.5L391.0 457.4L390.6 457.3L390.3 457.2L390.0 457.1L389.7 457.0L389.3 456.8L389.0 456.7L388.7 456.6L388.3 456.6L388.0 456.5L387.7 456.4L387.4 456.3L387.0 456.2L386.7 456.1L386.4 456.0L386.0 455.9L385.7 455.8L385.4 455.8L385.1 455.7L384.8 455.6L384.4 455.5L384.1 455.5L383.8 455.4L383.5 455.3L383.1 455.3L382.8 455.2L382.5 455.1L382.2 455.1L381.9 455.0L381.6 455.0L381.2 454.9L380.9 454.9L380.6 454.8L380.3 454.8L380.0 454.7L379.7 454.7L379.4 454.6L379.1 454.6L378.8 454.5L378.5 454.5L378.2 454.4L377.9 454.4L377.6 454.3L377.3 454.3L377.0 454.3L376.7 454.2L376.4 454.2L376.1 454.2L375.8 454.1L375.5 454.1L375.2 454.1L374.9 454.0L374.6 454.0L374.3 454.0L374.1 453.9L373.8 453.9L373.5 453.9L373.2 453.9L372.9 453.8L372.7 453.8L372.4 453.8L372.1 453.8L371.8 453.7L371.6 453.7L371.3 453.7L371.0 453.7L370.7 453.7L370.5 453.6L370.2 453.6L369.9 453.6L369.7 453.6L369.4 453.6L369.2 453.5L368.9 453.5L368.6 453.5L368.4 453.5L368.1 453.5L367.9 453.5L367.6 453.4L367.4 453.4L367.1 453.4L366.9 453.4L366.6 453.4L366.4 453.4L366.1 453.4L365.9 453.4L365.6 453.3L365.4 453.3L365.2 453.3L364.9 453.3L364.7 453.3L364.4 453.3L364.2 453.3L364.0 453.3L363.7 453.3L363.5 453.2L363.3 453.2L363.0 453.2L362.8 453.2L362.6 453.2L362.4 453.2L362.1 453.2L361.9 453.2L361.7 453.2L361.5 453.2L361.2 453.2L361.0 453.2L360.8 453.2L360.6 453.1L360.3 453.1L360.1 453.1L359.9 453.1L359.7 453.1L359.5 453.1L359.3 453.1L359.0 453.1L358.8 453.1L358.6 453.1L358.4 453.1L358.2 453.1L358.0 453.1L357.8 453.1L357.6 453.1L357.4 453.1L357.2 453.1L356.9 453.1L356.7 453.1L356.5 453.0L356.3 453.0L356.1 453.0L355.9 453.0L355.7 453.0L355.5 453.0L355.3 453.0L355.1 453.0L354.9 453.0L354.7 453.0L354.5 453.0L354.3 453.0L354.1 453.0L353.9 453.0L353.7 453.0L353.5 453.0L353.3 453.0L353.2 453.0L353.0 453.0L352.8 453.0L352.6 453.0L352.4 453.0L352.2 453.0L352.0 453.0L351.8 453.0L351.6 453.0L351.4 453.0L351.2 453.0L351.0 453.0L350.9 453.0L350.7 453.0L350.5 453.0L350.3 453.0L350.1 453.0L349.9 453.0L349.7 453.0L349.6 453.0L349.4 453.0L349.2 453.0L349.0 453.0L348.8 453.0L348.6 453.0L348.4 452.9L348.3 452.9L348.1 452.9L347.9 452.9L347.7 452.9L347.5 452.9L347.4 452.9L347.2 452.9L347.0 452.9L346.8 452.9L346.6 452.9L346.4 452.9L346.3 452.9L346.1 452.9L345.9 452.9L345.7 452.9L345.5 452.9L345.4 452.9L345.2 452.9L345.0 452.9L344.8 452.9L344.7 452.9L344.5 452.9L344.3 452.9L344.1 452.9L343.9 452.9L343.8 452.9L343.6 452.9L343.4 452.9L343.2 452.9L343.1 452.9L342.9 452.9L342.7 452.9L342.5 452.9L342.4 452.9L342.2 452.9L342.0 452.9L341.8 452.9L341.6 452.9L341.5 452.9L341.3 452.9L341.1 452.9L340.9 452.9L340.8 452.9L340.6 452.9L340.4 452.9L340.2 452.9L340.1 452.9L339.9 452.9L339.7 452.9L339.5 452.9L339.4 452.9L339.2 452.9L339.0 452.9L338.8 452.9L338.6 452.9L338.5 452.9L338.3 452.9L338.1 452.9L337.9 452.9L337.8 452.9L337.6 452.9L337.4 452.9L337.2 452.9L337.1 452.9L336.9 452.9L336.7 452.9L336.5 452.9L336.3 452.9L336.2 452.9L336.0 452.9L335.8 452.9L335.6 452.9L335.5 452.9L335.3 452.9L335.1 452.9L334.9 452.9L334.7 452.9L334.6 452.9L334.4 452.9L334.2 452.9L334.0 452.9L333.8 452.9L333.6 452.9L333.5 452.9L333.3 452.9L333.1 452.9L332.9 452.9L332.7 452.9L332.6 452.9L332.4 453.0L332.2 453.0L332.0 453.0L331.8 453.0L331.6 453.0L331.4 453.0L331.3 453.0L331.1 453.0L330.9 453.0L330.7 453.0L330.5 453.0L330.3 453.0L330.1 453.0L330.0 453.0L329.8 453.0L329.6 453.0L329.4 453.0L329.2 453.0L329.0 453.0L328.8 453.0L328.6 453.0L328.4 453.0L328.2 453.0L328.0 453.0L327.8 453.0L327.7 453.0L327.5 453.0L327.3 453.0L327.1 453.0L326.9 453.0L326.7 453.0L326.5 453.0L326.3 453.0L326.1 453.0L325.9 453.0L325.7 453.0L325.5 453.0L325.3 453.0L325.1 453.0L324.9 453.0L324.7 453.0L324.5 453.0L324.3 453.1L324.1 453.1L323.8 453.1L323.6 453.1L323.4 453.1L323.2 453.1L323.0 453.1L322.8 453.1L322.6 453.1L322.4 453.1L322.2 453.1L322.0 453.1L321.7 453.1L321.5 453.1L321.3 453.1L321.1 453.1L320.9 453.1L320.7 453.1L320.4 453.1L320.2 453.2L320.0 453.2L319.8 453.2L319.5 453.2L319.3 453.2L319.1 453.2L318.9 453.2L318.6 453.2L318.4 453.2L318.2 453.2L318.0 453.2L317.7 453.2L317.5 453.2L317.3 453.3L317.0 453.3L316.8 453.3L316.6 453.3L316.3 453.3L316.1 453.3L315.8 453.3L315.6 453.3L315.4 453.3L315.1 453.4L314.9 453.4L314.6 453.4L314.4 453.4L314.1 453.4L313.9 453.4L313.6 453.4L313.4 453.4L313.1 453.5L312.9 453.5L312.6 453.5L312.4 453.5L312.1 453.5L311.8 453.5L311.6 453.6L311.3 453.6L311.1 453.6L310.8 453.6L310.5 453.6L310.3 453.7L310.0 453.7L309.7 453.7L309.4 453.7L309.2 453.7L308.9 453.8L308.6 453.8L308.3 453.8L308.1 453.8L307.8 453.9L307.5 453.9L307.2 453.9L306.9 453.9L306.7 454.0L306.4 454.0L306.1 454.0L305.8 454.1L305.5 454.1L305.2 454.1L304.9 454.2L304.6 454.2L304.3 454.2L304.0 454.3L303.7 454.3L303.4 454.3L303.1 454.4L302.8 454.4L302.5 454.5L302.2 454.5L301.9 454.6L301.6 454.6L301.3 454.7L301.0 454.7L300.7 454.8L300.4 454.8L300.1 454.9L299.8 454.9L299.4 455.0L299.1 455.0L298.8 455.1L298.5 455.1L298.2 455.2L297.9 455.3L297.5 455.3L297.2 455.4L296.9 455.5L296.6 455.5L296.2 455.6L295.9 455.7L295.6 455.8L295.3 455.8L295.0 455.9L294.6 456.0L294.3 456.1L294.0 456.2L293.6 456.3L293.3 456.4L293.0 456.5L292.7 456.6L292.3 456.6L292.0 456.7L291.7 456.8L291.3 457.0L291.0 457.1L290.7 457.2L290.4 457.3L290.0 457.4L289.7 457.5L289.4 457.6L289.0 457.7L288.7 457.9L288.4 458.0L288.0 458.1L287.7 458.3L287.4 458.4L287.1 458.5L286.7 458.7L286.4 458.8L286.1 458.9L285.8 459.1L285.4 459.2L285.1 459.4L284.8 459.5L284.5 459.7L284.1 459.8L283.8 460.0L283.5 460.2L283.2 460.3L282.8 460.5L282.5 460.7L282.2 460.8L281.9 461.0L281.6 461.2L281.2 461.4L280.9 461.6L280.6 461.7L280.3 461.9L280.0 462.1L279.7 462.3L279.3 462.5L279.0 462.7L278.7 462.9L278.4 463.1L278.1 463.3L277.8 463.5L277.4 463.7L277.1 463.9L276.8 464.1L276.5 464.3L276.2 464.5L275.9 464.7L275.5 465.0L275.2 465.2L274.9 465.4L274.6 465.6L274.3 465.9L273.9 466.1L273.6 466.3L273.3 466.5L273.0 466.8L272.7 467.0L272.3 467.2L272.0 467.5L271.7 467.7L271.4 468.0L271.0 468.2L270.7 468.5L270.4 468.7L270.1 469.0L269.7 469.2L269.4 469.5L269.1 469.7L268.7 470.0L268.4 470.2L268.1 470.5L267.7 470.8L267.4 471.0L267.0 471.3L266.7 471.6L266.4 471.8L266.0 472.1L265.7 472.4L265.3 472.7L265.0 472.9L264.6 473.2L264.3 473.5L263.9 473.8L263.6 474.1L263.2 474.4L262.8 474.7L262.5 475.0L262.1 475.3L261.8 475.6L261.4 475.9L261.0 476.2L260.7 476.5L260.3 476.8L259.9 477.1L259.6 477.4L259.2 477.8L258.8 478.1L258.5 478.4L258.1 478.7L257.7 479.1L257.4 479.4L257.0 479.7L256.6 480.1L256.3 480.4L255.9 480.8L255.6 481.1L255.2 481.5L254.9 481.8L254.5 482.2L254.2 482.6L253.9 482.9L253.5 483.3L253.2 483.7L252.9 484.1L252.6 484.4L252.3 484.8L252.0 485.2L251.8 485.6L251.5 486.0L251.3 486.4L251.1 486.8L250.9 487.2L250.7 487.6L250.5 488.0L250.3 488.4L250.2 488.8L250.1 489.2L250.0 489.6L249.9 490.1L249.8 490.5L249.8 490.9L249.8 491.3L249.8 491.7L249.8 492.1L249.8 492.6L249.9 493.0L250.0 493.4L250.1 493.8L250.2 494.2" stroke="#6e6e6e" stroke-width="2.1" fill="none" stroke-dasharray="2.1 3.9"/><circle cx="551.57" cy="491.50" r="3.9" fill="#1d1d1d"/><circle cx="444.12" cy="418.02" r="3.9" fill="#1d1d1d"/><circle cx="511.63" cy="491.50" r="3.9" fill="#404040"/><circle cx="427.36" cy="429.90" r="3.9" fill="#404040"/><circle cx="469.36" cy="491.50" r="3.9" fill="#5f5f5f"/><circle cx="407.53" cy="443.97" r="3.9" fill="#5f5f5f"/><circle cx="430.99" cy="491.50" r="3.9" fill="#7a7a7a"/><circle cx="388.38" cy="457.55" r="3.9" fill="#7a7a7a"/></g><path d="M72.20 9.20V275.30" stroke="#000" stroke-width="1.90" stroke-linecap="square"/><path d="M604.50 9.20V275.30" stroke="#000" stroke-width="1.10" stroke-linecap="square"/><path d="M72.20 9.20H604.50" stroke="#000" stroke-width="1.70" stroke-linecap="square"/><path d="M72.20 275.55H604.50" stroke="#000" stroke-width="1.10" stroke-linecap="square"/><path d="M74.50 346.00V491.50" stroke="#000" stroke-width="1.10" stroke-linecap="square"/><path d="M606.50 346.00V491.50" stroke="#000" stroke-width="1.10" stroke-linecap="square"/><path d="M74.50 346.00H606.50" stroke="#000" stroke-width="1.70" stroke-linecap="square"/><path d="M74.50 491.50H606.50" stroke="#000" stroke-width="1.10" stroke-linecap="square"/><path d="M72.50 275.30V280.60M205.50 275.30V280.60M338.50 275.30V280.60M471.50 275.30V280.60M604.50 275.30V280.60M138.50 275.30V279.00M271.50 275.30V279.00M404.50 275.30V279.00M537.50 275.30V279.00M72.20 275.50H66.90M72.20 142.50H66.90M72.20 9.50H66.90M72.20 208.50H68.50M72.20 75.50H68.50" stroke="#000" stroke-width="1.0" fill="none"/><path d="M74.50 491.50V496.80M207.50 491.50V496.80M340.50 491.50V496.80M473.50 491.50V496.80M606.50 491.50V496.80M141.50 491.50V495.20M274.50 491.50V495.20M407.50 491.50V495.20M540.50 491.50V495.20M74.50 491.50H69.20M74.50 418.50H69.20M74.50 346.50H69.20M74.50 455.50H70.80M74.50 382.50H70.80" stroke="#000" stroke-width="1.0" fill="none"/><text x="61.1" y="15.75" style="font-family:'DejaVu Sans',sans-serif;font-size:15.8px" text-anchor="end">450</text><text x="61.1" y="148.80" style="font-family:'DejaVu Sans',sans-serif;font-size:15.8px" text-anchor="end">225</text><text x="61.1" y="281.85" style="font-family:'DejaVu Sans',sans-serif;font-size:15.8px" text-anchor="end">0</text><text x="72.20" y="298.4" style="font-family:'DejaVu Sans',sans-serif;font-size:15.8px" text-anchor="middle">−450</text><text x="205.27" y="298.4" style="font-family:'DejaVu Sans',sans-serif;font-size:15.8px" text-anchor="middle">−225</text><text x="338.35" y="298.4" style="font-family:'DejaVu Sans',sans-serif;font-size:15.8px" text-anchor="middle">0</text><text x="471.42" y="298.4" style="font-family:'DejaVu Sans',sans-serif;font-size:15.8px" text-anchor="middle">225</text><text x="604.50" y="298.4" style="font-family:'DejaVu Sans',sans-serif;font-size:15.8px" text-anchor="middle">450</text><text x="63.6" y="351.75" style="font-family:'DejaVu Sans',sans-serif;font-size:15.8px" text-anchor="end">300</text><text x="63.6" y="424.50" style="font-family:'DejaVu Sans',sans-serif;font-size:15.8px" text-anchor="end">150</text><text x="63.6" y="497.25" style="font-family:'DejaVu Sans',sans-serif;font-size:15.8px" text-anchor="end">0</text><text x="74.50" y="514.2" style="font-family:'DejaVu Sans',sans-serif;font-size:15.8px" text-anchor="middle">−550</text><text x="207.50" y="514.2" style="font-family:'DejaVu Sans',sans-serif;font-size:15.8px" text-anchor="middle">−275</text><text x="340.50" y="514.2" style="font-family:'DejaVu Sans',sans-serif;font-size:15.8px" text-anchor="middle">0</text><text x="473.50" y="514.2" style="font-family:'DejaVu Sans',sans-serif;font-size:15.8px" text-anchor="middle">275</text><text x="606.50" y="514.2" style="font-family:'DejaVu Sans',sans-serif;font-size:15.8px" text-anchor="middle">550</text><path d="M79.9 24.8H115.5" stroke="#3f007d" stroke-width="2.2"/><path d="M79.9 47.9H115.5" stroke="#084a91" stroke-width="2.3" stroke-dasharray="7.2 2.2"/><path d="M79.9 70.7H115.5" stroke="#000" stroke-width="2.1" stroke-dasharray="2.1 2.9"/><circle cx="97.8" cy="94.5" r="3.6" fill="#000"/><rect x="78.7" y="114.9" width="111.4" height="25.6" fill="#fff" stroke="#888" stroke-width="1.6"/><path d="M244.7 165.5L174.8 160.9" stroke="#a1d490" stroke-width="1.3" fill="none"/><path d="M165.5 160.9L174.8 156.6L174.8 165.2Z" fill="#a1d490"/><path d="M256.9 186.2L174.8 182.4" stroke="#a1d490" stroke-width="1.3" fill="none"/><path d="M165.5 182.4L174.8 178.1L174.8 186.7Z" fill="#a1d490"/><path d="M275.6 208.1L174.8 204.0" stroke="#a1d490" stroke-width="1.3" fill="none"/><path d="M165.5 204.0L174.8 199.7L174.8 208.3Z" fill="#a1d490"/><path d="M292.7 230.1L174.8 225.6" stroke="#a1d490" stroke-width="1.3" fill="none"/><path d="M165.5 225.6L174.8 221.3L174.8 229.9Z" fill="#a1d490"/><text transform="translate(119.88 31.90) scale(1.0000 1)" style="font-family:'Liberation Sans',Arial,sans-serif;font-size:17.80px;">GSD-7p (without</text><text transform="translate(255.26 31.90) scale(1.0500 1)" style="font-family:'Liberation Serif','DejaVu Serif',serif;font-size:17.80px;font-style:italic">r</text><text transform="translate(263.06 35.30) scale(1.0000 1)" style="font-family:'Liberation Sans',Arial,sans-serif;font-size:12.60px;">b</text><text transform="translate(271.24 31.90) scale(1.0000 1)" style="font-family:'Liberation Sans',Arial,sans-serif;font-size:17.80px;">,</text><text transform="translate(280.64 31.90) scale(0.9961 1)" style="font-family:'Liberation Sans',Arial,sans-serif;font-size:17.80px;">K=4)</text><text transform="translate(119.53 55.00) scale(1.0077 1)" style="font-family:'Liberation Sans',Arial,sans-serif;font-size:17.80px;">Poly4*Hosford (n=10)</text><text transform="translate(120.27 78.30) scale(1.0005 1)" style="font-family:'Liberation Sans',Arial,sans-serif;font-size:17.80px;">Yld2000-2d (n=8)</text><text transform="translate(118.95 102.20) scale(0.9899 1)" style="font-family:'Liberation Sans',Arial,sans-serif;font-size:17.80px;">Exp. data</text><text transform="translate(84.65 134.90) scale(1.0035 1)" style="font-family:'Liberation Sans',Arial,sans-serif;font-size:17.80px;">AA6022-T43</text><text transform="translate(75.53 167.30) scale(1.0073 1)" style="font-family:'Liberation Sans',Arial,sans-serif;font-size:17.80px;">EPS=0.20</text><text transform="translate(75.53 189.00) scale(1.0073 1)" style="font-family:'Liberation Sans',Arial,sans-serif;font-size:17.80px;">EPS=0.10</text><text transform="translate(75.53 210.70) scale(1.0043 1)" style="font-family:'Liberation Sans',Arial,sans-serif;font-size:17.80px;">EPS=0.04</text><text transform="translate(75.52 232.30) scale(1.0122 1)" style="font-family:'Liberation Sans',Arial,sans-serif;font-size:17.80px;">EPS=0.002</text><text transform="translate(490.83 32.00) scale(1.0039 1)" style="font-family:'Liberation Sans',Arial,sans-serif;font-size:17.80px;">Normal plane</text><text transform="translate(480.93 369.90) scale(1.0043 1)" style="font-family:'Liberation Sans',Arial,sans-serif;font-size:17.80px;">Diagonal plane</text><text transform="translate(292.95 322.90) scale(1.0500 1)" style="font-family:'DejaVu Sans',sans-serif;font-size:18.60px;font-style:italic">σ</text><text transform="translate(305.50 325.60) scale(1.0500 1)" style="font-family:'DejaVu Sans',sans-serif;font-size:13.00px;">11</text><text transform="translate(329.01 322.90) scale(1.0563 1)" style="font-family:'DejaVu Sans',sans-serif;font-size:18.60px;">[MPa]</text><text transform="translate(251.26 544.60) scale(1.0500 1)" style="font-family:'DejaVu Sans',sans-serif;font-size:18.60px;">2</text><text transform="translate(265.55 544.60) scale(1.0500 1)" style="font-family:'DejaVu Sans',sans-serif;font-size:18.60px;font-style:italic">σ</text><text transform="translate(278.50 547.40) scale(1.0500 1)" style="font-family:'DejaVu Sans',sans-serif;font-size:13.00px;">11</text><text transform="translate(301.80 544.60) scale(1.0500 1)" style="font-family:'DejaVu Sans',sans-serif;font-size:18.60px;">=</text><text transform="translate(338.36 544.60) scale(1.0500 1)" style="font-family:'DejaVu Sans',sans-serif;font-size:18.60px;">2</text><text transform="translate(353.55 544.60) scale(1.0500 1)" style="font-family:'DejaVu Sans',sans-serif;font-size:18.60px;font-style:italic">σ</text><text transform="translate(366.05 547.40) scale(1.0500 1)" style="font-family:'DejaVu Sans',sans-serif;font-size:13.00px;">22</text><text transform="translate(390.53 544.60) scale(1.0420 1)" style="font-family:'DejaVu Sans',sans-serif;font-size:18.60px;">[MPa]</text><text transform="translate(19.90 188.05) rotate(-90) scale(1.0500 1)" style="font-family:'DejaVu Sans',sans-serif;font-size:18.60px;font-style:italic">σ</text><text transform="translate(22.60 174.75) rotate(-90) scale(1.0500 1)" style="font-family:'DejaVu Sans',sans-serif;font-size:13.00px;">22</text><text transform="translate(19.90 150.99) rotate(-90) scale(1.0500 1)" style="font-family:'DejaVu Sans',sans-serif;font-size:18.60px;">[MPa]</text><text transform="translate(22.00 463.65) rotate(-90) scale(1.0500 1)" style="font-family:'DejaVu Sans',sans-serif;font-size:18.60px;font-style:italic">σ</text><text transform="translate(24.70 450.89) rotate(-90) scale(1.0500 1)" style="font-family:'DejaVu Sans',sans-serif;font-size:13.00px;">12</text><text transform="translate(22.00 426.59) rotate(-90) scale(1.0500 1)" style="font-family:'DejaVu Sans',sans-serif;font-size:18.60px;">[MPa]</text><text transform="translate(238.5 543.0) scale(0.72 1)" style="font-family:'DejaVu Sans',sans-serif;font-size:22.90px">√</text><text transform="translate(325.8 543.0) scale(0.72 1)" style="font-family:'DejaVu Sans',sans-serif;font-size:22.90px">√</text><path d="M248.4 524.6H266.8M335.9 524.6H354.0" stroke="#000" stroke-width="0.9"/></svg></body></html>
